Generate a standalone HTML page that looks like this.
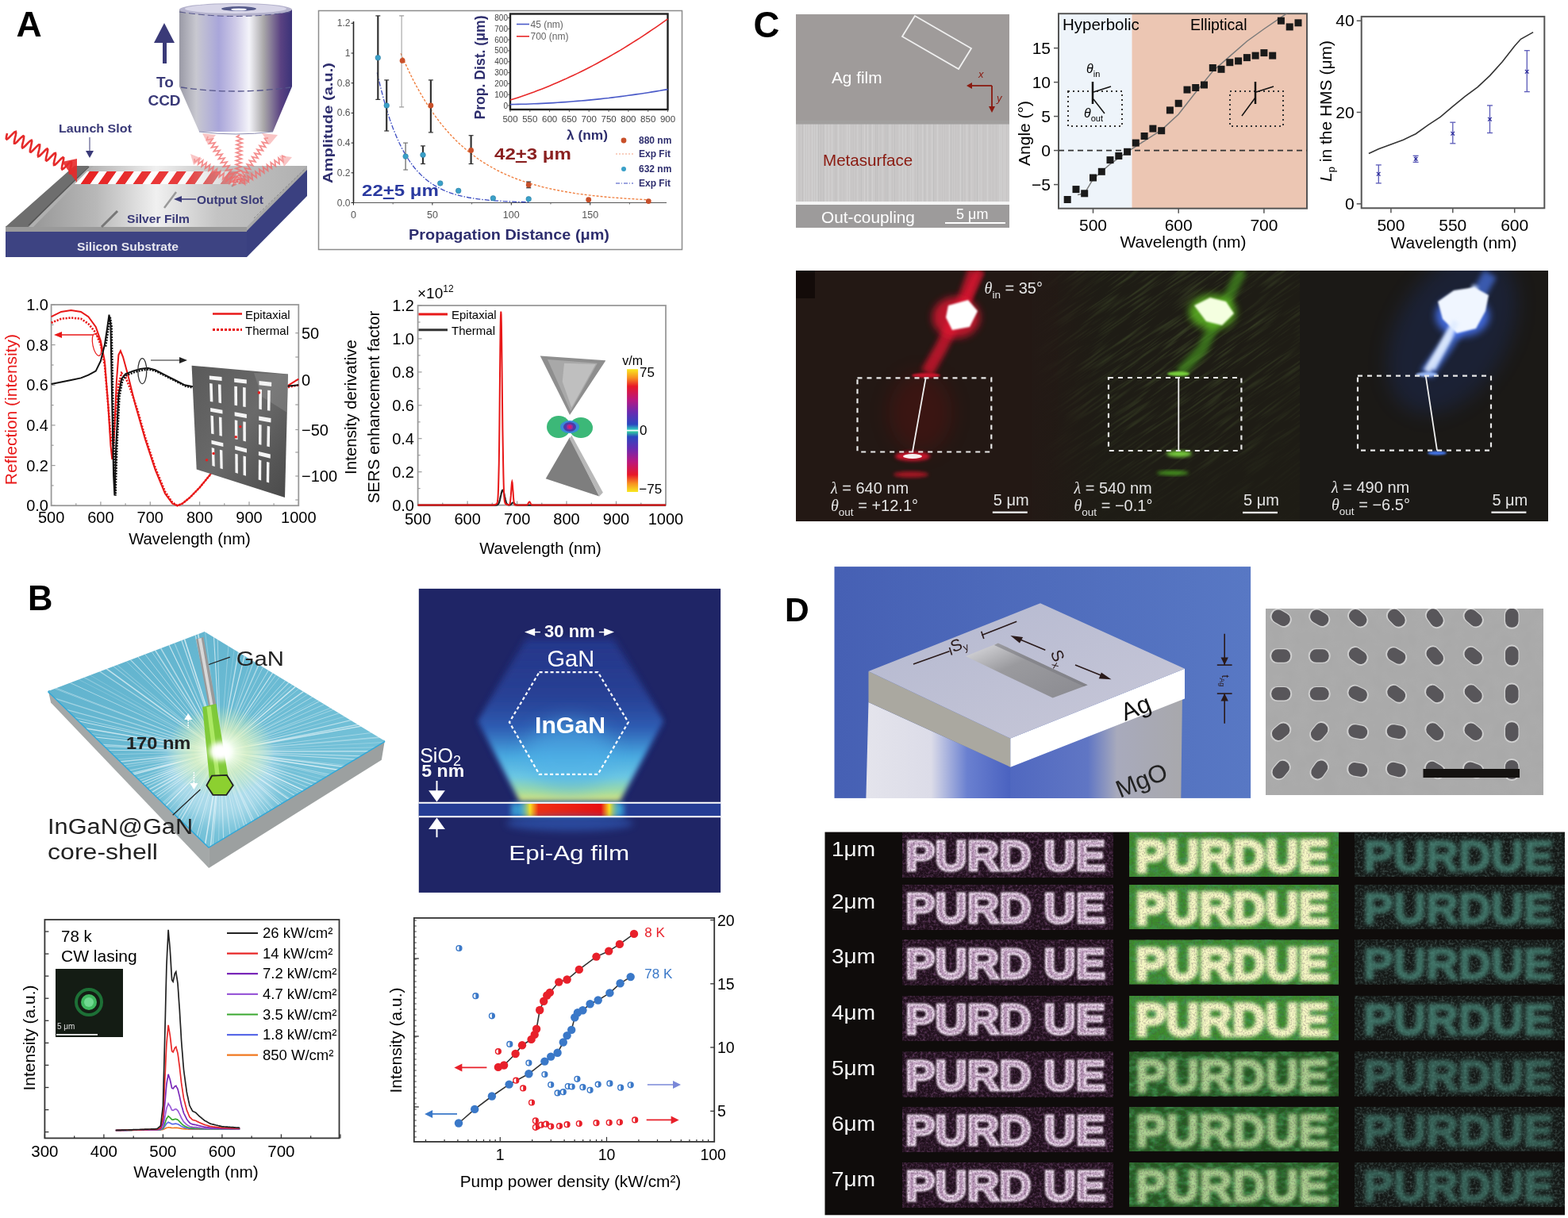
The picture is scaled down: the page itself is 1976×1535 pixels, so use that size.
<!DOCTYPE html>
<html><head><meta charset="utf-8"><title>Figure</title>
<style>
html,body{margin:0;padding:0;background:#fff;}
body{width:1976px;height:1535px;overflow:hidden;}
svg{display:block;}
text{font-family:"Liberation Sans",Arial,sans-serif;}
.b{font-weight:bold;}
</style></head><body>
<svg width="1976" height="1535" viewBox="0 0 1976 1535">
<defs>
<linearGradient id="gCyl" x1="0" x2="1" y1="0" y2="0">
 <stop offset="0" stop-color="#9a9aa6"/>
 <stop offset="0.15" stop-color="#c8c8d0"/>
 <stop offset="0.35" stop-color="#a9a6da"/>
 <stop offset="0.5" stop-color="#cfcbe8"/>
 <stop offset="0.62" stop-color="#f4f4fa"/>
 <stop offset="0.75" stop-color="#a8a6a8"/>
 <stop offset="0.9" stop-color="#5a4282"/>
 <stop offset="1" stop-color="#3a3278"/>
</linearGradient>
<linearGradient id="gSlabTop" x1="0" x2="1" y1="0" y2="0">
 <stop offset="0" stop-color="#8a8a8a"/>
 <stop offset="0.3" stop-color="#b8b8b8"/>
 <stop offset="0.5" stop-color="#f0f0f0"/>
 <stop offset="0.7" stop-color="#c4c4c4"/>
 <stop offset="1" stop-color="#b0b0b0"/>
</linearGradient>
<linearGradient id="gBeam" x1="0" x2="1" y1="0" y2="0">
 <stop offset="0" stop-color="#e82020" stop-opacity="1"/>
 <stop offset="0.7" stop-color="#e82020" stop-opacity="0.8"/>
 <stop offset="1" stop-color="#e82020" stop-opacity="0.1"/>
</linearGradient>
<pattern id="pStripe" width="22" height="20" patternUnits="userSpaceOnUse" patternTransform="skewX(-35)">
 <rect width="22" height="20" fill="#fff" fill-opacity="0"/>
 <rect x="0" width="13" height="20" fill="#ffffff"/>
</pattern>
<filter id="blur1" x="-20%" y="-20%" width="140%" height="140%"><feGaussianBlur stdDeviation="1"/></filter>
<filter id="blur2" x="-30%" y="-30%" width="160%" height="160%"><feGaussianBlur stdDeviation="2"/></filter>
<filter id="blur3" x="-30%" y="-30%" width="160%" height="160%"><feGaussianBlur stdDeviation="3"/></filter>
<filter id="blur5" x="-50%" y="-50%" width="200%" height="200%"><feGaussianBlur stdDeviation="5"/></filter>
<filter id="blur8" x="-50%" y="-50%" width="200%" height="200%"><feGaussianBlur stdDeviation="8"/></filter>
<filter id="blur12" x="-80%" y="-80%" width="260%" height="260%"><feGaussianBlur stdDeviation="12"/></filter>
</defs><text x="20.5" y="46" font-size="44.5" class="b" fill="#000">A</text><polygon points="7,291 311,291 311,324 7,324" fill="#3d4382"/><polygon points="311,286 387,209 387,247 311,324" fill="#3a4080"/><polygon points="7,285 311,285 311,292 7,292" fill="#9a9a9a"/><polygon points="311,285 387,209 387,214 311,291" fill="#a8a8a8"/><polygon points="94,209 387,209 311,286 7,286" fill="url(#gSlabTop)"/><polygon points="7,286 36,286 112,209 94,209" fill="#6e6e6e"/><polygon points="36,286 42,286 118,209 112,209" fill="#b0b0b0"/><line x1="36" y1="284" x2="112" y2="210" stroke="#555" stroke-width="1.5"/><line x1="128" y1="286" x2="148" y2="266" stroke="#777" stroke-width="3"/><line x1="207" y1="262" x2="222" y2="242" stroke="#999" stroke-width="2.5"/><line x1="292" y1="235" x2="300" y2="227" stroke="#999" stroke-width="2"/><line x1="320" y1="275" x2="384" y2="213" stroke="#888" stroke-width="1" stroke-dasharray="3,2"/><defs><linearGradient id="gFadeM" x1="0" x2="1"><stop offset="0" stop-color="#fff"/><stop offset="0.6" stop-color="#fff" stop-opacity="0.85"/><stop offset="1" stop-color="#fff" stop-opacity="0"/></linearGradient><mask id="mBeam" maskUnits="userSpaceOnUse" x="90" y="210" width="240" height="30"><rect x="90" y="210" width="240" height="30" fill="url(#gFadeM)"/></mask><pattern id="pStripeR" width="22" height="20" patternUnits="userSpaceOnUse" patternTransform="skewX(-35)"><rect x="0" width="12" height="20" fill="#e82020"/><rect x="12" width="10" height="20" fill="#fff"/></pattern></defs><polygon points="110,216 320,216 314,232 94,232" fill="url(#pStripeR)" mask="url(#mBeam)"/><polyline points="9.0,168.0 8.1,172.0 7.8,174.7 8.6,175.6 10.5,174.3 13.1,171.6 16.0,168.6 18.4,166.4 19.9,165.9 20.2,167.6 19.6,171.0 18.6,175.1 17.9,178.7 18.0,180.7 19.2,180.7 21.5,178.7 24.3,175.7 27.1,172.9 29.2,171.3 30.1,171.8 30.0,174.3 29.2,178.1 28.2,182.1 27.8,185.2 28.4,186.4 30.1,185.5 32.6,183.0 35.5,179.9 38.1,177.5 39.7,176.7 40.2,178.0 39.7,181.1 38.8,185.2 37.9,189.0 37.9,191.4 38.9,191.7 41.0,190.0 43.8,187.1 46.7,184.2 48.9,182.3 50.1,182.4 50.1,184.5 49.4,188.2 48.4,192.3 47.8,195.6 48.2,197.2 49.7,196.6 52.1,194.3 55.0,191.3 57.7,188.6 59.5,187.5 60.2,188.4 59.9,191.3 58.9,195.3 58.0,199.2 57.8,201.9 58.7,202.6 60.6,201.3 63.3,198.5 66.2,195.5 68.6,193.3 69.9,193.0 70.2,194.8 69.5,198.3 68.5,202.4 67.8,205.9 68.0,207.9 69.3,207.7 71.7,205.6 74.5,202.6 77.3,199.8 79.3,198.4 80.2,198.9 80.0,201.5 79.1,205.4 78.2,209.4 77.8,212.4 78.4,213.5 80.2,212.4 82.8,209.9 85.7,206.8 88.2,204.4 89.8,203.8 90.2,205.2 89.7,208.4 88.7,212.5 87.9,216.2 87.9,218.5 89.0,218.7 91.2,216.9 94.0,214.0" fill="none" stroke="#e52a2a" stroke-width="2.6"/><polygon points="78,204 97,200 97,230" fill="#e52a2a" opacity="0.9"/><polyline points="262.0,172.0 260.5,176.3 268.0,175.0 263.5,181.1 271.0,179.8 266.5,185.9 274.0,184.7 269.5,190.8 277.0,189.5 272.5,195.6 280.0,194.3 275.5,200.4 283.0,199.2 278.5,205.3 286.0,204.0 281.5,210.1 289.0,208.8 284.5,214.9 292.0,213.7 287.5,219.8 295.0,218.5 290.5,224.6 298.0,223.3 293.5,229.4 298.0,230.0" fill="none" stroke="#f06a6a" stroke-width="1.8" opacity="0.75"/><polyline points="302.0,170.0 298.4,172.4 305.3,175.1 298.3,177.4 305.2,180.1 298.1,182.4 305.0,185.1 297.9,187.4 304.8,190.1 297.8,192.4 304.7,195.1 297.6,197.4 304.5,200.1 297.4,202.4 304.3,205.1 297.3,207.4 304.2,210.1 297.1,212.4 304.0,215.1 296.9,217.4 303.8,220.1 296.8,222.4 303.7,225.1 296.6,227.4 300.0,230.0" fill="none" stroke="#f06a6a" stroke-width="1.8" opacity="0.75"/><polyline points="338.0,174.0 333.5,174.4 337.7,180.6 330.4,179.0 334.6,185.3 327.2,183.7 331.4,190.0 324.0,188.4 328.2,194.6 320.9,193.0 325.1,199.3 317.7,197.7 321.9,204.0 314.5,202.4 318.7,208.6 311.4,207.0 315.6,213.3 308.2,211.7 312.4,218.0 305.0,216.4 309.2,222.6 301.9,221.0 306.1,227.3 298.7,225.7 300.0,230.0" fill="none" stroke="#f06a6a" stroke-width="1.8" opacity="0.75"/><polyline points="245.0,200.0 245.4,204.3 251.2,199.7 249.8,207.0 255.6,202.3 254.2,209.7 260.1,205.0 258.6,212.3 264.5,207.7 263.1,215.0 268.9,210.3 267.5,217.7 273.3,213.0 271.9,220.3 277.7,215.7 276.3,223.0 282.1,218.3 280.7,225.7 286.6,221.0 285.1,228.3 291.0,223.7 289.6,231.0 295.4,226.3 294.0,233.7 298.0,232.0" fill="none" stroke="#f06a6a" stroke-width="1.8" opacity="0.75"/><polyline points="360.0,198.0 355.8,196.4 356.9,203.9 351.0,199.2 352.1,206.7 346.1,202.1 347.3,209.5 341.3,204.9 342.4,212.4 336.5,207.7 337.6,215.2 331.6,210.6 332.8,218.0 326.8,213.4 327.9,220.9 322.0,216.2 323.1,223.7 317.1,219.1 318.3,226.5 312.3,221.9 313.4,229.4 307.5,224.7 308.6,232.2 302.6,227.6 302.0,232.0" fill="none" stroke="#f06a6a" stroke-width="1.8" opacity="0.75"/><g fill="#f6a0a0" opacity="0.6"><polygon points="255,168 272,170 262,182"/><polygon points="330,168 350,170 340,182"/><polygon points="240,194 255,200 244,208"/><polygon points="352,196 368,198 358,210"/></g><rect x="226" y="12" width="142" height="97" fill="url(#gCyl)"/><polygon points="226,109 368,109 344,166 251,166" fill="url(#gCyl)"/><ellipse cx="297" cy="12" rx="71" ry="8" fill="#b4b2cc"/><ellipse cx="297" cy="11" rx="64" ry="6" fill="#d8d6e8"/><ellipse cx="301" cy="11" rx="22" ry="3" fill="#555a8a"/><ellipse cx="301" cy="12" rx="10" ry="1.6" fill="#f0f0ff"/><path d="M228,110 Q297,120 366,110" fill="none" stroke="#55558a" stroke-width="1.3" stroke-dasharray="8,4"/><path d="M226,15 Q297,26 368,15" fill="none" stroke="#55558a" stroke-width="1" stroke-dasharray="8,4"/><path d="M251,166 Q297,172 344,166" fill="none" stroke="#8a8ab0" stroke-width="1"/><polygon points="207,29 194,54 220,54" fill="#3a3a78"/><rect x="205" y="53" width="5" height="27" fill="#3a3a78"/><text x="208" y="110" font-size="19" class="b" fill="#3a3a78" text-anchor="middle">To</text><text x="207" y="133" font-size="19" class="b" fill="#3a3a78" text-anchor="middle">CCD</text><text x="74" y="167" font-size="14.5" class="b" fill="#3a3a78" textLength="92" lengthAdjust="spacingAndGlyphs">Launch Slot</text><line x1="113" y1="173" x2="113" y2="192" stroke="#3a3a78" stroke-width="1"/><polygon points="108,190 118,190 113,199" fill="#3a3a78"/><text x="248" y="257" font-size="14.5" class="b" fill="#3a3a78" textLength="84" lengthAdjust="spacingAndGlyphs">Output Slot</text><line x1="228" y1="251" x2="247" y2="251" stroke="#3a3a78" stroke-width="1.5"/><polygon points="219,251 229,247 229,255" fill="#3a3a78"/><text x="160" y="281" font-size="14.5" class="b" fill="#3a3a78" textLength="79" lengthAdjust="spacingAndGlyphs">Silver Film</text><text x="97" y="316" font-size="14.5" class="b" fill="#e8e8f0" textLength="128" lengthAdjust="spacingAndGlyphs">Silicon Substrate</text><rect x="401.5" y="13.5" width="458" height="301" fill="#fff" stroke="#8c8c8c" stroke-width="1.5"/><line x1="445.5" y1="27" x2="445.5" y2="255.5" stroke="#222" stroke-width="1.6"/><line x1="445.5" y1="255.5" x2="840" y2="255.5" stroke="#555" stroke-width="1.2"/><line x1="442.5" y1="29.3" x2="445.5" y2="29.3" stroke="#222" stroke-width="1"/><text x="441.5" y="33.3" font-size="12" fill="#555" text-anchor="end">1.2</text><line x1="442.5" y1="67.0" x2="445.5" y2="67.0" stroke="#222" stroke-width="1"/><text x="441.5" y="71.0" font-size="12" fill="#555" text-anchor="end">1</text><line x1="442.5" y1="104.7" x2="445.5" y2="104.7" stroke="#222" stroke-width="1"/><text x="441.5" y="108.7" font-size="12" fill="#555" text-anchor="end">0.8</text><line x1="442.5" y1="142.4" x2="445.5" y2="142.4" stroke="#222" stroke-width="1"/><text x="441.5" y="146.4" font-size="12" fill="#555" text-anchor="end">0.6</text><line x1="442.5" y1="180.1" x2="445.5" y2="180.1" stroke="#222" stroke-width="1"/><text x="441.5" y="184.1" font-size="12" fill="#555" text-anchor="end">0.4</text><line x1="442.5" y1="217.8" x2="445.5" y2="217.8" stroke="#222" stroke-width="1"/><text x="441.5" y="221.8" font-size="12" fill="#555" text-anchor="end">0.2</text><line x1="442.5" y1="255.5" x2="445.5" y2="255.5" stroke="#222" stroke-width="1"/><text x="441.5" y="259.5" font-size="12" fill="#555" text-anchor="end">0.0</text><line x1="445.5" y1="255.5" x2="445.5" y2="258.5" stroke="#222" stroke-width="1"/><text x="445.5" y="274.5" font-size="12.5" fill="#555" text-anchor="middle">0</text><line x1="544.9" y1="255.5" x2="544.9" y2="258.5" stroke="#222" stroke-width="1"/><text x="544.9" y="274.5" font-size="12.5" fill="#555" text-anchor="middle">50</text><line x1="644.3" y1="255.5" x2="644.3" y2="258.5" stroke="#222" stroke-width="1"/><text x="644.3" y="274.5" font-size="12.5" fill="#555" text-anchor="middle">100</text><line x1="743.7" y1="255.5" x2="743.7" y2="258.5" stroke="#222" stroke-width="1"/><text x="743.7" y="274.5" font-size="12.5" fill="#555" text-anchor="middle">150</text><line x1="495.2" y1="255.5" x2="495.2" y2="257.5" stroke="#444" stroke-width="0.8"/><line x1="594.6" y1="255.5" x2="594.6" y2="257.5" stroke="#444" stroke-width="0.8"/><line x1="694.0" y1="255.5" x2="694.0" y2="257.5" stroke="#444" stroke-width="0.8"/><line x1="793.4" y1="255.5" x2="793.4" y2="257.5" stroke="#444" stroke-width="0.8"/><text transform="translate(419,155) rotate(-90)" font-size="16.5" class="b" fill="#2e2e6e" text-anchor="middle" textLength="152" lengthAdjust="spacingAndGlyphs">Amplitude (a.u.)</text><text x="515" y="302" font-size="17.5" class="b" fill="#2e2e6e" textLength="253" lengthAdjust="spacingAndGlyphs">Propagation Distance (μm)</text><polyline points="505.1,67.2 509.1,76.4 513.1,85.1 517.1,93.5 521.0,101.4 525.0,108.9 529.0,116.0 533.0,122.8 536.9,129.3 540.9,135.5 544.9,141.3 548.9,146.9 552.9,152.2 556.8,157.2 560.8,162.0 564.8,166.6 568.8,170.9 572.7,175.0 576.7,179.0 580.7,182.7 584.7,186.2 588.6,189.6 592.6,192.8 596.6,195.9 600.6,198.8 604.5,201.6 608.5,204.2 612.5,206.7 616.5,209.1 620.4,211.3 624.4,213.5 628.4,215.5 632.4,217.5 636.3,219.3 640.3,221.1 644.3,222.8 648.3,224.4 652.3,225.9 656.2,227.3 660.2,228.7 664.2,230.0 668.2,231.3 672.1,232.4 676.1,233.6 680.1,234.6 684.1,235.7 688.0,236.6 692.0,237.5 696.0,238.4 700.0,239.3 703.9,240.0 707.9,240.8 711.9,241.5 715.9,242.2 719.8,242.8 723.8,243.5 727.8,244.1 731.8,244.6 735.7,245.1 739.7,245.6 743.7,246.1 747.7,246.6 751.7,247.0 755.6,247.4 759.6,247.8 763.6,248.2 767.6,248.6 771.5,248.9 775.5,249.2 779.5,249.5 783.5,249.8 787.4,250.1 791.4,250.4 795.4,250.6 799.4,250.8 803.3,251.1 807.3,251.3 811.3,251.5 815.3,251.7 819.2,251.9" fill="none" stroke="#f08040" stroke-width="1.4" stroke-dasharray="3,2"/><polyline points="475.3,91.5 479.3,108.8 483.3,124.2 487.2,138.0 491.2,150.3 495.2,161.4 499.2,171.3 503.2,180.2 507.1,188.1 511.1,195.2 515.1,201.5 519.1,207.2 523.0,212.3 527.0,216.8 531.0,220.9 535.0,224.5 538.9,227.8 542.9,230.7 546.9,233.3 550.9,235.6 554.8,237.7 558.8,239.6 562.8,241.3 566.8,242.8 570.7,244.1 574.7,245.3 578.7,246.4 582.7,247.3 586.6,248.2 590.6,249.0 594.6,249.6 598.6,250.3 602.6,250.8 606.5,251.3 610.5,251.7 614.5,252.1 618.5,252.5 622.4,252.8 626.4,253.1 630.4,253.3 634.4,253.6 638.3,253.8 642.3,254.0 646.3,254.1 650.3,254.3 654.2,254.4 658.2,254.5 662.2,254.6 666.2,254.7" fill="none" stroke="#3a4ac0" stroke-width="1.3" stroke-dasharray="6,2,1.5,2"/><line x1="476.3" y1="125.4" x2="476.3" y2="19.9" stroke="#333" stroke-width="2.2"/><line x1="473.3" y1="125.4" x2="479.3" y2="125.4" stroke="#333" stroke-width="1.2"/><line x1="473.3" y1="19.9" x2="479.3" y2="19.9" stroke="#333" stroke-width="1.2"/><line x1="506.1" y1="134.9" x2="506.1" y2="19.9" stroke="#999" stroke-width="1"/><line x1="503.1" y1="134.9" x2="509.1" y2="134.9" stroke="#999" stroke-width="1.2"/><line x1="503.1" y1="19.9" x2="509.1" y2="19.9" stroke="#999" stroke-width="1.2"/><line x1="487.2" y1="165.0" x2="487.2" y2="100.9" stroke="#333" stroke-width="2.2"/><line x1="484.2" y1="165.0" x2="490.2" y2="165.0" stroke="#333" stroke-width="1.2"/><line x1="484.2" y1="100.9" x2="490.2" y2="100.9" stroke="#333" stroke-width="1.2"/><line x1="542.9" y1="166.9" x2="542.9" y2="100.9" stroke="#333" stroke-width="2.2"/><line x1="539.9" y1="166.9" x2="545.9" y2="166.9" stroke="#333" stroke-width="1.2"/><line x1="539.9" y1="100.9" x2="545.9" y2="100.9" stroke="#333" stroke-width="1.2"/><line x1="511.1" y1="214.0" x2="511.1" y2="180.1" stroke="#777" stroke-width="1.4"/><line x1="508.1" y1="214.0" x2="514.1" y2="214.0" stroke="#777" stroke-width="1.2"/><line x1="508.1" y1="180.1" x2="514.1" y2="180.1" stroke="#777" stroke-width="1.2"/><line x1="533.0" y1="206.5" x2="533.0" y2="183.9" stroke="#333" stroke-width="2.2"/><line x1="530.0" y1="206.5" x2="536.0" y2="206.5" stroke="#333" stroke-width="1.2"/><line x1="530.0" y1="183.9" x2="536.0" y2="183.9" stroke="#333" stroke-width="1.2"/><line x1="593.6" y1="206.5" x2="593.6" y2="170.7" stroke="#333" stroke-width="2.2"/><line x1="590.6" y1="206.5" x2="596.6" y2="206.5" stroke="#333" stroke-width="1.2"/><line x1="590.6" y1="170.7" x2="596.6" y2="170.7" stroke="#333" stroke-width="1.2"/><line x1="666.2" y1="236.7" x2="666.2" y2="229.1" stroke="#333" stroke-width="2.2"/><line x1="663.2" y1="236.7" x2="669.2" y2="236.7" stroke="#333" stroke-width="1.2"/><line x1="663.2" y1="229.1" x2="669.2" y2="229.1" stroke="#333" stroke-width="1.2"/><circle cx="507.1" cy="76.4" r="3.4" fill="#c8502a"/><circle cx="542.9" cy="133.0" r="3.4" fill="#c8502a"/><circle cx="593.6" cy="189.5" r="3.4" fill="#c8502a"/><circle cx="666.2" cy="232.9" r="3.4" fill="#c8502a"/><circle cx="741.7" cy="251.7" r="3.4" fill="#c8502a"/><circle cx="817.3" cy="253.6" r="3.4" fill="#c8502a"/><circle cx="476.3" cy="72.7" r="3.3" fill="#3aa0c8" stroke="#2a7aa0" stroke-width="0.6"/><circle cx="487.2" cy="133.0" r="3.3" fill="#3aa0c8" stroke="#2a7aa0" stroke-width="0.6"/><circle cx="511.1" cy="197.1" r="3.3" fill="#3aa0c8" stroke="#2a7aa0" stroke-width="0.6"/><circle cx="533.0" cy="195.2" r="3.3" fill="#3aa0c8" stroke="#2a7aa0" stroke-width="0.6"/><circle cx="554.8" cy="231.0" r="3.3" fill="#3aa0c8" stroke="#2a7aa0" stroke-width="0.6"/><circle cx="577.7" cy="240.4" r="3.3" fill="#3aa0c8" stroke="#2a7aa0" stroke-width="0.6"/><circle cx="621.4" cy="249.8" r="3.3" fill="#3aa0c8" stroke="#2a7aa0" stroke-width="0.6"/><circle cx="666.2" cy="250.8" r="3.3" fill="#3aa0c8" stroke="#2a7aa0" stroke-width="0.6"/><text x="623" y="201" font-size="21" class="b" fill="#8a2020" textLength="97" lengthAdjust="spacingAndGlyphs">42<tspan text-decoration="underline">+</tspan>3 μm</text><text x="456" y="247" font-size="21" class="b" fill="#2a3aa0" textLength="97" lengthAdjust="spacingAndGlyphs">22<tspan text-decoration="underline">+</tspan>5 μm</text><circle cx="786" cy="177" r="3.4" fill="#c8502a"/><line x1="776" y1="194" x2="798" y2="194" stroke="#f4a080" stroke-width="1.2" stroke-dasharray="2,2"/><circle cx="786" cy="213" r="3" fill="#3aa0c8"/><line x1="776" y1="231" x2="798" y2="231" stroke="#3a4ac0" stroke-width="1.2" stroke-dasharray="5,2,1,2"/><text x="805" y="181" font-size="12" class="b" fill="#2e2e6e">880 nm</text><text x="805" y="198" font-size="12" class="b" fill="#2e2e6e">Exp Fit</text><text x="805" y="217" font-size="12" class="b" fill="#2e2e6e">632 nm</text><text x="805" y="235" font-size="12" class="b" fill="#2e2e6e">Exp Fit</text><rect x="643" y="17.5" width="198.5" height="120.5" fill="#fff" stroke="#222" stroke-width="2.4"/><line x1="640" y1="133.0" x2="643" y2="133.0" stroke="#333" stroke-width="0.8"/><text x="640" y="136.5" font-size="10" fill="#444" text-anchor="end">0</text><line x1="640" y1="119.2" x2="643" y2="119.2" stroke="#333" stroke-width="0.8"/><text x="640" y="122.7" font-size="10" fill="#444" text-anchor="end">100</text><line x1="640" y1="105.4" x2="643" y2="105.4" stroke="#333" stroke-width="0.8"/><text x="640" y="108.9" font-size="10" fill="#444" text-anchor="end">200</text><line x1="640" y1="91.6" x2="643" y2="91.6" stroke="#333" stroke-width="0.8"/><text x="640" y="95.1" font-size="10" fill="#444" text-anchor="end">300</text><line x1="640" y1="77.8" x2="643" y2="77.8" stroke="#333" stroke-width="0.8"/><text x="640" y="81.2" font-size="10" fill="#444" text-anchor="end">400</text><line x1="640" y1="63.9" x2="643" y2="63.9" stroke="#333" stroke-width="0.8"/><text x="640" y="67.4" font-size="10" fill="#444" text-anchor="end">500</text><line x1="640" y1="50.1" x2="643" y2="50.1" stroke="#333" stroke-width="0.8"/><text x="640" y="53.6" font-size="10" fill="#444" text-anchor="end">600</text><line x1="640" y1="36.3" x2="643" y2="36.3" stroke="#333" stroke-width="0.8"/><text x="640" y="39.8" font-size="10" fill="#444" text-anchor="end">700</text><line x1="640" y1="22.5" x2="643" y2="22.5" stroke="#333" stroke-width="0.8"/><text x="640" y="26.0" font-size="10" fill="#444" text-anchor="end">800</text><line x1="643.0" y1="138" x2="643.0" y2="141" stroke="#333" stroke-width="0.8"/><text x="643.0" y="154" font-size="11.5" fill="#444" text-anchor="middle">500</text><line x1="667.8" y1="138" x2="667.8" y2="141" stroke="#333" stroke-width="0.8"/><text x="667.8" y="154" font-size="11.5" fill="#444" text-anchor="middle">550</text><line x1="692.6" y1="138" x2="692.6" y2="141" stroke="#333" stroke-width="0.8"/><text x="692.6" y="154" font-size="11.5" fill="#444" text-anchor="middle">600</text><line x1="717.4" y1="138" x2="717.4" y2="141" stroke="#333" stroke-width="0.8"/><text x="717.4" y="154" font-size="11.5" fill="#444" text-anchor="middle">650</text><line x1="742.2" y1="138" x2="742.2" y2="141" stroke="#333" stroke-width="0.8"/><text x="742.2" y="154" font-size="11.5" fill="#444" text-anchor="middle">700</text><line x1="767.1" y1="138" x2="767.1" y2="141" stroke="#333" stroke-width="0.8"/><text x="767.1" y="154" font-size="11.5" fill="#444" text-anchor="middle">750</text><line x1="791.9" y1="138" x2="791.9" y2="141" stroke="#333" stroke-width="0.8"/><text x="791.9" y="154" font-size="11.5" fill="#444" text-anchor="middle">800</text><line x1="816.7" y1="138" x2="816.7" y2="141" stroke="#333" stroke-width="0.8"/><text x="816.7" y="154" font-size="11.5" fill="#444" text-anchor="middle">850</text><line x1="841.5" y1="138" x2="841.5" y2="141" stroke="#333" stroke-width="0.8"/><text x="841.5" y="154" font-size="11.5" fill="#444" text-anchor="middle">900</text><polyline points="643.0,126.1 648.0,124.5 652.9,122.9 657.9,121.3 662.9,119.6 667.8,117.8 672.8,116.0 677.7,114.1 682.7,112.2 687.7,110.2 692.6,108.2 697.6,106.1 702.5,104.0 707.5,101.8 712.5,99.6 717.4,97.3 722.4,95.0 727.4,92.6 732.3,90.2 737.3,87.7 742.2,85.2 747.2,82.6 752.2,80.0 757.1,77.3 762.1,74.5 767.1,71.8 772.0,68.9 777.0,66.0 782.0,63.1 786.9,60.1 791.9,57.0 796.8,53.9 801.8,50.8 806.8,47.6 811.7,44.3 816.7,41.0 821.6,37.7 826.6,34.3 831.6,30.8 836.5,27.3 841.5,23.8" fill="none" stroke="#e82828" stroke-width="1.6"/><polyline points="643.0,131.6 648.0,131.5 652.9,131.4 657.9,131.3 662.9,131.2 667.8,131.0 672.8,130.8 677.7,130.6 682.7,130.4 687.7,130.1 692.6,129.9 697.6,129.6 702.5,129.3 707.5,128.9 712.5,128.6 717.4,128.2 722.4,127.8 727.4,127.4 732.3,127.0 737.3,126.6 742.2,126.1 747.2,125.6 752.2,125.1 757.1,124.6 762.1,124.0 767.1,123.5 772.0,122.9 777.0,122.3 782.0,121.6 786.9,121.0 791.9,120.3 796.8,119.6 801.8,118.9 806.8,118.2 811.7,117.5 816.7,116.7 821.6,115.9 826.6,115.1 831.6,114.3 836.5,113.4 841.5,112.6" fill="none" stroke="#4a5ac8" stroke-width="1.6"/><line x1="651" y1="30.5" x2="667" y2="30.5" stroke="#4a5ac8" stroke-width="1.6"/><text x="668.5" y="34.5" font-size="12" fill="#666">45 (nm)</text><line x1="651" y1="45.8" x2="667" y2="45.8" stroke="#e82828" stroke-width="1.6"/><text x="668.5" y="49.8" font-size="12" fill="#666">700 (nm)</text><text transform="translate(611,85) rotate(-90)" font-size="17.5" class="b" fill="#2e2e6e" text-anchor="middle" textLength="131" lengthAdjust="spacingAndGlyphs">Prop. Dist. (μm)</text><text x="714" y="176" font-size="17" class="b" fill="#2e2e6e" textLength="52" lengthAdjust="spacingAndGlyphs">λ (nm)</text><rect x="64.6" y="384" width="311.7" height="253.2" fill="#fff" stroke="#9a9a9a" stroke-width="1.8"/><line x1="64.6" y1="637.2" x2="69.6" y2="637.2" stroke="#9a9a9a" stroke-width="1.2"/><line x1="64.6" y1="611.9" x2="67.6" y2="611.9" stroke="#9a9a9a" stroke-width="1.2"/><line x1="64.6" y1="586.6" x2="69.6" y2="586.6" stroke="#9a9a9a" stroke-width="1.2"/><line x1="64.6" y1="561.2" x2="67.6" y2="561.2" stroke="#9a9a9a" stroke-width="1.2"/><line x1="64.6" y1="535.9" x2="69.6" y2="535.9" stroke="#9a9a9a" stroke-width="1.2"/><line x1="64.6" y1="510.6" x2="67.6" y2="510.6" stroke="#9a9a9a" stroke-width="1.2"/><line x1="64.6" y1="485.3" x2="69.6" y2="485.3" stroke="#9a9a9a" stroke-width="1.2"/><line x1="64.6" y1="460.0" x2="67.6" y2="460.0" stroke="#9a9a9a" stroke-width="1.2"/><line x1="64.6" y1="434.6" x2="69.6" y2="434.6" stroke="#9a9a9a" stroke-width="1.2"/><line x1="64.6" y1="409.3" x2="67.6" y2="409.3" stroke="#9a9a9a" stroke-width="1.2"/><line x1="64.6" y1="384.0" x2="69.6" y2="384.0" stroke="#9a9a9a" stroke-width="1.2"/><line x1="64.6" y1="637.2" x2="64.6" y2="632.2" stroke="#9a9a9a" stroke-width="1.2"/><line x1="95.8" y1="637.2" x2="95.8" y2="634.2" stroke="#9a9a9a" stroke-width="1.2"/><line x1="126.9" y1="637.2" x2="126.9" y2="632.2" stroke="#9a9a9a" stroke-width="1.2"/><line x1="158.1" y1="637.2" x2="158.1" y2="634.2" stroke="#9a9a9a" stroke-width="1.2"/><line x1="189.3" y1="637.2" x2="189.3" y2="632.2" stroke="#9a9a9a" stroke-width="1.2"/><line x1="220.5" y1="637.2" x2="220.5" y2="634.2" stroke="#9a9a9a" stroke-width="1.2"/><line x1="251.6" y1="637.2" x2="251.6" y2="632.2" stroke="#9a9a9a" stroke-width="1.2"/><line x1="282.8" y1="637.2" x2="282.8" y2="634.2" stroke="#9a9a9a" stroke-width="1.2"/><line x1="314.0" y1="637.2" x2="314.0" y2="632.2" stroke="#9a9a9a" stroke-width="1.2"/><line x1="345.1" y1="637.2" x2="345.1" y2="634.2" stroke="#9a9a9a" stroke-width="1.2"/><line x1="376.3" y1="637.2" x2="376.3" y2="632.2" stroke="#9a9a9a" stroke-width="1.2"/><line x1="372.3" y1="419.7" x2="376.3" y2="419.7" stroke="#9a9a9a" stroke-width="1.2"/><line x1="372.3" y1="479" x2="376.3" y2="479" stroke="#9a9a9a" stroke-width="1.2"/><line x1="372.3" y1="541.5" x2="376.3" y2="541.5" stroke="#9a9a9a" stroke-width="1.2"/><line x1="372.3" y1="600" x2="376.3" y2="600" stroke="#9a9a9a" stroke-width="1.2"/><line x1="372.3" y1="450" x2="376.3" y2="450" stroke="#9a9a9a" stroke-width="1.2"/><line x1="372.3" y1="510" x2="376.3" y2="510" stroke="#9a9a9a" stroke-width="1.2"/><line x1="372.3" y1="570" x2="376.3" y2="570" stroke="#9a9a9a" stroke-width="1.2"/><line x1="372.3" y1="630" x2="376.3" y2="630" stroke="#9a9a9a" stroke-width="1.2"/><text x="61" y="391.0" font-size="20" fill="#000" text-anchor="end">1.0</text><text x="61" y="441.6" font-size="20" fill="#000" text-anchor="end">0.8</text><text x="61" y="492.3" font-size="20" fill="#000" text-anchor="end">0.6</text><text x="61" y="542.9" font-size="20" fill="#000" text-anchor="end">0.4</text><text x="61" y="593.6" font-size="20" fill="#000" text-anchor="end">0.2</text><text x="61" y="644.2" font-size="20" fill="#000" text-anchor="end">0.0</text><text x="64.6" y="659" font-size="20" fill="#000" text-anchor="middle">500</text><text x="126.9" y="659" font-size="20" fill="#000" text-anchor="middle">600</text><text x="189.3" y="659" font-size="20" fill="#000" text-anchor="middle">700</text><text x="251.6" y="659" font-size="20" fill="#000" text-anchor="middle">800</text><text x="314.0" y="659" font-size="20" fill="#000" text-anchor="middle">900</text><text x="376.3" y="659" font-size="20" fill="#000" text-anchor="middle">1000</text><text x="380" y="426.7" font-size="20" fill="#000">50</text><text x="380" y="486" font-size="20" fill="#000">0</text><text x="380" y="548.5" font-size="20" fill="#000">−50</text><text x="380" y="607" font-size="20" fill="#000">−100</text><text x="239" y="686" font-size="20.3" fill="#000" text-anchor="middle">Wavelength (nm)</text><text transform="translate(21,516) rotate(-90)" font-size="21" fill="#e81818" text-anchor="middle">Reflection (intensity)</text><path d="M64.6,399.2 L77.1,392.9 L89.5,391.1 L102.0,392.9 L111.4,399.2 L120.7,411.9 L126.9,429.6 L131.9,454.9 L136.3,510.6 L139.4,561.2 L141.3,579.0 L143.8,548.6 L146.9,480.2 L149.4,447.3 L151.9,442.2 L155.0,449.8 L161.2,472.6 L170.6,510.6 L183.0,553.6 L195.5,591.6 L208.0,622.0 L217.3,634.7 L223.6,637.2 L229.8,634.7 L239.2,627.1 L251.6,614.4 L264.1,599.2 L276.6,581.5 L289.0,561.2 L301.5,543.5 L314.0,528.3 L326.4,513.1 L338.9,503.0 L351.4,495.4 L363.8,485.3 L376.3,477.7" fill="none" stroke="#e81818" stroke-width="2"/><path d="M64.6,406.8 L77.1,401.7 L89.5,400.5 L102.0,401.7 L111.4,408.1 L120.7,419.4 L126.9,434.6 L131.9,460.0 L136.3,510.6 L139.4,548.6 L142.5,561.2 L145.6,523.3 L149.4,485.3 L153.1,470.1 L158.1,475.2 L164.3,490.3 L173.7,518.2 L183.0,551.1 L195.5,589.1 L208.0,619.5 L217.3,633.4 L223.6,637.2 L229.8,634.7 L239.2,627.1 L251.6,614.4 L264.1,599.2 L276.6,581.5 L289.0,561.2 L301.5,543.5 L314.0,528.3 L326.4,513.1 L338.9,503.0 L351.4,495.4 L363.8,487.8 L376.3,485.3" fill="none" stroke="#e81818" stroke-width="2.6" stroke-dasharray="2.2,1.6"/><path d="M64.6,484.0 L77.1,481.5 L89.5,479.0 L102.0,476.4 L111.4,472.6 L120.7,467.6 L126.9,454.9 L131.9,434.6 L135.0,414.4 L137.5,396.7 L139.4,409.3 L141.3,510.6 L143.1,599.2 L144.4,624.5 L146.3,561.2 L149.4,497.9 L153.1,477.7 L158.1,471.4 L167.5,467.6 L176.8,465.0 L186.2,463.8 L195.5,466.3 L208.0,472.6 L220.5,479.0 L232.9,485.3 L245.4,487.8 L264.1,485.3 L351.4,487.8 L376.3,485.3" fill="none" stroke="#111" stroke-width="2"/><path d="M133.2,436.7 L136.3,416.6 L138.8,399.1 L140.7,411.6 L142.5,511.9 L144.4,599.6 L145.6,624.7 L147.5,562.0 L150.6,499.3 L154.4,479.3 L159.4,473.0 L168.7,469.3 L178.1,466.7 L187.4,465.5 L196.8,468.0 L209.2,474.3 L221.7,480.5 L234.2,486.8 L246.6,489.3" fill="none" stroke="#111" stroke-width="2.4" stroke-dasharray="2,1.5"/><ellipse cx="179.30560000000003" cy="467.55600000000004" rx="5.5" ry="16" fill="none" stroke="#333" stroke-width="1.3"/><line x1="190" y1="454" x2="228" y2="454" stroke="#222" stroke-width="1.2"/><polygon points="236,454 226,450 226,458" fill="#222"/><ellipse cx="121.9528" cy="434.64" rx="5" ry="14" fill="none" stroke="#e81818" stroke-width="1.2" transform="rotate(-12 121.9528 434.64)"/><line x1="76" y1="422" x2="117" y2="422" stroke="#e81818" stroke-width="1.4"/><polygon points="68,422 78,418 78,426" fill="#e81818"/><line x1="268" y1="395.5" x2="305" y2="395.5" stroke="#e81818" stroke-width="2.5"/><line x1="268" y1="415.5" x2="305" y2="415.5" stroke="#e81818" stroke-width="3" stroke-dasharray="3,2"/><text x="309" y="402" font-size="15" fill="#000">Epitaxial</text><text x="309" y="422" font-size="15" fill="#000">Thermal</text><defs><linearGradient id="gMeta" x1="0" x2="1" y1="0" y2="1"><stop offset="0" stop-color="#5a5a5a"/><stop offset="0.5" stop-color="#6a6a6a"/><stop offset="0.8" stop-color="#555"/><stop offset="1" stop-color="#4a4a4a"/></linearGradient></defs><polygon points="241.6,460.7 363,471.4 359,627 247.7,591.6" fill="url(#gMeta)"/><polygon points="320,470 363,471.4 362,520 330,500" fill="#8a8a8a" opacity="0.5"/><polygon points="263.8,473.5 279.5,475.1 279.6,480.0 263.9,478.2" fill="#f4f4f4"/><polygon points="264.1,482.9 267.7,483.4 268.4,506.5 264.8,505.9" fill="#f4f4f4"/><polygon points="274.9,484.2 278.5,484.7 279.0,508.2 275.5,507.6" fill="#f4f4f4"/><polygon points="265.1,514.1 280.4,516.7 280.5,521.5 265.2,518.8" fill="#f4f4f4"/><polygon points="265.4,523.5 268.9,524.2 269.6,547.3 266.1,546.5" fill="#f4f4f4"/><polygon points="275.9,525.5 279.4,526.1 279.9,549.7 276.5,548.9" fill="#f4f4f4"/><polygon points="266.4,554.7 281.3,558.2 281.4,563.1 266.5,559.4" fill="#f4f4f4"/><polygon points="266.7,564.1 270.1,565.0 270.8,588.1 267.4,587.1" fill="#f4f4f4"/><polygon points="276.9,566.8 280.3,567.6 280.8,591.2 277.5,590.2" fill="#f4f4f4"/><polygon points="295.1,476.7 310.8,478.4 310.8,483.5 295.2,481.7" fill="#f4f4f4"/><polygon points="295.3,486.7 298.9,487.1 299.1,511.3 295.5,510.8" fill="#f4f4f4"/><polygon points="306.1,488.0 309.7,488.4 309.7,513.0 306.2,512.4" fill="#f4f4f4"/><polygon points="295.6,519.3 310.9,521.9 310.9,527.0 295.7,524.2" fill="#f4f4f4"/><polygon points="295.8,529.2 299.3,529.9 299.5,554.1 296.0,553.3" fill="#f4f4f4"/><polygon points="306.3,531.2 309.8,531.8 309.9,556.4 306.4,555.6" fill="#f4f4f4"/><polygon points="296.1,561.8 311.0,565.4 311.0,570.5 296.2,566.8" fill="#f4f4f4"/><polygon points="296.3,571.7 299.7,572.6 299.9,596.8 296.5,595.8" fill="#f4f4f4"/><polygon points="306.5,574.4 309.9,575.2 310.0,599.8 306.6,598.8" fill="#f4f4f4"/><polygon points="326.5,480.0 342.2,481.7 342.1,487.0 326.5,485.2" fill="#f4f4f4"/><polygon points="326.4,490.4 330.0,490.9 329.8,516.2 326.3,515.6" fill="#f4f4f4"/><polygon points="337.2,491.7 340.8,492.1 340.4,517.8 336.9,517.3" fill="#f4f4f4"/><polygon points="326.2,524.5 341.5,527.1 341.4,532.4 326.2,529.7" fill="#f4f4f4"/><polygon points="326.1,534.9 329.6,535.5 329.4,560.8 326.0,560.1" fill="#f4f4f4"/><polygon points="336.7,536.8 340.2,537.5 339.8,563.2 336.3,562.4" fill="#f4f4f4"/><polygon points="325.9,569.0 340.8,572.5 340.7,577.8 325.9,574.1" fill="#f4f4f4"/><polygon points="325.9,579.3 329.3,580.2 329.1,605.5 325.7,604.5" fill="#f4f4f4"/><polygon points="336.1,582.0 339.5,582.8 339.1,608.5 335.8,607.5" fill="#f4f4f4"/><circle cx="326.4" cy="494.9" r="1.8" fill="#e82020"/><circle cx="302.8" cy="537.7" r="1.8" fill="#e82020"/><circle cx="297.2" cy="550.7" r="1.8" fill="#e82020"/><circle cx="269.1" cy="571.5" r="1.8" fill="#e82020"/><circle cx="260.5" cy="579.8" r="1.8" fill="#e82020"/><rect x="526.6" y="385" width="312.4" height="251.6" fill="#fff" stroke="#9a9a9a" stroke-width="1.8"/><line x1="526.6" y1="636.6" x2="531.6" y2="636.6" stroke="#9a9a9a" stroke-width="1.2"/><line x1="526.6" y1="615.6" x2="529.6" y2="615.6" stroke="#9a9a9a" stroke-width="1.2"/><line x1="526.6" y1="594.7" x2="531.6" y2="594.7" stroke="#9a9a9a" stroke-width="1.2"/><line x1="526.6" y1="573.7" x2="529.6" y2="573.7" stroke="#9a9a9a" stroke-width="1.2"/><line x1="526.6" y1="552.7" x2="531.6" y2="552.7" stroke="#9a9a9a" stroke-width="1.2"/><line x1="526.6" y1="531.8" x2="529.6" y2="531.8" stroke="#9a9a9a" stroke-width="1.2"/><line x1="526.6" y1="510.8" x2="531.6" y2="510.8" stroke="#9a9a9a" stroke-width="1.2"/><line x1="526.6" y1="489.8" x2="529.6" y2="489.8" stroke="#9a9a9a" stroke-width="1.2"/><line x1="526.6" y1="468.9" x2="531.6" y2="468.9" stroke="#9a9a9a" stroke-width="1.2"/><line x1="526.6" y1="447.9" x2="529.6" y2="447.9" stroke="#9a9a9a" stroke-width="1.2"/><line x1="526.6" y1="426.9" x2="531.6" y2="426.9" stroke="#9a9a9a" stroke-width="1.2"/><line x1="526.6" y1="406.0" x2="529.6" y2="406.0" stroke="#9a9a9a" stroke-width="1.2"/><line x1="526.6" y1="385.0" x2="531.6" y2="385.0" stroke="#9a9a9a" stroke-width="1.2"/><line x1="526.6" y1="636.6" x2="526.6" y2="631.6" stroke="#9a9a9a" stroke-width="1.2"/><line x1="557.8" y1="636.6" x2="557.8" y2="633.6" stroke="#9a9a9a" stroke-width="1.2"/><line x1="589.1" y1="636.6" x2="589.1" y2="631.6" stroke="#9a9a9a" stroke-width="1.2"/><line x1="620.3" y1="636.6" x2="620.3" y2="633.6" stroke="#9a9a9a" stroke-width="1.2"/><line x1="651.6" y1="636.6" x2="651.6" y2="631.6" stroke="#9a9a9a" stroke-width="1.2"/><line x1="682.8" y1="636.6" x2="682.8" y2="633.6" stroke="#9a9a9a" stroke-width="1.2"/><line x1="714.0" y1="636.6" x2="714.0" y2="631.6" stroke="#9a9a9a" stroke-width="1.2"/><line x1="745.3" y1="636.6" x2="745.3" y2="633.6" stroke="#9a9a9a" stroke-width="1.2"/><line x1="776.5" y1="636.6" x2="776.5" y2="631.6" stroke="#9a9a9a" stroke-width="1.2"/><line x1="807.8" y1="636.6" x2="807.8" y2="633.6" stroke="#9a9a9a" stroke-width="1.2"/><line x1="839.0" y1="636.6" x2="839.0" y2="631.6" stroke="#9a9a9a" stroke-width="1.2"/><text x="522" y="392.0" font-size="20" fill="#000" text-anchor="end">1.2</text><text x="522" y="433.9" font-size="20" fill="#000" text-anchor="end">1.0</text><text x="522" y="475.9" font-size="20" fill="#000" text-anchor="end">0.8</text><text x="522" y="517.8" font-size="20" fill="#000" text-anchor="end">0.6</text><text x="522" y="559.7" font-size="20" fill="#000" text-anchor="end">0.4</text><text x="522" y="601.7" font-size="20" fill="#000" text-anchor="end">0.2</text><text x="522" y="643.6" font-size="20" fill="#000" text-anchor="end">0.0</text><text x="526.6" y="661" font-size="20" fill="#000" text-anchor="middle">500</text><text x="589.1" y="661" font-size="20" fill="#000" text-anchor="middle">600</text><text x="651.6" y="661" font-size="20" fill="#000" text-anchor="middle">700</text><text x="714.0" y="661" font-size="20" fill="#000" text-anchor="middle">800</text><text x="776.5" y="661" font-size="20" fill="#000" text-anchor="middle">900</text><text x="839.0" y="661" font-size="20" fill="#000" text-anchor="middle">1000</text><text x="526" y="376" font-size="19" fill="#000">×10<tspan font-size="12" dy="-8">12</tspan></text><text x="681" y="698" font-size="20.3" fill="#000" text-anchor="middle">Wavelength (nm)</text><text transform="translate(449,513) rotate(-90)" font-size="20.5" fill="#000" text-anchor="middle">Intensity derivative</text><text transform="translate(478,513) rotate(-90)" font-size="20.5" fill="#000" text-anchor="middle">SERS enhancement factor</text><polyline points="526.6,636.6 526.9,636.6 527.2,636.6 527.5,636.6 527.8,636.6 528.2,636.6 528.5,636.6 528.8,636.6 529.1,636.6 529.4,636.6 529.7,636.6 530.0,636.6 530.3,636.6 530.7,636.6 531.0,636.6 531.3,636.6 531.6,636.6 531.9,636.6 532.2,636.6 532.5,636.6 532.8,636.6 533.2,636.6 533.5,636.6 533.8,636.6 534.1,636.6 534.4,636.6 534.7,636.6 535.0,636.6 535.3,636.6 535.7,636.6 536.0,636.6 536.3,636.6 536.6,636.6 536.9,636.6 537.2,636.6 537.5,636.6 537.8,636.6 538.2,636.6 538.5,636.6 538.8,636.6 539.1,636.6 539.4,636.6 539.7,636.6 540.0,636.6 540.3,636.6 540.7,636.6 541.0,636.6 541.3,636.6 541.6,636.6 541.9,636.6 542.2,636.6 542.5,636.6 542.8,636.6 543.2,636.6 543.5,636.6 543.8,636.6 544.1,636.6 544.4,636.6 544.7,636.6 545.0,636.6 545.3,636.6 545.7,636.6 546.0,636.6 546.3,636.6 546.6,636.6 546.9,636.6 547.2,636.6 547.5,636.6 547.8,636.6 548.2,636.6 548.5,636.6 548.8,636.6 549.1,636.6 549.4,636.6 549.7,636.6 550.0,636.6 550.3,636.6 550.7,636.6 551.0,636.6 551.3,636.6 551.6,636.6 551.9,636.6 552.2,636.6 552.5,636.6 552.8,636.6 553.2,636.6 553.5,636.6 553.8,636.6 554.1,636.6 554.4,636.6 554.7,636.6 555.0,636.6 555.3,636.6 555.7,636.6 556.0,636.6 556.3,636.6 556.6,636.6 556.9,636.6 557.2,636.6 557.5,636.6 557.8,636.6 558.2,636.6 558.5,636.6 558.8,636.6 559.1,636.6 559.4,636.6 559.7,636.6 560.0,636.6 560.3,636.6 560.7,636.6 561.0,636.6 561.3,636.6 561.6,636.6 561.9,636.6 562.2,636.6 562.5,636.6 562.8,636.6 563.2,636.6 563.5,636.6 563.8,636.6 564.1,636.6 564.4,636.6 564.7,636.6 565.0,636.6 565.3,636.6 565.6,636.6 566.0,636.6 566.3,636.6 566.6,636.6 566.9,636.6 567.2,636.6 567.5,636.6 567.8,636.6 568.1,636.6 568.5,636.6 568.8,636.6 569.1,636.6 569.4,636.6 569.7,636.6 570.0,636.6 570.3,636.6 570.6,636.6 571.0,636.6 571.3,636.6 571.6,636.6 571.9,636.6 572.2,636.6 572.5,636.6 572.8,636.6 573.1,636.6 573.5,636.6 573.8,636.6 574.1,636.6 574.4,636.6 574.7,636.6 575.0,636.6 575.3,636.6 575.6,636.6 576.0,636.6 576.3,636.6 576.6,636.6 576.9,636.6 577.2,636.6 577.5,636.6 577.8,636.6 578.1,636.6 578.5,636.6 578.8,636.6 579.1,636.6 579.4,636.6 579.7,636.6 580.0,636.6 580.3,636.6 580.6,636.6 581.0,636.6 581.3,636.6 581.6,636.6 581.9,636.6 582.2,636.6 582.5,636.6 582.8,636.6 583.1,636.6 583.5,636.6 583.8,636.6 584.1,636.6 584.4,636.6 584.7,636.6 585.0,636.6 585.3,636.6 585.6,636.6 586.0,636.6 586.3,636.6 586.6,636.6 586.9,636.6 587.2,636.6 587.5,636.6 587.8,636.6 588.1,636.6 588.5,636.6 588.8,636.6 589.1,636.6 589.4,636.6 589.7,636.6 590.0,636.6 590.3,636.6 590.6,636.6 591.0,636.6 591.3,636.6 591.6,636.6 591.9,636.6 592.2,636.6 592.5,636.6 592.8,636.6 593.1,636.6 593.5,636.6 593.8,636.6 594.1,636.6 594.4,636.6 594.7,636.6 595.0,636.6 595.3,636.6 595.6,636.6 596.0,636.6 596.3,636.6 596.6,636.6 596.9,636.6 597.2,636.6 597.5,636.6 597.8,636.6 598.1,636.6 598.5,636.6 598.8,636.6 599.1,636.6 599.4,636.6 599.7,636.6 600.0,636.6 600.3,636.6 600.6,636.6 601.0,636.6 601.3,636.6 601.6,636.6 601.9,636.6 602.2,636.6 602.5,636.6 602.8,636.6 603.1,636.6 603.5,636.6 603.8,636.6 604.1,636.6 604.4,636.6 604.7,636.6 605.0,636.6 605.3,636.6 605.6,636.6 605.9,636.6 606.3,636.6 606.6,636.6 606.9,636.6 607.2,636.6 607.5,636.6 607.8,636.6 608.1,636.6 608.4,636.6 608.8,636.6 609.1,636.6 609.4,636.6 609.7,636.6 610.0,636.6 610.3,636.6 610.6,636.6 610.9,636.6 611.3,636.6 611.6,636.6 611.9,636.6 612.2,636.6 612.5,636.6 612.8,636.6 613.1,636.6 613.4,636.6 613.8,636.6 614.1,636.6 614.4,636.6 614.7,636.6 615.0,636.6 615.3,636.6 615.6,636.6 615.9,636.6 616.3,636.6 616.6,636.6 616.9,636.6 617.2,636.6 617.5,636.6 617.8,636.6 618.1,636.6 618.4,636.6 618.8,636.6 619.1,636.6 619.4,636.6 619.7,636.6 620.0,636.6 620.3,636.6 620.6,636.6 620.9,636.6 621.3,636.6 621.6,636.6 621.9,636.6 622.2,636.6 622.5,636.6 622.8,636.6 623.1,636.6 623.4,636.6 623.8,636.6 624.1,636.6 624.4,636.6 624.7,636.6 625.0,636.6 625.3,636.5 625.6,636.5 625.9,636.4 626.3,636.4 626.6,636.3 626.9,636.1 627.2,635.9 627.5,635.6 627.8,635.3 628.1,634.9 628.4,634.3 628.8,633.7 629.1,632.9 629.4,631.9 629.7,630.9 630.0,629.7 630.3,628.3 630.6,626.9 630.9,625.5 631.3,624.0 631.6,622.6 631.9,621.3 632.2,620.1 632.5,619.1 632.8,618.3 633.1,617.9 633.4,617.7 633.8,617.9 634.1,618.3 634.4,619.1 634.7,620.1 635.0,621.3 635.3,622.6 635.6,624.0 635.9,625.5 636.3,626.9 636.6,628.3 636.9,629.7 637.2,630.9 637.5,631.9 637.8,632.9 638.1,633.7 638.4,634.3 638.8,634.9 639.1,635.3 639.4,635.6 639.7,635.9 640.0,636.1 640.3,636.2 640.6,636.4 640.9,636.4 641.3,636.5 641.6,636.5 641.9,636.5 642.2,636.4 642.5,636.4 642.8,636.3 643.1,636.1 643.4,635.9 643.8,635.7 644.1,635.4 644.4,635.1 644.7,634.8 645.0,634.5 645.3,634.2 645.6,633.9 645.9,633.6 646.2,633.5 646.6,633.5 646.9,633.5 647.2,633.6 647.5,633.9 647.8,634.2 648.1,634.5 648.4,634.8 648.7,635.1 649.1,635.4 649.4,635.7 649.7,635.9 650.0,636.1 650.3,636.3 650.6,636.4 650.9,636.5 651.2,636.5 651.6,636.5 651.9,636.6 652.2,636.6 652.5,636.6 652.8,636.6 653.1,636.6 653.4,636.6 653.7,636.6 654.1,636.6 654.4,636.6 654.7,636.6 655.0,636.6 655.3,636.6 655.6,636.6 655.9,636.6 656.2,636.6 656.6,636.6 656.9,636.6 657.2,636.6 657.5,636.6 657.8,636.6 658.1,636.6 658.4,636.6 658.7,636.6 659.1,636.6 659.4,636.6 659.7,636.6 660.0,636.6 660.3,636.6 660.6,636.6 660.9,636.6 661.2,636.6 661.6,636.6 661.9,636.6 662.2,636.6 662.5,636.6 662.8,636.6 663.1,636.6 663.4,636.6 663.7,636.6 664.1,636.6 664.4,636.6 664.7,636.6 665.0,636.6 665.3,636.6 665.6,636.6 665.9,636.6 666.2,636.6 666.6,636.6 666.9,636.6 667.2,636.6 667.5,636.6 667.8,636.6 668.1,636.6 668.4,636.6 668.7,636.6 669.1,636.6 669.4,636.6 669.7,636.6 670.0,636.6 670.3,636.6 670.6,636.6 670.9,636.6 671.2,636.6 671.6,636.6 671.9,636.6 672.2,636.6 672.5,636.6 672.8,636.6 673.1,636.6 673.4,636.6 673.7,636.6 674.1,636.6 674.4,636.6 674.7,636.6 675.0,636.6 675.3,636.6 675.6,636.6 675.9,636.6 676.2,636.6 676.6,636.6 676.9,636.6 677.2,636.6 677.5,636.6 677.8,636.6 678.1,636.6 678.4,636.6 678.7,636.6 679.1,636.6 679.4,636.6 679.7,636.6 680.0,636.6 680.3,636.6 680.6,636.6 680.9,636.6 681.2,636.6 681.6,636.6 681.9,636.6 682.2,636.6 682.5,636.6 682.8,636.6 683.1,636.6 683.4,636.6 683.7,636.6 684.0,636.6 684.4,636.6 684.7,636.6 685.0,636.6 685.3,636.6 685.6,636.6 685.9,636.6 686.2,636.6 686.5,636.6 686.9,636.6 687.2,636.6 687.5,636.6 687.8,636.6 688.1,636.6 688.4,636.6 688.7,636.6 689.0,636.6 689.4,636.6 689.7,636.6 690.0,636.6 690.3,636.6 690.6,636.6 690.9,636.6 691.2,636.6 691.5,636.6 691.9,636.6 692.2,636.6 692.5,636.6 692.8,636.6 693.1,636.6 693.4,636.6 693.7,636.6 694.0,636.6 694.4,636.6 694.7,636.6 695.0,636.6 695.3,636.6 695.6,636.6 695.9,636.6 696.2,636.6 696.5,636.6 696.9,636.6 697.2,636.6 697.5,636.6 697.8,636.6 698.1,636.6 698.4,636.6 698.7,636.6 699.0,636.6 699.4,636.6 699.7,636.6 700.0,636.6 700.3,636.6 700.6,636.6 700.9,636.6 701.2,636.6 701.5,636.6 701.9,636.6 702.2,636.6 702.5,636.6 702.8,636.6 703.1,636.6 703.4,636.6 703.7,636.6 704.0,636.6 704.4,636.6 704.7,636.6 705.0,636.6 705.3,636.6 705.6,636.6 705.9,636.6 706.2,636.6 706.5,636.6 706.9,636.6 707.2,636.6 707.5,636.6 707.8,636.6 708.1,636.6 708.4,636.6 708.7,636.6 709.0,636.6 709.4,636.6 709.7,636.6 710.0,636.6 710.3,636.6 710.6,636.6 710.9,636.6 711.2,636.6 711.5,636.6 711.9,636.6 712.2,636.6 712.5,636.6 712.8,636.6 713.1,636.6 713.4,636.6 713.7,636.6 714.0,636.6 714.4,636.6 714.7,636.6 715.0,636.6 715.3,636.6 715.6,636.6 715.9,636.6 716.2,636.6 716.5,636.6 716.9,636.6 717.2,636.6 717.5,636.6 717.8,636.6 718.1,636.6 718.4,636.6 718.7,636.6 719.0,636.6 719.4,636.6 719.7,636.6 720.0,636.6 720.3,636.6 720.6,636.6 720.9,636.6 721.2,636.6 721.5,636.6 721.9,636.6 722.2,636.6 722.5,636.6 722.8,636.6 723.1,636.6 723.4,636.6 723.7,636.6 724.0,636.6 724.3,636.6 724.7,636.6 725.0,636.6 725.3,636.6 725.6,636.6 725.9,636.6 726.2,636.6 726.5,636.6 726.8,636.6 727.2,636.6 727.5,636.6 727.8,636.6 728.1,636.6 728.4,636.6 728.7,636.6 729.0,636.6 729.3,636.6 729.7,636.6 730.0,636.6 730.3,636.6 730.6,636.6 730.9,636.6 731.2,636.6 731.5,636.6 731.8,636.6 732.2,636.6 732.5,636.6 732.8,636.6 733.1,636.6 733.4,636.6 733.7,636.6 734.0,636.6 734.3,636.6 734.7,636.6 735.0,636.6 735.3,636.6 735.6,636.6 735.9,636.6 736.2,636.6 736.5,636.6 736.8,636.6 737.2,636.6 737.5,636.6 737.8,636.6 738.1,636.6 738.4,636.6 738.7,636.6 739.0,636.6 739.3,636.6 739.7,636.6 740.0,636.6 740.3,636.6 740.6,636.6 740.9,636.6 741.2,636.6 741.5,636.6 741.8,636.6 742.2,636.6 742.5,636.6 742.8,636.6 743.1,636.6 743.4,636.6 743.7,636.6 744.0,636.6 744.3,636.6 744.7,636.6 745.0,636.6 745.3,636.6 745.6,636.6 745.9,636.6 746.2,636.6 746.5,636.6 746.8,636.6 747.2,636.6 747.5,636.6 747.8,636.6 748.1,636.6 748.4,636.6 748.7,636.6 749.0,636.6 749.3,636.6 749.7,636.6 750.0,636.6 750.3,636.6 750.6,636.6 750.9,636.6 751.2,636.6 751.5,636.6 751.8,636.6 752.2,636.6 752.5,636.6 752.8,636.6 753.1,636.6 753.4,636.6 753.7,636.6 754.0,636.6 754.3,636.6 754.7,636.6 755.0,636.6 755.3,636.6 755.6,636.6 755.9,636.6 756.2,636.6 756.5,636.6 756.8,636.6 757.2,636.6 757.5,636.6 757.8,636.6 758.1,636.6 758.4,636.6 758.7,636.6 759.0,636.6 759.3,636.6 759.7,636.6 760.0,636.6 760.3,636.6 760.6,636.6 760.9,636.6 761.2,636.6 761.5,636.6 761.8,636.6 762.1,636.6 762.5,636.6 762.8,636.6 763.1,636.6 763.4,636.6 763.7,636.6 764.0,636.6 764.3,636.6 764.6,636.6 765.0,636.6 765.3,636.6 765.6,636.6 765.9,636.6 766.2,636.6 766.5,636.6 766.8,636.6 767.1,636.6 767.5,636.6 767.8,636.6 768.1,636.6 768.4,636.6 768.7,636.6 769.0,636.6 769.3,636.6 769.6,636.6 770.0,636.6 770.3,636.6 770.6,636.6 770.9,636.6 771.2,636.6 771.5,636.6 771.8,636.6 772.1,636.6 772.5,636.6 772.8,636.6 773.1,636.6 773.4,636.6 773.7,636.6 774.0,636.6 774.3,636.6 774.6,636.6 775.0,636.6 775.3,636.6 775.6,636.6 775.9,636.6 776.2,636.6 776.5,636.6 776.8,636.6 777.1,636.6 777.5,636.6 777.8,636.6 778.1,636.6 778.4,636.6 778.7,636.6 779.0,636.6 779.3,636.6 779.6,636.6 780.0,636.6 780.3,636.6 780.6,636.6 780.9,636.6 781.2,636.6 781.5,636.6 781.8,636.6 782.1,636.6 782.5,636.6 782.8,636.6 783.1,636.6 783.4,636.6 783.7,636.6 784.0,636.6 784.3,636.6 784.6,636.6 785.0,636.6 785.3,636.6 785.6,636.6 785.9,636.6 786.2,636.6 786.5,636.6 786.8,636.6 787.1,636.6 787.5,636.6 787.8,636.6 788.1,636.6 788.4,636.6 788.7,636.6 789.0,636.6 789.3,636.6 789.6,636.6 790.0,636.6 790.3,636.6 790.6,636.6 790.9,636.6 791.2,636.6 791.5,636.6 791.8,636.6 792.1,636.6 792.5,636.6 792.8,636.6 793.1,636.6 793.4,636.6 793.7,636.6 794.0,636.6 794.3,636.6 794.6,636.6 795.0,636.6 795.3,636.6 795.6,636.6 795.9,636.6 796.2,636.6 796.5,636.6 796.8,636.6 797.1,636.6 797.5,636.6 797.8,636.6 798.1,636.6 798.4,636.6 798.7,636.6 799.0,636.6 799.3,636.6 799.6,636.6 800.0,636.6 800.3,636.6 800.6,636.6 800.9,636.6 801.2,636.6 801.5,636.6 801.8,636.6 802.1,636.6 802.4,636.6 802.8,636.6 803.1,636.6 803.4,636.6 803.7,636.6 804.0,636.6 804.3,636.6 804.6,636.6 804.9,636.6 805.3,636.6 805.6,636.6 805.9,636.6 806.2,636.6 806.5,636.6 806.8,636.6 807.1,636.6 807.4,636.6 807.8,636.6 808.1,636.6 808.4,636.6 808.7,636.6 809.0,636.6 809.3,636.6 809.6,636.6 809.9,636.6 810.3,636.6 810.6,636.6 810.9,636.6 811.2,636.6 811.5,636.6 811.8,636.6 812.1,636.6 812.4,636.6 812.8,636.6 813.1,636.6 813.4,636.6 813.7,636.6 814.0,636.6 814.3,636.6 814.6,636.6 814.9,636.6 815.3,636.6 815.6,636.6 815.9,636.6 816.2,636.6 816.5,636.6 816.8,636.6 817.1,636.6 817.4,636.6 817.8,636.6 818.1,636.6 818.4,636.6 818.7,636.6 819.0,636.6 819.3,636.6 819.6,636.6 819.9,636.6 820.3,636.6 820.6,636.6 820.9,636.6 821.2,636.6 821.5,636.6 821.8,636.6 822.1,636.6 822.4,636.6 822.8,636.6 823.1,636.6 823.4,636.6 823.7,636.6 824.0,636.6 824.3,636.6 824.6,636.6 824.9,636.6 825.3,636.6 825.6,636.6 825.9,636.6 826.2,636.6 826.5,636.6 826.8,636.6 827.1,636.6 827.4,636.6 827.8,636.6 828.1,636.6 828.4,636.6 828.7,636.6 829.0,636.6 829.3,636.6 829.6,636.6 829.9,636.6 830.3,636.6 830.6,636.6 830.9,636.6 831.2,636.6 831.5,636.6 831.8,636.6 832.1,636.6 832.4,636.6 832.8,636.6 833.1,636.6 833.4,636.6 833.7,636.6 834.0,636.6 834.3,636.6 834.6,636.6 834.9,636.6 835.3,636.6 835.6,636.6 835.9,636.6 836.2,636.6 836.5,636.6 836.8,636.6 837.1,636.6 837.4,636.6 837.8,636.6 838.1,636.6 838.4,636.6 838.7,636.6 839.0,636.6" fill="none" stroke="#222" stroke-width="2.2"/><polyline points="526.6,636.6 526.9,636.6 527.2,636.6 527.5,636.6 527.8,636.6 528.2,636.6 528.5,636.6 528.8,636.6 529.1,636.6 529.4,636.6 529.7,636.6 530.0,636.6 530.3,636.6 530.7,636.6 531.0,636.6 531.3,636.6 531.6,636.6 531.9,636.6 532.2,636.6 532.5,636.6 532.8,636.6 533.2,636.6 533.5,636.6 533.8,636.6 534.1,636.6 534.4,636.6 534.7,636.6 535.0,636.6 535.3,636.6 535.7,636.6 536.0,636.6 536.3,636.6 536.6,636.6 536.9,636.6 537.2,636.6 537.5,636.6 537.8,636.6 538.2,636.6 538.5,636.6 538.8,636.6 539.1,636.6 539.4,636.6 539.7,636.6 540.0,636.6 540.3,636.6 540.7,636.6 541.0,636.6 541.3,636.6 541.6,636.6 541.9,636.6 542.2,636.6 542.5,636.6 542.8,636.6 543.2,636.6 543.5,636.6 543.8,636.6 544.1,636.6 544.4,636.6 544.7,636.6 545.0,636.6 545.3,636.6 545.7,636.6 546.0,636.6 546.3,636.6 546.6,636.6 546.9,636.6 547.2,636.6 547.5,636.6 547.8,636.6 548.2,636.6 548.5,636.6 548.8,636.6 549.1,636.6 549.4,636.6 549.7,636.6 550.0,636.6 550.3,636.6 550.7,636.6 551.0,636.6 551.3,636.6 551.6,636.6 551.9,636.6 552.2,636.6 552.5,636.6 552.8,636.6 553.2,636.6 553.5,636.6 553.8,636.6 554.1,636.6 554.4,636.6 554.7,636.6 555.0,636.6 555.3,636.6 555.7,636.6 556.0,636.6 556.3,636.6 556.6,636.6 556.9,636.6 557.2,636.6 557.5,636.6 557.8,636.6 558.2,636.6 558.5,636.6 558.8,636.6 559.1,636.6 559.4,636.6 559.7,636.6 560.0,636.6 560.3,636.6 560.7,636.6 561.0,636.6 561.3,636.6 561.6,636.6 561.9,636.6 562.2,636.6 562.5,636.6 562.8,636.6 563.2,636.6 563.5,636.6 563.8,636.6 564.1,636.6 564.4,636.6 564.7,636.6 565.0,636.6 565.3,636.6 565.6,636.6 566.0,636.6 566.3,636.6 566.6,636.6 566.9,636.6 567.2,636.6 567.5,636.6 567.8,636.6 568.1,636.6 568.5,636.6 568.8,636.6 569.1,636.6 569.4,636.6 569.7,636.6 570.0,636.6 570.3,636.6 570.6,636.6 571.0,636.6 571.3,636.6 571.6,636.6 571.9,636.6 572.2,636.6 572.5,636.6 572.8,636.6 573.1,636.6 573.5,636.6 573.8,636.6 574.1,636.6 574.4,636.6 574.7,636.6 575.0,636.6 575.3,636.6 575.6,636.6 576.0,636.6 576.3,636.6 576.6,636.6 576.9,636.6 577.2,636.6 577.5,636.6 577.8,636.6 578.1,636.6 578.5,636.6 578.8,636.6 579.1,636.6 579.4,636.6 579.7,636.6 580.0,636.6 580.3,636.6 580.6,636.6 581.0,636.6 581.3,636.6 581.6,636.6 581.9,636.6 582.2,636.6 582.5,636.6 582.8,636.6 583.1,636.6 583.5,636.6 583.8,636.6 584.1,636.6 584.4,636.6 584.7,636.6 585.0,636.6 585.3,636.6 585.6,636.6 586.0,636.6 586.3,636.6 586.6,636.6 586.9,636.6 587.2,636.6 587.5,636.6 587.8,636.6 588.1,636.6 588.5,636.6 588.8,636.6 589.1,636.6 589.4,636.6 589.7,636.6 590.0,636.6 590.3,636.6 590.6,636.6 591.0,636.6 591.3,636.6 591.6,636.6 591.9,636.6 592.2,636.6 592.5,636.6 592.8,636.6 593.1,636.6 593.5,636.6 593.8,636.6 594.1,636.6 594.4,636.6 594.7,636.6 595.0,636.6 595.3,636.6 595.6,636.6 596.0,636.6 596.3,636.6 596.6,636.6 596.9,636.6 597.2,636.6 597.5,636.6 597.8,636.6 598.1,636.6 598.5,636.6 598.8,636.6 599.1,636.6 599.4,636.6 599.7,636.6 600.0,636.6 600.3,636.6 600.6,636.6 601.0,636.6 601.3,636.6 601.6,636.6 601.9,636.6 602.2,636.6 602.5,636.6 602.8,636.6 603.1,636.6 603.5,636.6 603.8,636.6 604.1,636.6 604.4,636.6 604.7,636.6 605.0,636.6 605.3,636.6 605.6,636.6 605.9,636.6 606.3,636.6 606.6,636.6 606.9,636.6 607.2,636.6 607.5,636.6 607.8,636.6 608.1,636.6 608.4,636.6 608.8,636.6 609.1,636.6 609.4,636.6 609.7,636.6 610.0,636.6 610.3,636.6 610.6,636.6 610.9,636.6 611.3,636.6 611.6,636.6 611.9,636.6 612.2,636.6 612.5,636.6 612.8,636.6 613.1,636.6 613.4,636.6 613.8,636.6 614.1,636.6 614.4,636.6 614.7,636.6 615.0,636.6 615.3,636.6 615.6,636.6 615.9,636.6 616.3,636.6 616.6,636.6 616.9,636.6 617.2,636.6 617.5,636.6 617.8,636.6 618.1,636.6 618.4,636.6 618.8,636.6 619.1,636.6 619.4,636.6 619.7,636.6 620.0,636.5 620.3,636.5 620.6,636.5 620.9,636.5 621.3,636.5 621.6,636.4 621.9,636.4 622.2,636.3 622.5,636.3 622.8,636.2 623.1,636.2 623.4,636.1 623.8,636.0 624.1,635.9 624.4,635.8 624.7,635.7 625.0,635.5 625.3,635.3 625.6,635.1 625.9,634.9 626.3,634.4 626.6,633.7 626.9,632.5 627.2,630.5 627.5,627.1 627.8,621.6 628.1,613.1 628.4,600.7 628.8,583.7 629.1,561.5 629.4,534.6 629.7,504.1 630.0,472.2 630.3,442.0 630.6,416.8 630.9,399.6 631.3,392.5 631.6,396.2 631.9,409.8 632.2,431.2 632.5,457.6 632.8,486.1 633.1,514.2 633.4,540.3 633.8,563.2 634.1,582.5 634.4,598.1 634.7,610.1 635.0,619.0 635.3,625.1 635.6,629.2 635.9,631.7 636.3,633.2 636.6,634.1 636.9,634.6 637.2,635.0 637.5,635.2 637.8,635.4 638.1,635.5 638.4,635.7 638.8,635.8 639.1,635.9 639.4,636.0 639.7,636.1 640.0,636.2 640.3,636.2 640.6,636.3 640.9,636.3 641.3,636.3 641.6,636.3 641.9,636.1 642.2,635.8 642.5,635.0 642.8,633.8 643.1,631.7 643.4,628.8 643.8,624.9 644.1,620.3 644.4,615.5 644.7,611.3 645.0,608.3 645.3,607.2 645.6,608.3 645.9,611.3 646.2,615.6 646.6,620.4 646.9,625.0 647.2,628.8 647.5,631.8 647.8,633.8 648.1,635.1 648.4,635.9 648.7,636.3 649.1,636.5 649.4,636.5 649.7,636.6 650.0,636.6 650.3,636.6 650.6,636.6 650.9,636.6 651.2,636.6 651.6,636.6 651.9,636.6 652.2,636.6 652.5,636.6 652.8,636.6 653.1,636.6 653.4,636.6 653.7,636.6 654.1,636.6 654.4,636.6 654.7,636.6 655.0,636.6 655.3,636.6 655.6,636.6 655.9,636.6 656.2,636.6 656.6,636.6 656.9,636.6 657.2,636.6 657.5,636.6 657.8,636.6 658.1,636.6 658.4,636.6 658.7,636.6 659.1,636.6 659.4,636.6 659.7,636.6 660.0,636.6 660.3,636.6 660.6,636.6 660.9,636.6 661.2,636.6 661.6,636.6 661.9,636.6 662.2,636.6 662.5,636.6 662.8,636.6 663.1,636.6 663.4,636.5 663.7,636.5 664.1,636.3 664.4,636.2 664.7,635.9 665.0,635.5 665.3,635.1 665.6,634.5 665.9,633.9 666.2,633.3 666.6,632.8 666.9,632.5 667.2,632.4 667.5,632.5 667.8,632.8 668.1,633.3 668.4,633.9 668.7,634.5 669.1,635.1 669.4,635.5 669.7,635.9 670.0,636.2 670.3,636.3 670.6,636.5 670.9,636.5 671.2,636.6 671.6,636.6 671.9,636.6 672.2,636.6 672.5,636.6 672.8,636.6 673.1,636.6 673.4,636.6 673.7,636.6 674.1,636.6 674.4,636.6 674.7,636.6 675.0,636.6 675.3,636.6 675.6,636.6 675.9,636.6 676.2,636.6 676.6,636.6 676.9,636.6 677.2,636.6 677.5,636.6 677.8,636.6 678.1,636.6 678.4,636.6 678.7,636.6 679.1,636.6 679.4,636.6 679.7,636.6 680.0,636.6 680.3,636.6 680.6,636.6 680.9,636.6 681.2,636.6 681.6,636.6 681.9,636.6 682.2,636.6 682.5,636.6 682.8,636.6 683.1,636.6 683.4,636.6 683.7,636.6 684.0,636.6 684.4,636.6 684.7,636.6 685.0,636.6 685.3,636.6 685.6,636.6 685.9,636.6 686.2,636.6 686.5,636.6 686.9,636.6 687.2,636.6 687.5,636.6 687.8,636.6 688.1,636.6 688.4,636.6 688.7,636.6 689.0,636.6 689.4,636.6 689.7,636.6 690.0,636.6 690.3,636.6 690.6,636.6 690.9,636.6 691.2,636.6 691.5,636.6 691.9,636.6 692.2,636.6 692.5,636.6 692.8,636.6 693.1,636.6 693.4,636.6 693.7,636.6 694.0,636.6 694.4,636.6 694.7,636.6 695.0,636.6 695.3,636.6 695.6,636.6 695.9,636.6 696.2,636.6 696.5,636.6 696.9,636.6 697.2,636.6 697.5,636.6 697.8,636.6 698.1,636.6 698.4,636.6 698.7,636.6 699.0,636.6 699.4,636.6 699.7,636.6 700.0,636.6 700.3,636.6 700.6,636.6 700.9,636.6 701.2,636.6 701.5,636.6 701.9,636.6 702.2,636.6 702.5,636.6 702.8,636.6 703.1,636.6 703.4,636.6 703.7,636.6 704.0,636.6 704.4,636.6 704.7,636.6 705.0,636.6 705.3,636.6 705.6,636.6 705.9,636.6 706.2,636.6 706.5,636.6 706.9,636.6 707.2,636.6 707.5,636.6 707.8,636.6 708.1,636.6 708.4,636.6 708.7,636.6 709.0,636.6 709.4,636.6 709.7,636.6 710.0,636.6 710.3,636.6 710.6,636.6 710.9,636.6 711.2,636.6 711.5,636.6 711.9,636.6 712.2,636.6 712.5,636.6 712.8,636.6 713.1,636.6 713.4,636.6 713.7,636.6 714.0,636.6 714.4,636.6 714.7,636.6 715.0,636.6 715.3,636.6 715.6,636.6 715.9,636.6 716.2,636.6 716.5,636.6 716.9,636.6 717.2,636.6 717.5,636.6 717.8,636.6 718.1,636.6 718.4,636.6 718.7,636.6 719.0,636.6 719.4,636.6 719.7,636.6 720.0,636.6 720.3,636.6 720.6,636.6 720.9,636.6 721.2,636.6 721.5,636.6 721.9,636.6 722.2,636.6 722.5,636.6 722.8,636.6 723.1,636.6 723.4,636.6 723.7,636.6 724.0,636.6 724.3,636.6 724.7,636.6 725.0,636.6 725.3,636.6 725.6,636.6 725.9,636.6 726.2,636.6 726.5,636.6 726.8,636.6 727.2,636.6 727.5,636.6 727.8,636.6 728.1,636.6 728.4,636.6 728.7,636.6 729.0,636.6 729.3,636.6 729.7,636.6 730.0,636.6 730.3,636.6 730.6,636.6 730.9,636.6 731.2,636.6 731.5,636.6 731.8,636.6 732.2,636.6 732.5,636.6 732.8,636.6 733.1,636.6 733.4,636.6 733.7,636.6 734.0,636.6 734.3,636.6 734.7,636.6 735.0,636.6 735.3,636.6 735.6,636.6 735.9,636.6 736.2,636.6 736.5,636.6 736.8,636.6 737.2,636.6 737.5,636.6 737.8,636.6 738.1,636.6 738.4,636.6 738.7,636.6 739.0,636.6 739.3,636.6 739.7,636.6 740.0,636.6 740.3,636.6 740.6,636.6 740.9,636.6 741.2,636.6 741.5,636.6 741.8,636.6 742.2,636.6 742.5,636.6 742.8,636.6 743.1,636.6 743.4,636.6 743.7,636.6 744.0,636.6 744.3,636.6 744.7,636.6 745.0,636.6 745.3,636.6 745.6,636.6 745.9,636.6 746.2,636.6 746.5,636.6 746.8,636.6 747.2,636.6 747.5,636.6 747.8,636.6 748.1,636.6 748.4,636.6 748.7,636.6 749.0,636.6 749.3,636.6 749.7,636.6 750.0,636.6 750.3,636.6 750.6,636.6 750.9,636.6 751.2,636.6 751.5,636.6 751.8,636.6 752.2,636.6 752.5,636.6 752.8,636.6 753.1,636.6 753.4,636.6 753.7,636.6 754.0,636.6 754.3,636.6 754.7,636.6 755.0,636.6 755.3,636.6 755.6,636.6 755.9,636.6 756.2,636.6 756.5,636.6 756.8,636.6 757.2,636.6 757.5,636.6 757.8,636.6 758.1,636.6 758.4,636.6 758.7,636.6 759.0,636.6 759.3,636.6 759.7,636.6 760.0,636.6 760.3,636.6 760.6,636.6 760.9,636.6 761.2,636.6 761.5,636.6 761.8,636.6 762.1,636.6 762.5,636.6 762.8,636.6 763.1,636.6 763.4,636.6 763.7,636.6 764.0,636.6 764.3,636.6 764.6,636.6 765.0,636.6 765.3,636.6 765.6,636.6 765.9,636.6 766.2,636.6 766.5,636.6 766.8,636.6 767.1,636.6 767.5,636.6 767.8,636.6 768.1,636.6 768.4,636.6 768.7,636.6 769.0,636.6 769.3,636.6 769.6,636.6 770.0,636.6 770.3,636.6 770.6,636.6 770.9,636.6 771.2,636.6 771.5,636.6 771.8,636.6 772.1,636.6 772.5,636.6 772.8,636.6 773.1,636.6 773.4,636.6 773.7,636.6 774.0,636.6 774.3,636.6 774.6,636.6 775.0,636.6 775.3,636.6 775.6,636.6 775.9,636.6 776.2,636.6 776.5,636.6 776.8,636.6 777.1,636.6 777.5,636.6 777.8,636.6 778.1,636.6 778.4,636.6 778.7,636.6 779.0,636.6 779.3,636.6 779.6,636.6 780.0,636.6 780.3,636.6 780.6,636.6 780.9,636.6 781.2,636.6 781.5,636.6 781.8,636.6 782.1,636.6 782.5,636.6 782.8,636.6 783.1,636.6 783.4,636.6 783.7,636.6 784.0,636.6 784.3,636.6 784.6,636.6 785.0,636.6 785.3,636.6 785.6,636.6 785.9,636.6 786.2,636.6 786.5,636.6 786.8,636.6 787.1,636.6 787.5,636.6 787.8,636.6 788.1,636.6 788.4,636.6 788.7,636.6 789.0,636.6 789.3,636.6 789.6,636.6 790.0,636.6 790.3,636.6 790.6,636.6 790.9,636.6 791.2,636.6 791.5,636.6 791.8,636.6 792.1,636.6 792.5,636.6 792.8,636.6 793.1,636.6 793.4,636.6 793.7,636.6 794.0,636.6 794.3,636.6 794.6,636.6 795.0,636.6 795.3,636.6 795.6,636.6 795.9,636.6 796.2,636.6 796.5,636.6 796.8,636.6 797.1,636.6 797.5,636.6 797.8,636.6 798.1,636.6 798.4,636.6 798.7,636.6 799.0,636.6 799.3,636.6 799.6,636.6 800.0,636.6 800.3,636.6 800.6,636.6 800.9,636.6 801.2,636.6 801.5,636.6 801.8,636.6 802.1,636.6 802.4,636.6 802.8,636.6 803.1,636.6 803.4,636.6 803.7,636.6 804.0,636.6 804.3,636.6 804.6,636.6 804.9,636.6 805.3,636.6 805.6,636.6 805.9,636.6 806.2,636.6 806.5,636.6 806.8,636.6 807.1,636.6 807.4,636.6 807.8,636.6 808.1,636.6 808.4,636.6 808.7,636.6 809.0,636.6 809.3,636.6 809.6,636.6 809.9,636.6 810.3,636.6 810.6,636.6 810.9,636.6 811.2,636.6 811.5,636.6 811.8,636.6 812.1,636.6 812.4,636.6 812.8,636.6 813.1,636.6 813.4,636.6 813.7,636.6 814.0,636.6 814.3,636.6 814.6,636.6 814.9,636.6 815.3,636.6 815.6,636.6 815.9,636.6 816.2,636.6 816.5,636.6 816.8,636.6 817.1,636.6 817.4,636.6 817.8,636.6 818.1,636.6 818.4,636.6 818.7,636.6 819.0,636.6 819.3,636.6 819.6,636.6 819.9,636.6 820.3,636.6 820.6,636.6 820.9,636.6 821.2,636.6 821.5,636.6 821.8,636.6 822.1,636.6 822.4,636.6 822.8,636.6 823.1,636.6 823.4,636.6 823.7,636.6 824.0,636.6 824.3,636.6 824.6,636.6 824.9,636.6 825.3,636.6 825.6,636.6 825.9,636.6 826.2,636.6 826.5,636.6 826.8,636.6 827.1,636.6 827.4,636.6 827.8,636.6 828.1,636.6 828.4,636.6 828.7,636.6 829.0,636.6 829.3,636.6 829.6,636.6 829.9,636.6 830.3,636.6 830.6,636.6 830.9,636.6 831.2,636.6 831.5,636.6 831.8,636.6 832.1,636.6 832.4,636.6 832.8,636.6 833.1,636.6 833.4,636.6 833.7,636.6 834.0,636.6 834.3,636.6 834.6,636.6 834.9,636.6 835.3,636.6 835.6,636.6 835.9,636.6 836.2,636.6 836.5,636.6 836.8,636.6 837.1,636.6 837.4,636.6 837.8,636.6 838.1,636.6 838.4,636.6 838.7,636.6 839.0,636.6" fill="none" stroke="#e81818" stroke-width="2"/><line x1="527.5" y1="396" x2="564" y2="396" stroke="#e81818" stroke-width="3"/><line x1="527.5" y1="415.8" x2="564" y2="415.8" stroke="#333" stroke-width="3"/><text x="569" y="402" font-size="15" fill="#000">Epitaxial</text><text x="569" y="422" font-size="15" fill="#000">Thermal</text><polygon points="680.7,448.5 763.4,454.3 718.0,523.0" fill="#8e8e8e"/><polygon points="690.0,453.1 752.9,457.8 719.1,518.3" fill="#a8a8a8"/><polygon points="711.0,457.8 750.6,458.9 720.3,513.6 708.7,481.1" fill="#c4c4c4" opacity="0.8"/><polygon points="718.0,550.9 687.7,603.3 755.2,625.4" fill="#7e7e7e"/><polygon points="720.3,548.6 759.9,620.7 755.2,625.4 718.0,553.2" fill="#b8b8b8"/><ellipse cx="704.0" cy="538.1" rx="15" ry="14" fill="#3cb878"/><ellipse cx="732.0" cy="539.1" rx="15" ry="13" fill="#3cb878"/><ellipse cx="718.0" cy="538.1" rx="12" ry="8" fill="#3a8ad8"/><ellipse cx="718.0" cy="538.1" rx="8" ry="6" fill="#4a3aa8"/><ellipse cx="718.0" cy="538.1" rx="4" ry="3.5" fill="#a02a9a"/><circle cx="718.0" cy="538.1" r="1.8" fill="#e81860"/><defs><linearGradient id="gCbar" x1="0" x2="0" y1="0" y2="1"><stop offset="0" stop-color="#f8e820"/><stop offset="0.07" stop-color="#f89020"/><stop offset="0.14" stop-color="#e81828"/><stop offset="0.25" stop-color="#b81880"/><stop offset="0.35" stop-color="#6a2ab0"/><stop offset="0.45" stop-color="#2a48c0"/><stop offset="0.49" stop-color="#30c8c0"/><stop offset="0.5" stop-color="#ffffff"/><stop offset="0.51" stop-color="#30c8a0"/><stop offset="0.55" stop-color="#2a48c0"/><stop offset="0.65" stop-color="#6a2ab0"/><stop offset="0.75" stop-color="#b81880"/><stop offset="0.86" stop-color="#e81828"/><stop offset="0.93" stop-color="#f89020"/><stop offset="1" stop-color="#f8e820"/></linearGradient></defs><rect x="790.1" y="465.2" width="14.0" height="154.8" fill="url(#gCbar)"/><text x="784.3" y="459.6" font-size="16" fill="#000">v/m</text><text x="806.0" y="474.5" font-size="17" fill="#000">75</text><text x="806.0" y="548.1" font-size="17" fill="#000">0</text><text x="805.3" y="621.9" font-size="17" fill="#000">−75</text><text x="949.5" y="46.5" font-size="45.5" class="b" fill="#000">C</text><rect x="1003" y="18" width="269" height="138" fill="#9f9b9a"/><rect x="1003" y="156" width="269" height="99" fill="#cac8c8"/><rect x="1004" y="156" width="1" height="99" fill="#d2d0d0" opacity="0.7"/><rect x="1007" y="156" width="1" height="99" fill="#c4c2c2" opacity="0.7"/><rect x="1011" y="156" width="1" height="99" fill="#bebcbc" opacity="0.7"/><rect x="1013" y="156" width="1" height="99" fill="#d6d4d4" opacity="0.7"/><rect x="1016" y="156" width="1" height="99" fill="#d2d0d0" opacity="0.7"/><rect x="1019" y="156" width="1" height="99" fill="#d6d4d4" opacity="0.7"/><rect x="1023" y="156" width="1" height="99" fill="#d6d4d4" opacity="0.7"/><rect x="1026" y="156" width="1" height="99" fill="#d2d0d0" opacity="0.7"/><rect x="1029" y="156" width="1" height="99" fill="#d6d4d4" opacity="0.7"/><rect x="1031" y="156" width="1" height="99" fill="#bebcbc" opacity="0.7"/><rect x="1034" y="156" width="1" height="99" fill="#bebcbc" opacity="0.7"/><rect x="1037" y="156" width="1" height="99" fill="#bebcbc" opacity="0.7"/><rect x="1040" y="156" width="1" height="99" fill="#d6d4d4" opacity="0.7"/><rect x="1044" y="156" width="1" height="99" fill="#d6d4d4" opacity="0.7"/><rect x="1048" y="156" width="1" height="99" fill="#d6d4d4" opacity="0.7"/><rect x="1051" y="156" width="1" height="99" fill="#c4c2c2" opacity="0.7"/><rect x="1053" y="156" width="1" height="99" fill="#bebcbc" opacity="0.7"/><rect x="1056" y="156" width="1" height="99" fill="#d6d4d4" opacity="0.7"/><rect x="1059" y="156" width="1" height="99" fill="#c4c2c2" opacity="0.7"/><rect x="1063" y="156" width="1" height="99" fill="#c4c2c2" opacity="0.7"/><rect x="1067" y="156" width="1" height="99" fill="#d6d4d4" opacity="0.7"/><rect x="1070" y="156" width="1" height="99" fill="#d6d4d4" opacity="0.7"/><rect x="1073" y="156" width="1" height="99" fill="#c4c2c2" opacity="0.7"/><rect x="1075" y="156" width="1" height="99" fill="#c4c2c2" opacity="0.7"/><rect x="1078" y="156" width="1" height="99" fill="#c4c2c2" opacity="0.7"/><rect x="1080" y="156" width="1" height="99" fill="#d2d0d0" opacity="0.7"/><rect x="1083" y="156" width="1" height="99" fill="#c4c2c2" opacity="0.7"/><rect x="1085" y="156" width="1" height="99" fill="#bebcbc" opacity="0.7"/><rect x="1089" y="156" width="1" height="99" fill="#d6d4d4" opacity="0.7"/><rect x="1091" y="156" width="1" height="99" fill="#c4c2c2" opacity="0.7"/><rect x="1093" y="156" width="1" height="99" fill="#d6d4d4" opacity="0.7"/><rect x="1096" y="156" width="1" height="99" fill="#bebcbc" opacity="0.7"/><rect x="1099" y="156" width="1" height="99" fill="#d6d4d4" opacity="0.7"/><rect x="1103" y="156" width="1" height="99" fill="#bebcbc" opacity="0.7"/><rect x="1105" y="156" width="1" height="99" fill="#bebcbc" opacity="0.7"/><rect x="1109" y="156" width="1" height="99" fill="#c4c2c2" opacity="0.7"/><rect x="1112" y="156" width="1" height="99" fill="#d2d0d0" opacity="0.7"/><rect x="1114" y="156" width="1" height="99" fill="#c4c2c2" opacity="0.7"/><rect x="1116" y="156" width="1" height="99" fill="#bebcbc" opacity="0.7"/><rect x="1118" y="156" width="1" height="99" fill="#bebcbc" opacity="0.7"/><rect x="1121" y="156" width="1" height="99" fill="#d6d4d4" opacity="0.7"/><rect x="1124" y="156" width="1" height="99" fill="#c4c2c2" opacity="0.7"/><rect x="1127" y="156" width="1" height="99" fill="#bebcbc" opacity="0.7"/><rect x="1130" y="156" width="1" height="99" fill="#c4c2c2" opacity="0.7"/><rect x="1133" y="156" width="1" height="99" fill="#d2d0d0" opacity="0.7"/><rect x="1137" y="156" width="1" height="99" fill="#d6d4d4" opacity="0.7"/><rect x="1141" y="156" width="1" height="99" fill="#d6d4d4" opacity="0.7"/><rect x="1143" y="156" width="1" height="99" fill="#c4c2c2" opacity="0.7"/><rect x="1147" y="156" width="1" height="99" fill="#d2d0d0" opacity="0.7"/><rect x="1150" y="156" width="1" height="99" fill="#d6d4d4" opacity="0.7"/><rect x="1153" y="156" width="1" height="99" fill="#c4c2c2" opacity="0.7"/><rect x="1156" y="156" width="1" height="99" fill="#bebcbc" opacity="0.7"/><rect x="1160" y="156" width="1" height="99" fill="#c4c2c2" opacity="0.7"/><rect x="1162" y="156" width="1" height="99" fill="#d6d4d4" opacity="0.7"/><rect x="1165" y="156" width="1" height="99" fill="#bebcbc" opacity="0.7"/><rect x="1168" y="156" width="1" height="99" fill="#d6d4d4" opacity="0.7"/><rect x="1171" y="156" width="1" height="99" fill="#c4c2c2" opacity="0.7"/><rect x="1174" y="156" width="1" height="99" fill="#d6d4d4" opacity="0.7"/><rect x="1176" y="156" width="1" height="99" fill="#bebcbc" opacity="0.7"/><rect x="1178" y="156" width="1" height="99" fill="#c4c2c2" opacity="0.7"/><rect x="1181" y="156" width="1" height="99" fill="#d6d4d4" opacity="0.7"/><rect x="1184" y="156" width="1" height="99" fill="#c4c2c2" opacity="0.7"/><rect x="1187" y="156" width="1" height="99" fill="#c4c2c2" opacity="0.7"/><rect x="1190" y="156" width="1" height="99" fill="#c4c2c2" opacity="0.7"/><rect x="1193" y="156" width="1" height="99" fill="#c4c2c2" opacity="0.7"/><rect x="1196" y="156" width="1" height="99" fill="#d6d4d4" opacity="0.7"/><rect x="1198" y="156" width="1" height="99" fill="#bebcbc" opacity="0.7"/><rect x="1201" y="156" width="1" height="99" fill="#c4c2c2" opacity="0.7"/><rect x="1204" y="156" width="1" height="99" fill="#c4c2c2" opacity="0.7"/><rect x="1207" y="156" width="1" height="99" fill="#c4c2c2" opacity="0.7"/><rect x="1210" y="156" width="1" height="99" fill="#d6d4d4" opacity="0.7"/><rect x="1212" y="156" width="1" height="99" fill="#bebcbc" opacity="0.7"/><rect x="1215" y="156" width="1" height="99" fill="#c4c2c2" opacity="0.7"/><rect x="1218" y="156" width="1" height="99" fill="#d6d4d4" opacity="0.7"/><rect x="1221" y="156" width="1" height="99" fill="#bebcbc" opacity="0.7"/><rect x="1224" y="156" width="1" height="99" fill="#d2d0d0" opacity="0.7"/><rect x="1228" y="156" width="1" height="99" fill="#c4c2c2" opacity="0.7"/><rect x="1231" y="156" width="1" height="99" fill="#bebcbc" opacity="0.7"/><rect x="1233" y="156" width="1" height="99" fill="#d2d0d0" opacity="0.7"/><rect x="1236" y="156" width="1" height="99" fill="#d2d0d0" opacity="0.7"/><rect x="1239" y="156" width="1" height="99" fill="#c4c2c2" opacity="0.7"/><rect x="1241" y="156" width="1" height="99" fill="#c4c2c2" opacity="0.7"/><rect x="1244" y="156" width="1" height="99" fill="#d6d4d4" opacity="0.7"/><rect x="1247" y="156" width="1" height="99" fill="#c4c2c2" opacity="0.7"/><rect x="1251" y="156" width="1" height="99" fill="#c4c2c2" opacity="0.7"/><rect x="1255" y="156" width="1" height="99" fill="#c4c2c2" opacity="0.7"/><rect x="1259" y="156" width="1" height="99" fill="#d6d4d4" opacity="0.7"/><rect x="1261" y="156" width="1" height="99" fill="#d6d4d4" opacity="0.7"/><rect x="1264" y="156" width="1" height="99" fill="#d2d0d0" opacity="0.7"/><rect x="1266" y="156" width="1" height="99" fill="#d6d4d4" opacity="0.7"/><rect x="1270" y="156" width="1" height="99" fill="#d2d0d0" opacity="0.7"/><rect x="1003" y="254" width="269" height="4" fill="#f4f4f4"/><rect x="1003" y="258" width="269" height="29" fill="#9d9b9b"/><rect x="1003" y="152" width="269" height="5" fill="#a4a2a2" opacity="0.6"/><polygon points="1153,20 1224,61 1208,87 1137,46" fill="none" stroke="#f0f0f0" stroke-width="1.8"/><text x="1048" y="105" font-size="20.8" fill="#fff">Ag film</text><text x="1037" y="209" font-size="20.6" fill="#8a1a10">Metasurface</text><text x="1035" y="281" font-size="20.8" fill="#fff">Out-coupling</text><text x="1205" y="276" font-size="18" fill="#fff">5 μm</text><rect x="1191" y="280" width="76" height="2" fill="#fff"/><polyline points="1250,108 1250,137" fill="none" stroke="#8a1a10" stroke-width="1.8"/><polyline points="1250,108 1222,108" fill="none" stroke="#8a1a10" stroke-width="1.8"/><polygon points="1218,108 1225,104 1225,112" fill="#8a1a10"/><polygon points="1250,142 1246,134 1254,134" fill="#8a1a10"/><text x="1233" y="98" font-size="13" font-style="italic" fill="#8a1a10">x</text><text x="1256" y="128" font-size="13" font-style="italic" fill="#8a1a10">y</text><rect x="1334" y="17.2" width="92.5" height="245.5" fill="#eef4fa"/><rect x="1426.5" y="17.2" width="220.5" height="245.5" fill="#ecc6b3"/><rect x="1334" y="17.2" width="313" height="245.5" fill="none" stroke="#555" stroke-width="2"/><line x1="1328" y1="60.6" x2="1334" y2="60.6" stroke="#555" stroke-width="1.5"/><text x="1324" y="67.6" font-size="21" fill="#000" text-anchor="end">15</text><line x1="1328" y1="103.6" x2="1334" y2="103.6" stroke="#555" stroke-width="1.5"/><text x="1324" y="110.6" font-size="21" fill="#000" text-anchor="end">10</text><line x1="1328" y1="146.6" x2="1334" y2="146.6" stroke="#555" stroke-width="1.5"/><text x="1324" y="153.6" font-size="21" fill="#000" text-anchor="end">5</text><line x1="1328" y1="189.6" x2="1334" y2="189.6" stroke="#555" stroke-width="1.5"/><text x="1324" y="196.6" font-size="21" fill="#000" text-anchor="end">0</text><line x1="1328" y1="232.6" x2="1334" y2="232.6" stroke="#555" stroke-width="1.5"/><text x="1324" y="239.6" font-size="21" fill="#000" text-anchor="end">−5</text><line x1="1377.5" y1="262.7" x2="1377.5" y2="268.7" stroke="#555" stroke-width="1.5"/><text x="1377.5" y="291" font-size="21" fill="#000" text-anchor="middle">500</text><line x1="1485.2" y1="262.7" x2="1485.2" y2="268.7" stroke="#555" stroke-width="1.5"/><text x="1485.2" y="291" font-size="21" fill="#000" text-anchor="middle">600</text><line x1="1592.9" y1="262.7" x2="1592.9" y2="268.7" stroke="#555" stroke-width="1.5"/><text x="1592.9" y="291" font-size="21" fill="#000" text-anchor="middle">700</text><text x="1491" y="312" font-size="21" fill="#000" text-anchor="middle">Wavelength (nm)</text><text transform="translate(1298,168) rotate(-90)" font-size="21" fill="#000" text-anchor="middle">Angle (°)</text><text x="1339" y="38" font-size="20.5" fill="#000">Hyperbolic</text><text x="1500" y="38" font-size="19.5" fill="#000">Elliptical</text><line x1="1334" y1="189.6" x2="1647" y2="189.6" stroke="#333" stroke-width="1.6" stroke-dasharray="7,5"/><clipPath id="clipM"><rect x="1334" y="17.2" width="313" height="245.5"/></clipPath><polyline points="1358.1,245.5 1366.7,243.8 1377.5,225.7 1399.0,206.8 1420.6,191.3 1442.1,177.6 1463.7,163.8 1485.2,144.0 1506.7,116.5 1528.3,89.8 1549.8,70.9 1571.4,52.0 1592.9,36.5 1614.4,21.9 1630.6,10.7" fill="none" stroke="#7a7a7a" stroke-width="1.5" clip-path="url(#clipM)"/><rect x="1340.7" y="247.0" width="9" height="9" fill="#1a1a1a"/><rect x="1351.5" y="234.1" width="9" height="9" fill="#1a1a1a"/><rect x="1362.2" y="239.3" width="9" height="9" fill="#1a1a1a"/><rect x="1373.0" y="219.5" width="9" height="9" fill="#1a1a1a"/><rect x="1383.8" y="211.8" width="9" height="9" fill="#1a1a1a"/><rect x="1394.5" y="197.1" width="9" height="9" fill="#1a1a1a"/><rect x="1405.3" y="192.0" width="9" height="9" fill="#1a1a1a"/><rect x="1416.1" y="186.8" width="9" height="9" fill="#1a1a1a"/><rect x="1426.8" y="175.6" width="9" height="9" fill="#1a1a1a"/><rect x="1437.6" y="167.0" width="9" height="9" fill="#1a1a1a"/><rect x="1448.4" y="157.6" width="9" height="9" fill="#1a1a1a"/><rect x="1459.2" y="160.2" width="9" height="9" fill="#1a1a1a"/><rect x="1469.9" y="134.4" width="9" height="9" fill="#1a1a1a"/><rect x="1480.7" y="125.8" width="9" height="9" fill="#1a1a1a"/><rect x="1491.5" y="108.6" width="9" height="9" fill="#1a1a1a"/><rect x="1502.2" y="106.0" width="9" height="9" fill="#1a1a1a"/><rect x="1513.0" y="102.5" width="9" height="9" fill="#1a1a1a"/><rect x="1523.8" y="81.0" width="9" height="9" fill="#1a1a1a"/><rect x="1534.5" y="82.8" width="9" height="9" fill="#1a1a1a"/><rect x="1545.3" y="74.2" width="9" height="9" fill="#1a1a1a"/><rect x="1556.1" y="72.4" width="9" height="9" fill="#1a1a1a"/><rect x="1566.9" y="68.1" width="9" height="9" fill="#1a1a1a"/><rect x="1577.6" y="65.6" width="9" height="9" fill="#1a1a1a"/><rect x="1588.4" y="62.1" width="9" height="9" fill="#1a1a1a"/><rect x="1599.2" y="65.6" width="9" height="9" fill="#1a1a1a"/><rect x="1609.9" y="21.7" width="9" height="9" fill="#1a1a1a"/><rect x="1620.7" y="29.4" width="9" height="9" fill="#1a1a1a"/><rect x="1631.5" y="24.3" width="9" height="9" fill="#1a1a1a"/><rect x="1346" y="115" width="68" height="44" fill="none" stroke="#333" stroke-width="2" stroke-dasharray="2,4"/><rect x="1550" y="115" width="67" height="44" fill="none" stroke="#333" stroke-width="2" stroke-dasharray="2,4"/><line x1="1377" y1="103" x2="1377" y2="131" stroke="#111" stroke-width="2.5"/><line x1="1378" y1="116" x2="1400" y2="109" stroke="#111" stroke-width="1.5"/><line x1="1378" y1="125" x2="1392" y2="143" stroke="#111" stroke-width="1.5"/><line x1="1582" y1="103" x2="1582" y2="131" stroke="#111" stroke-width="2.5"/><line x1="1583" y1="116" x2="1605" y2="109" stroke="#111" stroke-width="1.5"/><line x1="1582" y1="123" x2="1565" y2="146" stroke="#111" stroke-width="1.5"/><text x="1369" y="92" font-size="16" font-style="italic" font-family="Liberation Serif" fill="#000">θ<tspan font-size="11" dy="5" font-family="Liberation Sans" font-style="normal">in</tspan></text><text x="1366" y="148" font-size="16" font-style="italic" font-family="Liberation Serif" fill="#000">θ<tspan font-size="11" dy="5" font-family="Liberation Sans" font-style="normal">out</tspan></text><rect x="1715.7" y="20.9" width="230.6" height="241.4" fill="#fff" stroke="#555" stroke-width="2"/><line x1="1709.7" y1="256.9" x2="1715.7" y2="256.9" stroke="#555" stroke-width="1.5"/><text x="1706.7" y="263.9" font-size="21" fill="#000" text-anchor="end">0</text><line x1="1709.7" y1="141.5" x2="1715.7" y2="141.5" stroke="#555" stroke-width="1.5"/><text x="1706.7" y="148.5" font-size="21" fill="#000" text-anchor="end">20</text><line x1="1709.7" y1="26.2" x2="1715.7" y2="26.2" stroke="#555" stroke-width="1.5"/><text x="1706.7" y="33.2" font-size="21" fill="#000" text-anchor="end">40</text><line x1="1752.9" y1="262.3" x2="1752.9" y2="268.3" stroke="#555" stroke-width="1.5"/><text x="1752.9" y="291" font-size="21" fill="#000" text-anchor="middle">500</text><line x1="1830.8" y1="262.3" x2="1830.8" y2="268.3" stroke="#555" stroke-width="1.5"/><text x="1830.8" y="291" font-size="21" fill="#000" text-anchor="middle">550</text><line x1="1908.7" y1="262.3" x2="1908.7" y2="268.3" stroke="#555" stroke-width="1.5"/><text x="1908.7" y="291" font-size="21" fill="#000" text-anchor="middle">600</text><text x="1832" y="313" font-size="21" fill="#000" text-anchor="middle">Wavelength (nm)</text><text transform="translate(1678,140) rotate(-90)" font-size="21" fill="#000" text-anchor="middle"><tspan font-style="italic">L</tspan><tspan font-size="13" dy="4">p</tspan><tspan dy="-4"> in the HMS (μm)</tspan></text><polyline points="1724.9,193.5 1737.3,187.7 1752.9,181.9 1768.5,176.2 1784.1,168.7 1799.6,157.7 1815.2,147.3 1830.8,134.1 1846.4,121.4 1862.0,109.8 1877.5,95.4 1893.1,78.1 1908.7,57.9 1916.5,49.3 1932.1,40.6" fill="none" stroke="#333" stroke-width="1.6"/><line x1="1737.3" y1="230.9" x2="1737.3" y2="207.9" stroke="#5a5ab8" stroke-width="1.3"/><line x1="1733.8" y1="230.9" x2="1740.8" y2="230.9" stroke="#5a5ab8" stroke-width="1.3"/><line x1="1733.8" y1="207.9" x2="1740.8" y2="207.9" stroke="#5a5ab8" stroke-width="1.3"/><text x="1737.3" y="223.4" font-size="11" fill="#2a2a9a" text-anchor="middle" class="b">×</text><line x1="1784.1" y1="204.4" x2="1784.1" y2="196.3" stroke="#5a5ab8" stroke-width="1.3"/><line x1="1780.6" y1="204.4" x2="1787.6" y2="204.4" stroke="#5a5ab8" stroke-width="1.3"/><line x1="1780.6" y1="196.3" x2="1787.6" y2="196.3" stroke="#5a5ab8" stroke-width="1.3"/><text x="1784.1" y="204.4" font-size="11" fill="#2a2a9a" text-anchor="middle" class="b">×</text><line x1="1830.8" y1="180.8" x2="1830.8" y2="154.2" stroke="#5a5ab8" stroke-width="1.3"/><line x1="1827.3" y1="180.8" x2="1834.3" y2="180.8" stroke="#5a5ab8" stroke-width="1.3"/><line x1="1827.3" y1="154.2" x2="1834.3" y2="154.2" stroke="#5a5ab8" stroke-width="1.3"/><text x="1830.8" y="171.5" font-size="11" fill="#2a2a9a" text-anchor="middle" class="b">×</text><line x1="1877.5" y1="167.5" x2="1877.5" y2="132.9" stroke="#5a5ab8" stroke-width="1.3"/><line x1="1874.0" y1="167.5" x2="1881.0" y2="167.5" stroke="#5a5ab8" stroke-width="1.3"/><line x1="1874.0" y1="132.9" x2="1881.0" y2="132.9" stroke="#5a5ab8" stroke-width="1.3"/><text x="1877.5" y="154.2" font-size="11" fill="#2a2a9a" text-anchor="middle" class="b">×</text><line x1="1924.3" y1="115.6" x2="1924.3" y2="63.7" stroke="#5a5ab8" stroke-width="1.3"/><line x1="1920.8" y1="115.6" x2="1927.8" y2="115.6" stroke="#5a5ab8" stroke-width="1.3"/><line x1="1920.8" y1="63.7" x2="1927.8" y2="63.7" stroke="#5a5ab8" stroke-width="1.3"/><text x="1924.3" y="93.6" font-size="11" fill="#2a2a9a" text-anchor="middle" class="b">×</text><rect x="1003" y="341" width="948" height="316" fill="#201a16"/><defs><radialGradient id="rgRed" cx="0.5" cy="0.5" r="0.5"><stop offset="0" stop-color="#ff2040" stop-opacity="0.9"/><stop offset="1" stop-color="#ff2040" stop-opacity="0"/></radialGradient><radialGradient id="rgGrn" cx="0.5" cy="0.5" r="0.5"><stop offset="0" stop-color="#60c020" stop-opacity="0.9"/><stop offset="1" stop-color="#60c020" stop-opacity="0"/></radialGradient><radialGradient id="rgBlu" cx="0.5" cy="0.5" r="0.5"><stop offset="0" stop-color="#3070ff" stop-opacity="0.9"/><stop offset="1" stop-color="#3070ff" stop-opacity="0"/></radialGradient><radialGradient id="rgW" cx="0.5" cy="0.5" r="0.5"><stop offset="0" stop-color="#ffffff" stop-opacity="1"/><stop offset="0.6" stop-color="#ffffff" stop-opacity="0.9"/><stop offset="1" stop-color="#ffffff" stop-opacity="0"/></radialGradient><filter id="noiseG" x="0" y="0" width="100%" height="100%"><feTurbulence type="fractalNoise" baseFrequency="0.02 0.35" numOctaves="2" seed="4" result="n"/><feColorMatrix type="matrix" values="0 0 0 0 0.25  0 0 0 0 0.45  0 0 0 0 0.1  0 0 0 1.6 -0.75"/></filter><linearGradient id="lgGl" x1="0" x2="1"><stop offset="0" stop-color="#231915" stop-opacity="1"/><stop offset="1" stop-color="#231915" stop-opacity="0"/></linearGradient><radialGradient id="lgGfade" cx="0.55" cy="0.25" r="0.75"><stop offset="0" stop-color="#1e1c15" stop-opacity="0"/><stop offset="0.5" stop-color="#1e1c15" stop-opacity="0.35"/><stop offset="1" stop-color="#1e1c15" stop-opacity="0.95"/></radialGradient></defs><rect x="1028" y="341" width="0" height="0"/><rect x="1003" y="341" width="24" height="35" fill="#0a0806"/><rect x="1003" y="341" width="330" height="316" fill="#2a1512" opacity="0.3"/><rect x="1333" y="341" width="305" height="316" fill="#1e1c15"/><clipPath id="clipG"><rect x="1300" y="341" width="338" height="316"/></clipPath><g clip-path="url(#clipG)"><g transform="rotate(-35 1480 500)"><rect x="1250" y="250" width="460" height="460" filter="url(#noiseG)" opacity="0.45"/></g><rect x="1300" y="341" width="338" height="316" fill="url(#lgGfade)"/><rect x="1300" y="341" width="90" height="316" fill="url(#lgGl)"/></g><rect x="1638" y="341" width="313" height="316" fill="#1b1916"/><clipPath id="clipD"><rect x="1003" y="341" width="948" height="316"/></clipPath><g clip-path="url(#clipD)"><ellipse cx="1830" cy="420" rx="70" ry="110" fill="#1a3a90" opacity="0.25" filter="url(#blur12)" transform="rotate(30 1830 420)"/><path d="M1228,341 L1210,390 L1185,440 L1168,470" stroke="#e01830" stroke-width="16" fill="none" opacity="0.75" filter="url(#blur3)"/><path d="M1236,341 L1214,388" stroke="#e01830" stroke-width="12" fill="none" opacity="0.6" filter="url(#blur2)"/><ellipse cx="1205" cy="400" rx="30" ry="26" fill="#e01830" opacity="0.8" filter="url(#blur5)"/><polygon points="1195,385 1220,378 1232,392 1222,412 1200,416 1192,400" fill="#fff" filter="url(#blur1)"/><ellipse cx="1167" cy="473" rx="18" ry="3" fill="#e01830" opacity="0.9" filter="url(#blur1)"/><ellipse cx="1150" cy="575" rx="22" ry="6" fill="#e01830" opacity="0.9" filter="url(#blur2)"/><ellipse cx="1150" cy="575" rx="12" ry="3" fill="#fff"/><ellipse cx="1148" cy="598" rx="22" ry="4" fill="#c01828" opacity="0.8" filter="url(#blur2)"/><ellipse cx="1160" cy="520" rx="40" ry="50" fill="#801010" opacity="0.25" filter="url(#blur12)"/><path d="M1565,341 L1545,380 L1515,440 L1487,470" stroke="#50b020" stroke-width="14" fill="none" opacity="0.55" filter="url(#blur3)"/><ellipse cx="1528" cy="393" rx="30" ry="22" fill="#60c020" opacity="0.8" filter="url(#blur5)"/><polygon points="1505,385 1525,375 1545,380 1555,395 1540,410 1520,405" fill="#f4ffe0" filter="url(#blur1)"/><ellipse cx="1485" cy="471" rx="14" ry="3" fill="#80e040" opacity="0.9" filter="url(#blur1)"/><ellipse cx="1486" cy="572" rx="16" ry="4" fill="#80e040" opacity="0.9" filter="url(#blur2)"/><ellipse cx="1478" cy="596" rx="20" ry="3" fill="#50b020" opacity="0.8" filter="url(#blur2)"/><path d="M1878,345 L1850,395 L1820,440 L1797,472" stroke="#5080ff" stroke-width="18" fill="none" opacity="0.6" filter="url(#blur3)"/><path d="M1860,360 L1835,410 L1805,465" stroke="#c8dcff" stroke-width="8" fill="none" opacity="0.9" filter="url(#blur2)"/><ellipse cx="1843" cy="398" rx="34" ry="26" fill="#4a78ff" opacity="0.8" filter="url(#blur5)"/><polygon points="1812,380 1832,366 1858,362 1876,372 1872,392 1860,414 1836,420 1818,402" fill="#f0f6ff" filter="url(#blur1)"/><path d="M1835,405 L1815,440 L1798,468" stroke="#e0ecff" stroke-width="9" fill="none" opacity="0.9" filter="url(#blur2)"/><ellipse cx="1798" cy="472" rx="14" ry="3" fill="#a0c0ff" opacity="0.9" filter="url(#blur1)"/><ellipse cx="1811" cy="571" rx="12" ry="2.5" fill="#4a80ff" opacity="0.9" filter="url(#blur1)"/></g><rect x="1080.5" y="476.4" width="168.8" height="93.1" fill="none" stroke="#e8e8e8" stroke-width="2.2" stroke-dasharray="6,6"/><rect x="1397" y="476" width="167.4" height="92.0" fill="none" stroke="#e8e8e8" stroke-width="2.2" stroke-dasharray="6,6"/><rect x="1711" y="473.6" width="168.0" height="94.0" fill="none" stroke="#e8e8e8" stroke-width="2.2" stroke-dasharray="6,6"/><line x1="1166.7" y1="476" x2="1150" y2="569.5" stroke="#f0f0f0" stroke-width="1.8"/><line x1="1485.3" y1="476" x2="1485.3" y2="568" stroke="#f0f0f0" stroke-width="1.8"/><line x1="1796.8" y1="474" x2="1811" y2="567.6" stroke="#f0f0f0" stroke-width="1.8"/><text x="1047" y="621.6" fill="#e4e4e4" font-size="20"><tspan font-style="italic" font-family="Liberation Serif">λ</tspan> = 640 nm</text><text x="1047" y="644" fill="#e4e4e4" font-size="20"><tspan font-style="italic" font-family="Liberation Serif">θ</tspan><tspan font-size="13.5" dy="6">out</tspan><tspan dy="-6"> = +12.1°</tspan></text><text x="1353.5" y="621.6" fill="#e4e4e4" font-size="20"><tspan font-style="italic" font-family="Liberation Serif">λ</tspan> = 540 nm</text><text x="1353.5" y="644" fill="#e4e4e4" font-size="20"><tspan font-style="italic" font-family="Liberation Serif">θ</tspan><tspan font-size="13.5" dy="6">out</tspan><tspan dy="-6"> = −0.1°</tspan></text><text x="1678" y="621" fill="#e4e4e4" font-size="20"><tspan font-style="italic" font-family="Liberation Serif">λ</tspan> = 490 nm</text><text x="1678" y="643.3" fill="#e4e4e4" font-size="20"><tspan font-style="italic" font-family="Liberation Serif">θ</tspan><tspan font-size="13.5" dy="6">out</tspan><tspan dy="-6"> = −6.5°</tspan></text><text x="1240.6" y="369.7" fill="#e4e4e4" font-size="20"><tspan font-style="italic" font-family="Liberation Serif">θ</tspan><tspan font-size="13.5" dy="6">in</tspan><tspan dy="-6"> = 35°</tspan></text><text x="1251.8" y="636.5" fill="#e4e4e4" font-size="20">5 μm</text><rect x="1250.8" y="644.5" width="44" height="2.4" fill="#e8e8e8"/><text x="1567" y="636.8" fill="#e4e4e4" font-size="20">5 μm</text><rect x="1566" y="644.8" width="44" height="2.4" fill="#e8e8e8"/><text x="1880.4" y="636.5" fill="#e4e4e4" font-size="20">5 μm</text><rect x="1879.4" y="644.5" width="44" height="2.4" fill="#e8e8e8"/><text x="35" y="769" font-size="43.5" class="b" fill="#000">B</text><defs><linearGradient id="gBslab" x1="0" x2="1" y1="0" y2="1"><stop offset="0" stop-color="#5eb0cc"/><stop offset="0.5" stop-color="#6cbcd4"/><stop offset="1" stop-color="#7cc6dc"/></linearGradient><radialGradient id="gBglow" cx="0.5" cy="0.5" r="0.5"><stop offset="0" stop-color="#ffffff" stop-opacity="1"/><stop offset="0.2" stop-color="#f4fff0" stop-opacity="0.95"/><stop offset="0.5" stop-color="#d8f0b0" stop-opacity="0.6"/><stop offset="1" stop-color="#c8f0a0" stop-opacity="0"/></radialGradient><linearGradient id="gBside" x1="0" x2="0" y1="0" y2="1"><stop offset="0" stop-color="#b0b4b4"/><stop offset="1" stop-color="#8a9090"/></linearGradient></defs><polygon points="60.9,870.9 263.1,1067.2 263.1,1093.9 64.1,885.6" fill="#a4a8a8"/><polygon points="263.1,1067.2 484.8,933.7 480.8,957.7 263.1,1093.9" fill="#9ca0a0"/><polyline points="60.9,870.9 263.1,1067.2 484.8,933.7" fill="none" stroke="#30a8d8" stroke-width="3"/><polygon points="257.7,796.1 484.8,933.7 263.1,1067.2 60.9,870.9" fill="url(#gBslab)"/><clipPath id="clipBslab"><polygon points="257.7,796.1 484.8,933.7 263.1,1067.2 60.9,870.9"/></clipPath><g clip-path="url(#clipBslab)"><line x1="277.8" y1="947.0" x2="577.8" y2="946.6" stroke="#fff" stroke-width="1.5" opacity="0.50"/><line x1="277.8" y1="947.0" x2="577.5" y2="956.8" stroke="#fff" stroke-width="1.2" opacity="0.48"/><line x1="277.8" y1="947.0" x2="576.9" y2="964.4" stroke="#fff" stroke-width="1.2" opacity="0.48"/><line x1="277.8" y1="947.0" x2="574.6" y2="979.8" stroke="#fff" stroke-width="0.9" opacity="0.29"/><line x1="277.8" y1="947.0" x2="573.8" y2="983.6" stroke="#fff" stroke-width="1.3" opacity="0.61"/><line x1="277.8" y1="947.0" x2="571.4" y2="993.1" stroke="#fff" stroke-width="1.6" opacity="0.69"/><line x1="277.8" y1="947.0" x2="566.5" y2="1008.2" stroke="#fff" stroke-width="0.8" opacity="0.53"/><line x1="277.8" y1="947.0" x2="564.8" y2="1012.4" stroke="#fff" stroke-width="0.7" opacity="0.49"/><line x1="277.8" y1="947.0" x2="559.9" y2="1023.5" stroke="#fff" stroke-width="0.6" opacity="0.36"/><line x1="277.8" y1="947.0" x2="553.8" y2="1035.2" stroke="#fff" stroke-width="1.4" opacity="0.45"/><line x1="277.8" y1="947.0" x2="548.0" y2="1044.8" stroke="#fff" stroke-width="1.1" opacity="0.54"/><line x1="277.8" y1="947.0" x2="541.0" y2="1054.9" stroke="#fff" stroke-width="0.9" opacity="0.46"/><line x1="277.8" y1="947.0" x2="532.2" y2="1066.3" stroke="#fff" stroke-width="1.4" opacity="0.70"/><line x1="277.8" y1="947.0" x2="526.8" y2="1072.5" stroke="#fff" stroke-width="0.8" opacity="0.39"/><line x1="277.8" y1="947.0" x2="522.0" y2="1077.7" stroke="#fff" stroke-width="1.4" opacity="0.28"/><line x1="277.8" y1="947.0" x2="513.1" y2="1086.6" stroke="#fff" stroke-width="1.0" opacity="0.63"/><line x1="277.8" y1="947.0" x2="500.0" y2="1098.1" stroke="#fff" stroke-width="0.6" opacity="0.63"/><line x1="277.8" y1="947.0" x2="497.0" y2="1100.6" stroke="#fff" stroke-width="1.1" opacity="0.66"/><line x1="277.8" y1="947.0" x2="480.9" y2="1112.6" stroke="#fff" stroke-width="0.7" opacity="0.43"/><line x1="277.8" y1="947.0" x2="474.0" y2="1117.2" stroke="#fff" stroke-width="0.9" opacity="0.60"/><line x1="277.8" y1="947.0" x2="468.7" y2="1120.6" stroke="#fff" stroke-width="1.6" opacity="0.40"/><line x1="277.8" y1="947.0" x2="451.6" y2="1130.4" stroke="#fff" stroke-width="0.8" opacity="0.30"/><line x1="277.8" y1="947.0" x2="447.0" y2="1132.8" stroke="#fff" stroke-width="1.4" opacity="0.28"/><line x1="277.8" y1="947.0" x2="435.0" y2="1138.7" stroke="#fff" stroke-width="1.0" opacity="0.50"/><line x1="277.8" y1="947.0" x2="423.2" y2="1143.8" stroke="#fff" stroke-width="0.7" opacity="0.58"/><line x1="277.8" y1="947.0" x2="406.4" y2="1150.3" stroke="#fff" stroke-width="1.0" opacity="0.30"/><line x1="277.8" y1="947.0" x2="398.8" y2="1152.9" stroke="#fff" stroke-width="1.6" opacity="0.37"/><line x1="277.8" y1="947.0" x2="379.8" y2="1158.6" stroke="#fff" stroke-width="1.5" opacity="0.39"/><line x1="277.8" y1="947.0" x2="373.8" y2="1160.2" stroke="#fff" stroke-width="1.5" opacity="0.43"/><line x1="277.8" y1="947.0" x2="355.9" y2="1164.3" stroke="#fff" stroke-width="1.6" opacity="0.30"/><line x1="277.8" y1="947.0" x2="347.9" y2="1165.8" stroke="#fff" stroke-width="1.4" opacity="0.37"/><line x1="277.8" y1="947.0" x2="333.4" y2="1168.1" stroke="#fff" stroke-width="0.7" opacity="0.38"/><line x1="277.8" y1="947.0" x2="322.9" y2="1169.5" stroke="#fff" stroke-width="0.8" opacity="0.51"/><line x1="277.8" y1="947.0" x2="303.5" y2="1171.2" stroke="#fff" stroke-width="1.1" opacity="0.42"/><line x1="277.8" y1="947.0" x2="285.7" y2="1172.0" stroke="#fff" stroke-width="1.2" opacity="0.47"/><line x1="277.8" y1="947.0" x2="273.4" y2="1172.0" stroke="#fff" stroke-width="0.8" opacity="0.33"/><line x1="277.8" y1="947.0" x2="259.4" y2="1171.6" stroke="#fff" stroke-width="0.8" opacity="0.62"/><line x1="277.8" y1="947.0" x2="254.6" y2="1171.4" stroke="#fff" stroke-width="1.5" opacity="0.58"/><line x1="277.8" y1="947.0" x2="241.1" y2="1170.3" stroke="#fff" stroke-width="1.5" opacity="0.68"/><line x1="277.8" y1="947.0" x2="223.0" y2="1168.2" stroke="#fff" stroke-width="0.7" opacity="0.44"/><line x1="277.8" y1="947.0" x2="216.4" y2="1167.3" stroke="#fff" stroke-width="0.8" opacity="0.68"/><line x1="277.8" y1="947.0" x2="195.6" y2="1163.4" stroke="#fff" stroke-width="1.4" opacity="0.37"/><line x1="277.8" y1="947.0" x2="184.0" y2="1160.7" stroke="#fff" stroke-width="0.8" opacity="0.38"/><line x1="277.8" y1="947.0" x2="169.9" y2="1157.0" stroke="#fff" stroke-width="0.8" opacity="0.28"/><line x1="277.8" y1="947.0" x2="159.2" y2="1153.7" stroke="#fff" stroke-width="1.2" opacity="0.63"/><line x1="277.8" y1="947.0" x2="150.0" y2="1150.6" stroke="#fff" stroke-width="0.8" opacity="0.66"/><line x1="277.8" y1="947.0" x2="140.8" y2="1147.2" stroke="#fff" stroke-width="1.0" opacity="0.37"/><line x1="277.8" y1="947.0" x2="128.5" y2="1142.2" stroke="#fff" stroke-width="1.0" opacity="0.33"/><line x1="277.8" y1="947.0" x2="111.8" y2="1134.5" stroke="#fff" stroke-width="1.0" opacity="0.31"/><line x1="277.8" y1="947.0" x2="97.7" y2="1127.0" stroke="#fff" stroke-width="1.3" opacity="0.69"/><line x1="277.8" y1="947.0" x2="88.9" y2="1121.9" stroke="#fff" stroke-width="0.7" opacity="0.51"/><line x1="277.8" y1="947.0" x2="84.6" y2="1119.2" stroke="#fff" stroke-width="1.5" opacity="0.26"/><line x1="277.8" y1="947.0" x2="68.7" y2="1108.4" stroke="#fff" stroke-width="0.6" opacity="0.68"/><line x1="277.8" y1="947.0" x2="59.8" y2="1101.6" stroke="#fff" stroke-width="1.3" opacity="0.47"/><line x1="277.8" y1="947.0" x2="53.3" y2="1096.3" stroke="#fff" stroke-width="0.7" opacity="0.70"/><line x1="277.8" y1="947.0" x2="42.9" y2="1087.0" stroke="#fff" stroke-width="1.5" opacity="0.58"/><line x1="277.8" y1="947.0" x2="33.4" y2="1077.5" stroke="#fff" stroke-width="1.4" opacity="0.57"/><line x1="277.8" y1="947.0" x2="24.7" y2="1067.8" stroke="#fff" stroke-width="1.3" opacity="0.41"/><line x1="277.8" y1="947.0" x2="17.8" y2="1059.3" stroke="#fff" stroke-width="1.0" opacity="0.64"/><line x1="277.8" y1="947.0" x2="12.0" y2="1051.3" stroke="#fff" stroke-width="1.2" opacity="0.64"/><line x1="277.8" y1="947.0" x2="6.8" y2="1043.6" stroke="#fff" stroke-width="1.2" opacity="0.42"/><line x1="277.8" y1="947.0" x2="1.4" y2="1034.6" stroke="#fff" stroke-width="1.2" opacity="0.29"/><line x1="277.8" y1="947.0" x2="-5.1" y2="1021.9" stroke="#fff" stroke-width="1.3" opacity="0.65"/><line x1="277.8" y1="947.0" x2="-7.1" y2="1017.5" stroke="#fff" stroke-width="1.2" opacity="0.58"/><line x1="277.8" y1="947.0" x2="-11.2" y2="1007.4" stroke="#fff" stroke-width="0.7" opacity="0.63"/><line x1="277.8" y1="947.0" x2="-15.4" y2="994.9" stroke="#fff" stroke-width="1.2" opacity="0.26"/><line x1="277.8" y1="947.0" x2="-17.4" y2="987.4" stroke="#fff" stroke-width="1.3" opacity="0.35"/><line x1="277.8" y1="947.0" x2="-19.5" y2="977.3" stroke="#fff" stroke-width="1.5" opacity="0.53"/><line x1="277.8" y1="947.0" x2="-20.7" y2="969.4" stroke="#fff" stroke-width="0.9" opacity="0.26"/><line x1="277.8" y1="947.0" x2="-22.0" y2="955.5" stroke="#fff" stroke-width="0.8" opacity="0.34"/><line x1="277.8" y1="947.0" x2="-22.2" y2="943.4" stroke="#fff" stroke-width="1.0" opacity="0.55"/><line x1="277.8" y1="947.0" x2="-21.7" y2="933.4" stroke="#fff" stroke-width="1.3" opacity="0.40"/><line x1="277.8" y1="947.0" x2="-21.3" y2="929.6" stroke="#fff" stroke-width="1.4" opacity="0.44"/><line x1="277.8" y1="947.0" x2="-18.8" y2="913.1" stroke="#fff" stroke-width="1.0" opacity="0.65"/><line x1="277.8" y1="947.0" x2="-17.2" y2="906.1" stroke="#fff" stroke-width="0.7" opacity="0.39"/><line x1="277.8" y1="947.0" x2="-14.7" y2="897.0" stroke="#fff" stroke-width="1.4" opacity="0.63"/><line x1="277.8" y1="947.0" x2="-10.7" y2="885.3" stroke="#fff" stroke-width="0.9" opacity="0.68"/><line x1="277.8" y1="947.0" x2="-8.7" y2="880.3" stroke="#fff" stroke-width="0.9" opacity="0.45"/><line x1="277.8" y1="947.0" x2="-4.3" y2="870.4" stroke="#fff" stroke-width="1.2" opacity="0.44"/><line x1="277.8" y1="947.0" x2="1.9" y2="858.6" stroke="#fff" stroke-width="1.4" opacity="0.39"/><line x1="277.8" y1="947.0" x2="10.0" y2="845.5" stroke="#fff" stroke-width="0.7" opacity="0.45"/><line x1="277.8" y1="947.0" x2="11.0" y2="844.1" stroke="#fff" stroke-width="0.6" opacity="0.64"/><line x1="277.8" y1="947.0" x2="21.5" y2="830.0" stroke="#fff" stroke-width="0.9" opacity="0.51"/><line x1="277.8" y1="947.0" x2="29.3" y2="820.9" stroke="#fff" stroke-width="0.7" opacity="0.26"/><line x1="277.8" y1="947.0" x2="34.8" y2="815.1" stroke="#fff" stroke-width="1.4" opacity="0.26"/><line x1="277.8" y1="947.0" x2="41.3" y2="808.6" stroke="#fff" stroke-width="0.6" opacity="0.31"/><line x1="277.8" y1="947.0" x2="52.9" y2="798.1" stroke="#fff" stroke-width="1.2" opacity="0.45"/><line x1="277.8" y1="947.0" x2="62.2" y2="790.5" stroke="#fff" stroke-width="1.6" opacity="0.61"/><line x1="277.8" y1="947.0" x2="72.1" y2="783.3" stroke="#fff" stroke-width="1.1" opacity="0.34"/><line x1="277.8" y1="947.0" x2="77.5" y2="779.5" stroke="#fff" stroke-width="1.1" opacity="0.25"/><line x1="277.8" y1="947.0" x2="92.7" y2="769.9" stroke="#fff" stroke-width="0.9" opacity="0.33"/><line x1="277.8" y1="947.0" x2="99.9" y2="765.8" stroke="#fff" stroke-width="1.1" opacity="0.56"/><line x1="277.8" y1="947.0" x2="113.7" y2="758.7" stroke="#fff" stroke-width="1.0" opacity="0.59"/><line x1="277.8" y1="947.0" x2="126.9" y2="752.5" stroke="#fff" stroke-width="0.7" opacity="0.66"/><line x1="277.8" y1="947.0" x2="140.2" y2="747.1" stroke="#fff" stroke-width="0.7" opacity="0.58"/><line x1="277.8" y1="947.0" x2="147.1" y2="744.5" stroke="#fff" stroke-width="1.5" opacity="0.53"/><line x1="277.8" y1="947.0" x2="158.5" y2="740.6" stroke="#fff" stroke-width="1.5" opacity="0.51"/><line x1="277.8" y1="947.0" x2="175.7" y2="735.5" stroke="#fff" stroke-width="1.1" opacity="0.67"/><line x1="277.8" y1="947.0" x2="186.8" y2="732.6" stroke="#fff" stroke-width="1.3" opacity="0.34"/><line x1="277.8" y1="947.0" x2="201.7" y2="729.4" stroke="#fff" stroke-width="1.3" opacity="0.54"/><line x1="277.8" y1="947.0" x2="207.7" y2="728.3" stroke="#fff" stroke-width="1.6" opacity="0.65"/><line x1="277.8" y1="947.0" x2="229.9" y2="724.9" stroke="#fff" stroke-width="1.4" opacity="0.49"/><line x1="277.8" y1="947.0" x2="235.4" y2="724.3" stroke="#fff" stroke-width="1.5" opacity="0.66"/><line x1="277.8" y1="947.0" x2="249.1" y2="723.1" stroke="#fff" stroke-width="1.0" opacity="0.29"/><line x1="277.8" y1="947.0" x2="264.9" y2="722.2" stroke="#fff" stroke-width="1.1" opacity="0.60"/><line x1="277.8" y1="947.0" x2="272.1" y2="722.1" stroke="#fff" stroke-width="0.7" opacity="0.61"/><line x1="277.8" y1="947.0" x2="294.8" y2="722.4" stroke="#fff" stroke-width="0.9" opacity="0.33"/><line x1="277.8" y1="947.0" x2="308.1" y2="723.2" stroke="#fff" stroke-width="0.7" opacity="0.31"/><line x1="277.8" y1="947.0" x2="318.2" y2="724.1" stroke="#fff" stroke-width="1.4" opacity="0.58"/><line x1="277.8" y1="947.0" x2="333.6" y2="726.0" stroke="#fff" stroke-width="1.1" opacity="0.68"/><line x1="277.8" y1="947.0" x2="349.8" y2="728.6" stroke="#fff" stroke-width="0.8" opacity="0.29"/><line x1="277.8" y1="947.0" x2="357.9" y2="730.2" stroke="#fff" stroke-width="1.3" opacity="0.38"/><line x1="277.8" y1="947.0" x2="372.1" y2="733.4" stroke="#fff" stroke-width="1.4" opacity="0.49"/><line x1="277.8" y1="947.0" x2="383.9" y2="736.6" stroke="#fff" stroke-width="1.0" opacity="0.39"/><line x1="277.8" y1="947.0" x2="399.5" y2="741.4" stroke="#fff" stroke-width="0.8" opacity="0.66"/><line x1="277.8" y1="947.0" x2="411.7" y2="745.7" stroke="#fff" stroke-width="1.1" opacity="0.69"/><line x1="277.8" y1="947.0" x2="420.7" y2="749.2" stroke="#fff" stroke-width="1.1" opacity="0.34"/><line x1="277.8" y1="947.0" x2="431.7" y2="753.9" stroke="#fff" stroke-width="0.6" opacity="0.52"/><line x1="277.8" y1="947.0" x2="447.7" y2="761.6" stroke="#fff" stroke-width="1.0" opacity="0.48"/><line x1="277.8" y1="947.0" x2="457.0" y2="766.6" stroke="#fff" stroke-width="1.1" opacity="0.50"/><line x1="277.8" y1="947.0" x2="466.6" y2="772.2" stroke="#fff" stroke-width="1.1" opacity="0.28"/><line x1="277.8" y1="947.0" x2="474.4" y2="777.1" stroke="#fff" stroke-width="1.5" opacity="0.68"/><line x1="277.8" y1="947.0" x2="483.1" y2="783.0" stroke="#fff" stroke-width="0.7" opacity="0.46"/><line x1="277.8" y1="947.0" x2="494.1" y2="791.1" stroke="#fff" stroke-width="1.5" opacity="0.62"/><line x1="277.8" y1="947.0" x2="503.5" y2="798.8" stroke="#fff" stroke-width="0.8" opacity="0.39"/><line x1="277.8" y1="947.0" x2="513.2" y2="807.6" stroke="#fff" stroke-width="0.7" opacity="0.67"/><line x1="277.8" y1="947.0" x2="522.4" y2="816.8" stroke="#fff" stroke-width="0.8" opacity="0.26"/><line x1="277.8" y1="947.0" x2="526.3" y2="821.0" stroke="#fff" stroke-width="0.9" opacity="0.56"/><line x1="277.8" y1="947.0" x2="534.4" y2="830.5" stroke="#fff" stroke-width="0.7" opacity="0.53"/><line x1="277.8" y1="947.0" x2="543.3" y2="842.2" stroke="#fff" stroke-width="1.1" opacity="0.31"/><line x1="277.8" y1="947.0" x2="546.8" y2="847.4" stroke="#fff" stroke-width="1.1" opacity="0.34"/><line x1="277.8" y1="947.0" x2="553.3" y2="858.1" stroke="#fff" stroke-width="1.0" opacity="0.42"/><line x1="277.8" y1="947.0" x2="558.8" y2="868.2" stroke="#fff" stroke-width="0.8" opacity="0.32"/><line x1="277.8" y1="947.0" x2="563.6" y2="878.6" stroke="#fff" stroke-width="1.1" opacity="0.54"/><line x1="277.8" y1="947.0" x2="568.1" y2="890.2" stroke="#fff" stroke-width="1.5" opacity="0.53"/><line x1="277.8" y1="947.0" x2="569.5" y2="894.6" stroke="#fff" stroke-width="1.4" opacity="0.58"/><line x1="277.8" y1="947.0" x2="573.8" y2="910.4" stroke="#fff" stroke-width="0.9" opacity="0.39"/><line x1="277.8" y1="947.0" x2="575.7" y2="920.6" stroke="#fff" stroke-width="1.6" opacity="0.35"/><line x1="277.8" y1="947.0" x2="577.0" y2="930.3" stroke="#fff" stroke-width="0.8" opacity="0.31"/><line x1="277.8" y1="947.0" x2="577.6" y2="939.0" stroke="#fff" stroke-width="0.7" opacity="0.37"/><ellipse cx="277.8" cy="977.0" rx="70" ry="60" fill="#e8f8ff" opacity="0.5" filter="url(#blur12)"/></g><ellipse cx="277.8" cy="947.0" rx="68" ry="58" fill="url(#gBglow)"/><polygon points="247.1,805.5 256.4,802.8 272.4,888.3 263.1,890.9" fill="#9a9a9a"/><polygon points="249.7,804.9 253.7,803.9 268.4,888.3 265.0,889.3" fill="#d8d8d8"/><polygon points="255.1,890.9 272.4,886.9 288.5,984.4 264.4,987.1" fill="#7cc830" opacity="0.95"/><polygon points="260.4,890.9 265.8,889.9 277.8,984.4 272.4,985.0" fill="#b8f070" opacity="0.8"/><polygon points="267.1,977.7 285.8,976.9 293.8,989.8 285.3,1001.8 268.4,1001.8 260.4,989.8" fill="#8cd030" stroke="#222" stroke-width="1.8"/><ellipse cx="277.8" cy="947.0" rx="14" ry="12" fill="#fff" filter="url(#blur3)"/><polygon points="237.2,899.0 232.2,907.0 242.2,907.0" fill="#fff"/><line x1="237.2" y1="907.0" x2="237.2" y2="917.0" stroke="#fff" stroke-width="1.5" stroke-dasharray="2,1"/><polygon points="244.4,995.1 239.4,987.1 249.4,987.1" fill="#fff"/><line x1="244.4" y1="987.1" x2="244.4" y2="973.1" stroke="#fff" stroke-width="1.5" stroke-dasharray="2,1"/><line x1="289.8" y1="828.2" x2="263.1" y2="837.5" stroke="#222" stroke-width="1.3"/><line x1="252.4" y1="995.1" x2="217.7" y2="1027.2" stroke="#222" stroke-width="1.3"/><text x="297.8" y="838.9" font-size="25" fill="#222" textLength="60.1" lengthAdjust="spacingAndGlyphs">GaN</text><text x="158.9" y="944.4" font-size="22" class="b" fill="#222" textLength="81.5" lengthAdjust="spacingAndGlyphs">170 nm</text><text x="60.1" y="1051.2" font-size="27" fill="#222" textLength="183.0" lengthAdjust="spacingAndGlyphs">InGaN@GaN</text><text x="60.1" y="1083.2" font-size="27" fill="#222" textLength="138.9" lengthAdjust="spacingAndGlyphs">core-shell</text><defs><linearGradient id="gBhexV" x1="0" x2="0" y1="0" y2="1"><stop offset="0" stop-color="#283c92" stop-opacity="0.0"/><stop offset="0.35" stop-color="#2a4aa0" stop-opacity="0.5"/><stop offset="0.55" stop-color="#2f62b8" stop-opacity="0.9"/><stop offset="0.72" stop-color="#48a8e0"/><stop offset="0.85" stop-color="#6cc8e4"/><stop offset="0.94" stop-color="#a0dca0"/><stop offset="1" stop-color="#e0e478"/></linearGradient><linearGradient id="gBstrip" x1="0" x2="1"><stop offset="0" stop-color="#40c0e8" stop-opacity="0"/><stop offset="0.12" stop-color="#f8e020"/><stop offset="0.2" stop-color="#f03010"/><stop offset="0.8" stop-color="#e81010"/><stop offset="0.88" stop-color="#f8e020"/><stop offset="1" stop-color="#40c0e8" stop-opacity="0"/></linearGradient></defs><rect x="527.8" y="741.9" width="380.3" height="383.0" fill="#1f2566"/><polygon points="663.2,804.8 772.7,804.8 835.6,908.8 780.9,1010.0 655.0,1010.0 603.0,908.8" fill="#263a90" opacity="0.9" filter="url(#blur5)"/><polygon points="663.2,804.8 772.7,804.8 835.6,908.8 780.9,1010.0 655.0,1010.0 603.0,908.8" fill="url(#gBhexV)" filter="url(#blur3)"/><ellipse cx="717.9" cy="952.6" rx="55" ry="45" fill="#50b0e8" opacity="0.55" filter="url(#blur12)"/><rect x="527.8" y="1012.2" width="380.3" height="17.0" fill="#253c94"/><rect x="644.1" y="1012.2" width="142.3" height="17.0" fill="#40c0e8" opacity="0.7" filter="url(#blur3)"/><rect x="652.3" y="1012.7" width="131.3" height="16.4" fill="url(#gBstrip)"/><ellipse cx="717.9" cy="1037.4" rx="80" ry="10" fill="#3060c0" opacity="0.6" filter="url(#blur5)"/><line x1="527.8" y1="1011.7" x2="908.1" y2="1011.7" stroke="#fff" stroke-width="2"/><line x1="527.8" y1="1029.2" x2="908.1" y2="1029.2" stroke="#fff" stroke-width="2"/><polygon points="679.6,847.2 753.5,847.2 791.8,910.2 753.5,975.8 679.6,975.8 641.9,910.2" fill="none" stroke="#fff" stroke-width="2.2" stroke-dasharray="4,3"/><text x="717.9" y="803.4" font-size="22" class="b" fill="#fff" text-anchor="middle">30 nm</text><polygon points="661.0,796.6 674.2,791.7 674.2,801.5" fill="#fff"/><line x1="672.8" y1="796.6" x2="681.0" y2="796.6" stroke="#fff" stroke-width="1.5"/><polygon points="774.0,796.6 761.2,791.7 761.2,801.5" fill="#fff"/><line x1="754.9" y1="796.6" x2="763.1" y2="796.6" stroke="#fff" stroke-width="1.5"/><text x="719.3" y="839.6" font-size="29" fill="#fff" text-anchor="middle">GaN</text><text x="718.5" y="923.8" font-size="30" class="b" fill="#fff" text-anchor="middle" textLength="88.9" lengthAdjust="spacingAndGlyphs">InGaN</text><text x="529.2" y="960.8" font-size="25" fill="#fff">SiO<tspan font-size="18" dy="4">2</tspan></text><text x="531.3" y="978.5" font-size="22" class="b" fill="#fff" textLength="53.9" lengthAdjust="spacingAndGlyphs">5 nm</text><line x1="550.5" y1="984.0" x2="550.5" y2="1001.8" stroke="#fff" stroke-width="2"/><polygon points="540.1,996.3 560.9,996.3 550.5,1010.6" fill="#fff"/><line x1="550.5" y1="1040.1" x2="550.5" y2="1055.2" stroke="#fff" stroke-width="2"/><polygon points="540.1,1045.0 560.9,1045.0 550.5,1030.5" fill="#fff"/><text x="641.3" y="1083.9" font-size="26" fill="#fff" textLength="151.8" lengthAdjust="spacingAndGlyphs">Epi-Ag film</text><rect x="56.4" y="1159" width="371.1" height="275.4" fill="#fff" stroke="#333" stroke-width="1.8"/><line x1="56.4" y1="1434.4" x2="56.4" y2="1429.4" stroke="#333" stroke-width="1.3"/><line x1="93.7" y1="1434.4" x2="93.7" y2="1431.4" stroke="#333" stroke-width="1.3"/><line x1="130.9" y1="1434.4" x2="130.9" y2="1429.4" stroke="#333" stroke-width="1.3"/><line x1="168.2" y1="1434.4" x2="168.2" y2="1431.4" stroke="#333" stroke-width="1.3"/><line x1="205.4" y1="1434.4" x2="205.4" y2="1429.4" stroke="#333" stroke-width="1.3"/><line x1="242.7" y1="1434.4" x2="242.7" y2="1431.4" stroke="#333" stroke-width="1.3"/><line x1="279.9" y1="1434.4" x2="279.9" y2="1429.4" stroke="#333" stroke-width="1.3"/><line x1="317.1" y1="1434.4" x2="317.1" y2="1431.4" stroke="#333" stroke-width="1.3"/><line x1="354.4" y1="1434.4" x2="354.4" y2="1429.4" stroke="#333" stroke-width="1.3"/><line x1="391.6" y1="1434.4" x2="391.6" y2="1431.4" stroke="#333" stroke-width="1.3"/><line x1="428.9" y1="1434.4" x2="428.9" y2="1429.4" stroke="#333" stroke-width="1.3"/><line x1="56.4" y1="1174.0" x2="61.4" y2="1174.0" stroke="#333" stroke-width="1.3"/><line x1="56.4" y1="1202.1" x2="61.4" y2="1202.1" stroke="#333" stroke-width="1.3"/><line x1="56.4" y1="1230.1" x2="61.4" y2="1230.1" stroke="#333" stroke-width="1.3"/><line x1="56.4" y1="1258.2" x2="61.4" y2="1258.2" stroke="#333" stroke-width="1.3"/><line x1="56.4" y1="1286.3" x2="61.4" y2="1286.3" stroke="#333" stroke-width="1.3"/><line x1="56.4" y1="1314.4" x2="61.4" y2="1314.4" stroke="#333" stroke-width="1.3"/><line x1="56.4" y1="1342.4" x2="61.4" y2="1342.4" stroke="#333" stroke-width="1.3"/><line x1="56.4" y1="1370.5" x2="61.4" y2="1370.5" stroke="#333" stroke-width="1.3"/><line x1="56.4" y1="1398.6" x2="61.4" y2="1398.6" stroke="#333" stroke-width="1.3"/><line x1="56.4" y1="1426.6" x2="61.4" y2="1426.6" stroke="#333" stroke-width="1.3"/><text x="56.4" y="1458" font-size="20.5" fill="#000" text-anchor="middle">300</text><text x="130.9" y="1458" font-size="20.5" fill="#000" text-anchor="middle">400</text><text x="205.4" y="1458" font-size="20.5" fill="#000" text-anchor="middle">500</text><text x="279.9" y="1458" font-size="20.5" fill="#000" text-anchor="middle">600</text><text x="354.4" y="1458" font-size="20.5" fill="#000" text-anchor="middle">700</text><text x="247" y="1484" font-size="20.8" fill="#000" text-anchor="middle">Wavelength (nm)</text><text transform="translate(44,1308) rotate(-90)" font-size="21" fill="#000" text-anchor="middle">Intensity (a.u.)</text><text x="77" y="1187" font-size="20.5" fill="#000">78 k</text><text x="77" y="1212" font-size="21" fill="#000">CW lasing</text><rect x="70" y="1221" width="85" height="86" fill="#141c14"/><circle cx="112" cy="1263" r="16" fill="none" stroke="#1e7a3a" stroke-width="4" opacity="0.9"/><circle cx="112" cy="1263" r="10" fill="#40b860"/><circle cx="112" cy="1263" r="6" fill="#70d890"/><text x="72" y="1297" font-size="10" fill="#ddd">5 μm</text><rect x="71" y="1303" width="52" height="1.8" fill="#eee"/><polyline points="145.8,1424.5 146.5,1424.5 147.3,1424.5 148.0,1424.5 148.8,1424.5 149.5,1424.5 150.3,1424.5 151.0,1424.4 151.8,1424.4 152.5,1424.4 153.2,1424.4 154.0,1424.4 154.7,1424.4 155.5,1424.4 156.2,1424.4 157.0,1424.4 157.7,1424.4 158.5,1424.4 159.2,1424.4 160.0,1424.3 160.7,1424.3 161.4,1424.3 162.2,1424.3 162.9,1424.3 163.7,1424.3 164.4,1424.3 165.2,1424.3 165.9,1424.3 166.7,1424.3 167.4,1424.3 168.2,1424.3 168.9,1424.2 169.6,1424.2 170.4,1424.2 171.1,1424.2 171.9,1424.2 172.6,1424.2 173.4,1424.2 174.1,1424.2 174.9,1424.2 175.6,1424.2 176.3,1424.2 177.1,1424.2 177.8,1424.1 178.6,1424.1 179.3,1424.1 180.1,1424.1 180.8,1424.1 181.6,1424.1 182.3,1424.1 183.1,1424.1 183.8,1424.1 184.5,1424.1 185.3,1424.1 186.0,1424.1 186.8,1424.0 187.5,1424.0 188.3,1424.0 189.0,1424.0 189.8,1424.0 190.5,1424.0 191.2,1424.0 192.0,1424.0 192.7,1424.0 193.5,1424.0 194.2,1424.0 195.0,1424.0 195.7,1423.9 196.5,1423.9 197.2,1423.9 198.0,1423.9 198.7,1423.9 199.4,1423.9 200.2,1423.9 200.9,1423.9 201.7,1423.8 202.4,1423.8 203.2,1423.7 203.9,1423.7 204.7,1423.6 205.4,1423.5 206.1,1423.2 206.9,1422.8 207.6,1422.5 208.4,1422.1 209.1,1421.7 209.9,1421.4 210.6,1421.2 211.4,1421.0 212.1,1420.8 212.8,1420.9 213.6,1421.0 214.3,1421.1 215.1,1421.2 215.8,1421.3 216.6,1421.5 217.3,1421.5 218.1,1421.5 218.8,1421.5 219.6,1421.4 220.3,1421.4 221.0,1421.3 221.8,1421.3 222.5,1421.4 223.3,1421.4 224.0,1421.5 224.8,1421.6 225.5,1421.7 226.3,1421.8 227.0,1422.0 227.8,1422.1 228.5,1422.3 229.2,1422.4 230.0,1422.5 230.7,1422.6 231.5,1422.7 232.2,1422.7 233.0,1422.8 233.7,1422.9 234.5,1422.9 235.2,1423.0 235.9,1423.0 236.7,1423.0 237.4,1423.1 238.2,1423.1 238.9,1423.1 239.7,1423.1 240.4,1423.2 241.2,1423.2 241.9,1423.2 242.7,1423.2 243.4,1423.2 244.1,1423.2 244.9,1423.2 245.6,1423.2 246.4,1423.2 247.1,1423.2 247.9,1423.2 248.6,1423.2 249.4,1423.2 250.1,1423.2 250.8,1423.2 251.6,1423.2 252.3,1423.2 253.1,1423.2 253.8,1423.2 254.6,1423.2 255.3,1423.2 256.1,1423.2 256.8,1423.2 257.6,1423.2 258.3,1423.2 259.0,1423.2 259.8,1423.2 260.5,1423.2 261.3,1423.2 262.0,1423.1 262.8,1423.1 263.5,1423.1 264.3,1423.1 265.0,1423.1 265.7,1423.1 266.5,1423.1 267.2,1423.1 268.0,1423.1 268.7,1423.1 269.5,1423.1 270.2,1423.1 271.0,1423.1 271.7,1423.1 272.4,1423.1 273.2,1423.1 273.9,1423.1 274.7,1423.1 275.4,1423.1 276.2,1423.0 276.9,1423.0 277.7,1423.0 278.4,1423.0 279.2,1423.0 279.9,1423.0 280.6,1423.0 281.4,1423.0 282.1,1423.0 282.9,1423.0 283.6,1423.0 284.4,1423.0 285.1,1423.0 285.9,1423.0 286.6,1423.0 287.3,1422.9 288.1,1422.9 288.8,1422.9 289.6,1422.9 290.3,1422.9 291.1,1422.9 291.8,1422.9 292.6,1422.9 293.3,1422.9 294.1,1422.9 294.8,1422.9 295.5,1422.9 296.3,1422.9 297.0,1422.9 297.8,1422.8 298.5,1422.8 299.3,1422.8 300.0,1422.8 300.8,1422.8 301.5,1422.8 302.2,1422.8" fill="none" stroke="#f07820" stroke-width="1.7"/><polyline points="145.8,1424.5 146.5,1424.5 147.3,1424.5 148.0,1424.5 148.8,1424.5 149.5,1424.5 150.3,1424.4 151.0,1424.4 151.8,1424.4 152.5,1424.4 153.2,1424.4 154.0,1424.4 154.7,1424.4 155.5,1424.4 156.2,1424.4 157.0,1424.4 157.7,1424.4 158.5,1424.4 159.2,1424.3 160.0,1424.3 160.7,1424.3 161.4,1424.3 162.2,1424.3 162.9,1424.3 163.7,1424.3 164.4,1424.3 165.2,1424.3 165.9,1424.3 166.7,1424.3 167.4,1424.2 168.2,1424.2 168.9,1424.2 169.6,1424.2 170.4,1424.2 171.1,1424.2 171.9,1424.2 172.6,1424.2 173.4,1424.2 174.1,1424.2 174.9,1424.2 175.6,1424.2 176.3,1424.1 177.1,1424.1 177.8,1424.1 178.6,1424.1 179.3,1424.1 180.1,1424.1 180.8,1424.1 181.6,1424.1 182.3,1424.1 183.1,1424.1 183.8,1424.1 184.5,1424.0 185.3,1424.0 186.0,1424.0 186.8,1424.0 187.5,1424.0 188.3,1424.0 189.0,1424.0 189.8,1424.0 190.5,1424.0 191.2,1424.0 192.0,1424.0 192.7,1424.0 193.5,1423.9 194.2,1423.9 195.0,1423.9 195.7,1423.9 196.5,1423.9 197.2,1423.9 198.0,1423.9 198.7,1423.9 199.4,1423.8 200.2,1423.8 200.9,1423.8 201.7,1423.7 202.4,1423.7 203.2,1423.5 203.9,1423.2 204.7,1423.0 205.4,1422.7 206.1,1421.7 206.9,1420.6 207.6,1419.6 208.4,1418.4 209.1,1417.2 209.9,1416.0 210.6,1415.4 211.4,1414.9 212.1,1414.3 212.8,1414.6 213.6,1414.9 214.3,1415.2 215.1,1415.7 215.8,1416.1 216.6,1416.6 217.3,1416.7 218.1,1416.7 218.8,1416.6 219.6,1416.4 220.3,1416.3 221.0,1416.2 221.8,1416.2 222.5,1416.4 223.3,1416.5 224.0,1416.7 224.8,1417.1 225.5,1417.5 226.3,1417.9 227.0,1418.4 227.8,1418.9 228.5,1419.3 229.2,1419.7 230.0,1420.0 230.7,1420.4 231.5,1420.7 232.2,1420.9 233.0,1421.1 233.7,1421.3 234.5,1421.5 235.2,1421.7 235.9,1421.9 236.7,1422.0 237.4,1422.1 238.2,1422.2 238.9,1422.4 239.7,1422.4 240.4,1422.5 241.2,1422.5 241.9,1422.5 242.7,1422.6 243.4,1422.6 244.1,1422.6 244.9,1422.6 245.6,1422.6 246.4,1422.6 247.1,1422.6 247.9,1422.7 248.6,1422.7 249.4,1422.7 250.1,1422.7 250.8,1422.7 251.6,1422.7 252.3,1422.8 253.1,1422.8 253.8,1422.8 254.6,1422.8 255.3,1422.8 256.1,1422.8 256.8,1422.9 257.6,1422.9 258.3,1422.9 259.0,1422.9 259.8,1422.9 260.5,1422.9 261.3,1422.9 262.0,1422.9 262.8,1422.9 263.5,1422.9 264.3,1422.9 265.0,1423.0 265.7,1423.0 266.5,1423.0 267.2,1423.0 268.0,1423.0 268.7,1422.9 269.5,1422.9 270.2,1422.9 271.0,1422.9 271.7,1422.9 272.4,1422.9 273.2,1422.9 273.9,1422.9 274.7,1422.9 275.4,1422.9 276.2,1422.9 276.9,1422.9 277.7,1422.9 278.4,1422.9 279.2,1422.9 279.9,1422.9 280.6,1422.9 281.4,1422.9 282.1,1422.9 282.9,1422.9 283.6,1422.9 284.4,1422.9 285.1,1422.9 285.9,1422.9 286.6,1422.9 287.3,1422.9 288.1,1422.9 288.8,1422.9 289.6,1422.9 290.3,1422.9 291.1,1422.8 291.8,1422.8 292.6,1422.8 293.3,1422.8 294.1,1422.8 294.8,1422.8 295.5,1422.8 296.3,1422.8 297.0,1422.8 297.8,1422.8 298.5,1422.8 299.3,1422.8 300.0,1422.8 300.8,1422.8 301.5,1422.8 302.2,1422.8" fill="none" stroke="#5a6ae8" stroke-width="1.7"/><polyline points="145.8,1424.5 146.5,1424.5 147.3,1424.5 148.0,1424.5 148.8,1424.5 149.5,1424.5 150.3,1424.4 151.0,1424.4 151.8,1424.4 152.5,1424.4 153.2,1424.4 154.0,1424.4 154.7,1424.4 155.5,1424.4 156.2,1424.4 157.0,1424.4 157.7,1424.4 158.5,1424.3 159.2,1424.3 160.0,1424.3 160.7,1424.3 161.4,1424.3 162.2,1424.3 162.9,1424.3 163.7,1424.3 164.4,1424.3 165.2,1424.3 165.9,1424.3 166.7,1424.2 167.4,1424.2 168.2,1424.2 168.9,1424.2 169.6,1424.2 170.4,1424.2 171.1,1424.2 171.9,1424.2 172.6,1424.2 173.4,1424.2 174.1,1424.1 174.9,1424.1 175.6,1424.1 176.3,1424.1 177.1,1424.1 177.8,1424.1 178.6,1424.1 179.3,1424.1 180.1,1424.1 180.8,1424.1 181.6,1424.1 182.3,1424.0 183.1,1424.0 183.8,1424.0 184.5,1424.0 185.3,1424.0 186.0,1424.0 186.8,1424.0 187.5,1424.0 188.3,1424.0 189.0,1424.0 189.8,1424.0 190.5,1423.9 191.2,1423.9 192.0,1423.9 192.7,1423.9 193.5,1423.9 194.2,1423.9 195.0,1423.9 195.7,1423.9 196.5,1423.9 197.2,1423.9 198.0,1423.9 198.7,1423.8 199.4,1423.8 200.2,1423.7 200.9,1423.7 201.7,1423.6 202.4,1423.6 203.2,1423.1 203.9,1422.7 204.7,1422.3 205.4,1421.8 206.1,1419.9 206.9,1418.1 207.6,1416.2 208.4,1414.1 209.1,1412.0 209.9,1409.9 210.6,1408.8 211.4,1407.8 212.1,1406.8 212.8,1407.3 213.6,1407.9 214.3,1408.5 215.1,1409.3 215.8,1410.1 216.6,1411.0 217.3,1411.1 218.1,1411.1 218.8,1410.9 219.6,1410.7 220.3,1410.4 221.0,1410.3 221.8,1410.3 222.5,1410.6 223.3,1410.9 224.0,1411.2 224.8,1412.0 225.5,1412.7 226.3,1413.4 227.0,1414.3 227.8,1415.1 228.5,1416.0 229.2,1416.6 230.0,1417.2 230.7,1417.9 231.5,1418.5 232.2,1418.8 233.0,1419.2 233.7,1419.6 234.5,1419.9 235.2,1420.3 235.9,1420.5 236.7,1420.8 237.4,1421.0 238.2,1421.2 238.9,1421.5 239.7,1421.5 240.4,1421.6 241.2,1421.7 241.9,1421.8 242.7,1421.9 243.4,1421.9 244.1,1421.9 244.9,1421.9 245.6,1422.0 246.4,1422.0 247.1,1422.0 247.9,1422.1 248.6,1422.1 249.4,1422.1 250.1,1422.2 250.8,1422.2 251.6,1422.3 252.3,1422.3 253.1,1422.3 253.8,1422.4 254.6,1422.4 255.3,1422.4 256.1,1422.5 256.8,1422.5 257.6,1422.5 258.3,1422.6 259.0,1422.6 259.8,1422.6 260.5,1422.6 261.3,1422.6 262.0,1422.7 262.8,1422.7 263.5,1422.7 264.3,1422.7 265.0,1422.7 265.7,1422.7 266.5,1422.8 267.2,1422.8 268.0,1422.8 268.7,1422.8 269.5,1422.8 270.2,1422.8 271.0,1422.8 271.7,1422.8 272.4,1422.8 273.2,1422.8 273.9,1422.8 274.7,1422.8 275.4,1422.8 276.2,1422.8 276.9,1422.8 277.7,1422.8 278.4,1422.8 279.2,1422.8 279.9,1422.8 280.6,1422.8 281.4,1422.8 282.1,1422.8 282.9,1422.8 283.6,1422.8 284.4,1422.8 285.1,1422.8 285.9,1422.8 286.6,1422.8 287.3,1422.8 288.1,1422.8 288.8,1422.8 289.6,1422.8 290.3,1422.8 291.1,1422.8 291.8,1422.8 292.6,1422.8 293.3,1422.8 294.1,1422.8 294.8,1422.8 295.5,1422.8 296.3,1422.8 297.0,1422.7 297.8,1422.7 298.5,1422.7 299.3,1422.7 300.0,1422.7 300.8,1422.7 301.5,1422.7 302.2,1422.7" fill="none" stroke="#3aa830" stroke-width="1.7"/><polyline points="145.8,1424.5 146.5,1424.5 147.3,1424.5 148.0,1424.5 148.8,1424.5 149.5,1424.4 150.3,1424.4 151.0,1424.4 151.8,1424.4 152.5,1424.4 153.2,1424.4 154.0,1424.4 154.7,1424.4 155.5,1424.4 156.2,1424.4 157.0,1424.3 157.7,1424.3 158.5,1424.3 159.2,1424.3 160.0,1424.3 160.7,1424.3 161.4,1424.3 162.2,1424.3 162.9,1424.3 163.7,1424.3 164.4,1424.2 165.2,1424.2 165.9,1424.2 166.7,1424.2 167.4,1424.2 168.2,1424.2 168.9,1424.2 169.6,1424.2 170.4,1424.2 171.1,1424.1 171.9,1424.1 172.6,1424.1 173.4,1424.1 174.1,1424.1 174.9,1424.1 175.6,1424.1 176.3,1424.1 177.1,1424.1 177.8,1424.1 178.6,1424.0 179.3,1424.0 180.1,1424.0 180.8,1424.0 181.6,1424.0 182.3,1424.0 183.1,1424.0 183.8,1424.0 184.5,1424.0 185.3,1424.0 186.0,1423.9 186.8,1423.9 187.5,1423.9 188.3,1423.9 189.0,1423.9 189.8,1423.9 190.5,1423.9 191.2,1423.9 192.0,1423.9 192.7,1423.8 193.5,1423.8 194.2,1423.8 195.0,1423.8 195.7,1423.8 196.5,1423.8 197.2,1423.8 198.0,1423.8 198.7,1423.7 199.4,1423.6 200.2,1423.5 200.9,1423.4 201.7,1423.3 202.4,1423.2 203.2,1422.4 203.9,1421.6 204.7,1420.7 205.4,1419.9 206.1,1416.3 206.9,1412.6 207.6,1409.0 208.4,1404.9 209.1,1400.8 209.9,1396.8 210.6,1394.8 211.4,1392.8 212.1,1390.8 212.8,1391.9 213.6,1393.0 214.3,1394.1 215.1,1395.7 215.8,1397.3 216.6,1399.0 217.3,1399.1 218.1,1399.3 218.8,1398.9 219.6,1398.4 220.3,1398.0 221.0,1397.8 221.8,1397.6 222.5,1398.3 223.3,1398.9 224.0,1399.6 224.8,1401.0 225.5,1402.4 226.3,1403.8 227.0,1405.5 227.8,1407.1 228.5,1408.8 229.2,1410.0 230.0,1411.2 230.7,1412.5 231.5,1413.7 232.2,1414.4 233.0,1415.1 233.7,1415.8 234.5,1416.6 235.2,1417.3 235.9,1417.7 236.7,1418.2 237.4,1418.6 238.2,1419.1 238.9,1419.5 239.7,1419.7 240.4,1419.9 241.2,1420.1 241.9,1420.2 242.7,1420.4 243.4,1420.5 244.1,1420.5 244.9,1420.5 245.6,1420.6 246.4,1420.6 247.1,1420.7 247.9,1420.8 248.6,1420.9 249.4,1421.0 250.1,1421.1 250.8,1421.1 251.6,1421.2 252.3,1421.3 253.1,1421.4 253.8,1421.4 254.6,1421.5 255.3,1421.6 256.1,1421.7 256.8,1421.7 257.6,1421.8 258.3,1421.9 259.0,1421.9 259.8,1422.0 260.5,1422.0 261.3,1422.1 262.0,1422.1 262.8,1422.2 263.5,1422.2 264.3,1422.2 265.0,1422.3 265.7,1422.3 266.5,1422.3 267.2,1422.3 268.0,1422.4 268.7,1422.4 269.5,1422.4 270.2,1422.4 271.0,1422.4 271.7,1422.4 272.4,1422.5 273.2,1422.5 273.9,1422.5 274.7,1422.5 275.4,1422.5 276.2,1422.5 276.9,1422.6 277.7,1422.6 278.4,1422.6 279.2,1422.6 279.9,1422.6 280.6,1422.6 281.4,1422.6 282.1,1422.6 282.9,1422.6 283.6,1422.6 284.4,1422.6 285.1,1422.6 285.9,1422.6 286.6,1422.6 287.3,1422.6 288.1,1422.6 288.8,1422.6 289.6,1422.6 290.3,1422.6 291.1,1422.6 291.8,1422.6 292.6,1422.6 293.3,1422.6 294.1,1422.6 294.8,1422.6 295.5,1422.6 296.3,1422.6 297.0,1422.6 297.8,1422.6 298.5,1422.6 299.3,1422.6 300.0,1422.6 300.8,1422.6 301.5,1422.6 302.2,1422.6" fill="none" stroke="#9a5ad8" stroke-width="1.7"/><polyline points="145.8,1424.5 146.5,1424.5 147.3,1424.5 148.0,1424.5 148.8,1424.4 149.5,1424.4 150.3,1424.4 151.0,1424.4 151.8,1424.4 152.5,1424.4 153.2,1424.4 154.0,1424.4 154.7,1424.3 155.5,1424.3 156.2,1424.3 157.0,1424.3 157.7,1424.3 158.5,1424.3 159.2,1424.3 160.0,1424.3 160.7,1424.2 161.4,1424.2 162.2,1424.2 162.9,1424.2 163.7,1424.2 164.4,1424.2 165.2,1424.2 165.9,1424.1 166.7,1424.1 167.4,1424.1 168.2,1424.1 168.9,1424.1 169.6,1424.1 170.4,1424.1 171.1,1424.1 171.9,1424.0 172.6,1424.0 173.4,1424.0 174.1,1424.0 174.9,1424.0 175.6,1424.0 176.3,1424.0 177.1,1424.0 177.8,1423.9 178.6,1423.9 179.3,1423.9 180.1,1423.9 180.8,1423.9 181.6,1423.9 182.3,1423.9 183.1,1423.8 183.8,1423.8 184.5,1423.8 185.3,1423.8 186.0,1423.8 186.8,1423.8 187.5,1423.8 188.3,1423.8 189.0,1423.7 189.8,1423.7 190.5,1423.7 191.2,1423.7 192.0,1423.7 192.7,1423.7 193.5,1423.7 194.2,1423.7 195.0,1423.6 195.7,1423.6 196.5,1423.6 197.2,1423.6 198.0,1423.6 198.7,1423.4 199.4,1423.2 200.2,1423.0 200.9,1422.9 201.7,1422.7 202.4,1422.5 203.2,1420.7 203.9,1419.0 204.7,1417.2 205.4,1415.5 206.1,1407.8 206.9,1400.0 207.6,1392.3 208.4,1383.7 209.1,1375.1 209.9,1366.4 210.6,1362.2 211.4,1358.0 212.1,1353.8 212.8,1356.1 213.6,1358.4 214.3,1360.8 215.1,1364.3 215.8,1367.7 216.6,1371.2 217.3,1371.6 218.1,1371.9 218.8,1371.0 219.6,1370.0 220.3,1369.1 221.0,1368.7 221.8,1368.4 222.5,1369.8 223.3,1371.2 224.0,1372.6 224.8,1375.6 225.5,1378.6 226.3,1381.6 227.0,1385.1 227.8,1388.6 228.5,1392.1 229.2,1394.7 230.0,1397.3 230.7,1400.0 231.5,1402.6 232.2,1404.1 233.0,1405.6 233.7,1407.2 234.5,1408.7 235.2,1410.2 235.9,1411.2 236.7,1412.2 237.4,1413.2 238.2,1414.1 238.9,1415.1 239.7,1415.5 240.4,1415.9 241.2,1416.3 241.9,1416.6 242.7,1417.0 243.4,1417.1 244.1,1417.2 244.9,1417.3 245.6,1417.4 246.4,1417.5 247.1,1417.7 247.9,1417.9 248.6,1418.1 249.4,1418.3 250.1,1418.5 250.8,1418.6 251.6,1418.8 252.3,1419.0 253.1,1419.1 253.8,1419.3 254.6,1419.5 255.3,1419.6 256.1,1419.8 256.8,1420.0 257.6,1420.2 258.3,1420.3 259.0,1420.4 259.8,1420.5 260.5,1420.6 261.3,1420.7 262.0,1420.8 262.8,1420.9 263.5,1421.0 264.3,1421.1 265.0,1421.3 265.7,1421.3 266.5,1421.3 267.2,1421.4 268.0,1421.4 268.7,1421.5 269.5,1421.5 270.2,1421.6 271.0,1421.6 271.7,1421.7 272.4,1421.7 273.2,1421.7 273.9,1421.8 274.7,1421.8 275.4,1421.9 276.2,1421.9 276.9,1422.0 277.7,1422.0 278.4,1422.1 279.2,1422.1 279.9,1422.2 280.6,1422.2 281.4,1422.2 282.1,1422.2 282.9,1422.2 283.6,1422.2 284.4,1422.2 285.1,1422.2 285.9,1422.2 286.6,1422.2 287.3,1422.2 288.1,1422.2 288.8,1422.2 289.6,1422.3 290.3,1422.3 291.1,1422.3 291.8,1422.3 292.6,1422.3 293.3,1422.3 294.1,1422.3 294.8,1422.3 295.5,1422.3 296.3,1422.3 297.0,1422.3 297.8,1422.3 298.5,1422.4 299.3,1422.4 300.0,1422.4 300.8,1422.4 301.5,1422.4 302.2,1422.4" fill="none" stroke="#7a28b8" stroke-width="1.7"/><polyline points="145.8,1424.5 146.5,1424.5 147.3,1424.5 148.0,1424.4 148.8,1424.4 149.5,1424.4 150.3,1424.4 151.0,1424.4 151.8,1424.4 152.5,1424.3 153.2,1424.3 154.0,1424.3 154.7,1424.3 155.5,1424.3 156.2,1424.3 157.0,1424.2 157.7,1424.2 158.5,1424.2 159.2,1424.2 160.0,1424.2 160.7,1424.2 161.4,1424.1 162.2,1424.1 162.9,1424.1 163.7,1424.1 164.4,1424.1 165.2,1424.0 165.9,1424.0 166.7,1424.0 167.4,1424.0 168.2,1424.0 168.9,1424.0 169.6,1423.9 170.4,1423.9 171.1,1423.9 171.9,1423.9 172.6,1423.9 173.4,1423.9 174.1,1423.8 174.9,1423.8 175.6,1423.8 176.3,1423.8 177.1,1423.8 177.8,1423.8 178.6,1423.7 179.3,1423.7 180.1,1423.7 180.8,1423.7 181.6,1423.7 182.3,1423.6 183.1,1423.6 183.8,1423.6 184.5,1423.6 185.3,1423.6 186.0,1423.6 186.8,1423.5 187.5,1423.5 188.3,1423.5 189.0,1423.5 189.8,1423.5 190.5,1423.5 191.2,1423.4 192.0,1423.4 192.7,1423.4 193.5,1423.4 194.2,1423.4 195.0,1423.3 195.7,1423.3 196.5,1423.3 197.2,1423.3 198.0,1423.3 198.7,1422.9 199.4,1422.6 200.2,1422.3 200.9,1421.9 201.7,1421.6 202.4,1421.3 203.2,1417.9 203.9,1414.6 204.7,1411.3 205.4,1408.0 206.1,1393.5 206.9,1379.0 207.6,1364.4 208.4,1348.1 209.1,1331.9 209.9,1315.6 210.6,1307.6 211.4,1299.7 212.1,1291.8 212.8,1296.2 213.6,1300.6 214.3,1305.0 215.1,1311.6 215.8,1318.1 216.6,1324.7 217.3,1325.4 218.1,1326.0 218.8,1324.3 219.6,1322.5 220.3,1320.7 221.0,1320.1 221.8,1319.4 222.5,1322.0 223.3,1324.7 224.0,1327.3 224.8,1333.0 225.5,1338.7 226.3,1344.4 227.0,1351.0 227.8,1357.6 228.5,1364.2 229.2,1369.2 230.0,1374.1 230.7,1379.0 231.5,1384.0 232.2,1386.9 233.0,1389.8 233.7,1392.7 234.5,1395.6 235.2,1398.5 235.9,1400.3 236.7,1402.1 237.4,1404.0 238.2,1405.8 238.9,1407.7 239.7,1408.4 240.4,1409.1 241.2,1409.9 241.9,1410.6 242.7,1411.3 243.4,1411.5 244.1,1411.7 244.9,1411.8 245.6,1412.0 246.4,1412.2 247.1,1412.6 247.9,1413.0 248.6,1413.4 249.4,1413.8 250.1,1414.1 250.8,1414.5 251.6,1414.8 252.3,1415.1 253.1,1415.4 253.8,1415.8 254.6,1416.1 255.3,1416.4 256.1,1416.7 256.8,1417.0 257.6,1417.4 258.3,1417.6 259.0,1417.8 259.8,1418.0 260.5,1418.2 261.3,1418.4 262.0,1418.7 262.8,1418.9 263.5,1419.1 264.3,1419.3 265.0,1419.5 265.7,1419.6 266.5,1419.7 267.2,1419.8 268.0,1419.9 268.7,1420.0 269.5,1420.1 270.2,1420.2 271.0,1420.3 271.7,1420.3 272.4,1420.4 273.2,1420.5 273.9,1420.6 274.7,1420.7 275.4,1420.8 276.2,1420.9 276.9,1421.0 277.7,1421.1 278.4,1421.2 279.2,1421.3 279.9,1421.3 280.6,1421.4 281.4,1421.4 282.1,1421.4 282.9,1421.4 283.6,1421.5 284.4,1421.5 285.1,1421.5 285.9,1421.5 286.6,1421.5 287.3,1421.6 288.1,1421.6 288.8,1421.6 289.6,1421.6 290.3,1421.7 291.1,1421.7 291.8,1421.7 292.6,1421.7 293.3,1421.8 294.1,1421.8 294.8,1421.8 295.5,1421.8 296.3,1421.8 297.0,1421.9 297.8,1421.9 298.5,1421.9 299.3,1421.9 300.0,1422.0 300.8,1422.0 301.5,1422.0 302.2,1422.0" fill="none" stroke="#e82828" stroke-width="1.7"/><polyline points="145.8,1424.5 146.5,1424.5 147.3,1424.4 148.0,1424.4 148.8,1424.4 149.5,1424.4 150.3,1424.3 151.0,1424.3 151.8,1424.3 152.5,1424.3 153.2,1424.2 154.0,1424.2 154.7,1424.2 155.5,1424.2 156.2,1424.1 157.0,1424.1 157.7,1424.1 158.5,1424.1 159.2,1424.0 160.0,1424.0 160.7,1424.0 161.4,1424.0 162.2,1423.9 162.9,1423.9 163.7,1423.9 164.4,1423.8 165.2,1423.8 165.9,1423.8 166.7,1423.8 167.4,1423.7 168.2,1423.7 168.9,1423.7 169.6,1423.7 170.4,1423.6 171.1,1423.6 171.9,1423.6 172.6,1423.6 173.4,1423.5 174.1,1423.5 174.9,1423.5 175.6,1423.5 176.3,1423.4 177.1,1423.4 177.8,1423.4 178.6,1423.4 179.3,1423.3 180.1,1423.3 180.8,1423.3 181.6,1423.3 182.3,1423.2 183.1,1423.2 183.8,1423.2 184.5,1423.1 185.3,1423.1 186.0,1423.1 186.8,1423.1 187.5,1423.0 188.3,1423.0 189.0,1423.0 189.8,1423.0 190.5,1422.9 191.2,1422.9 192.0,1422.9 192.7,1422.9 193.5,1422.8 194.2,1422.8 195.0,1422.8 195.7,1422.8 196.5,1422.7 197.2,1422.7 198.0,1422.7 198.7,1422.0 199.4,1421.4 200.2,1420.8 200.9,1420.1 201.7,1419.5 202.4,1418.9 203.2,1412.5 203.9,1406.2 204.7,1399.9 205.4,1393.6 206.1,1365.9 206.9,1338.2 207.6,1310.4 208.4,1279.3 209.1,1248.3 209.9,1217.2 210.6,1202.0 211.4,1186.9 212.1,1171.8 212.8,1180.2 213.6,1188.6 214.3,1197.0 215.1,1209.6 215.8,1222.1 216.6,1234.7 217.3,1236.0 218.1,1237.2 218.8,1233.9 219.6,1230.5 220.3,1227.1 221.0,1225.9 221.8,1224.6 222.5,1229.6 223.3,1234.7 224.0,1239.7 224.8,1250.6 225.5,1261.5 226.3,1272.4 227.0,1285.0 227.8,1297.6 228.5,1310.2 229.2,1319.7 230.0,1329.1 230.7,1338.5 231.5,1348.0 232.2,1353.5 233.0,1359.1 233.7,1364.6 234.5,1370.1 235.2,1375.7 235.9,1379.2 236.7,1382.7 237.4,1386.2 238.2,1389.7 238.9,1393.3 239.7,1394.7 240.4,1396.1 241.2,1397.5 241.9,1398.9 242.7,1400.3 243.4,1400.6 244.1,1401.0 244.9,1401.3 245.6,1401.7 246.4,1402.0 247.1,1402.7 247.9,1403.5 248.6,1404.2 249.4,1405.0 250.1,1405.7 250.8,1406.4 251.6,1407.0 252.3,1407.6 253.1,1408.2 253.8,1408.8 254.6,1409.5 255.3,1410.1 256.1,1410.7 256.8,1411.3 257.6,1412.0 258.3,1412.4 259.0,1412.8 259.8,1413.2 260.5,1413.6 261.3,1414.1 262.0,1414.5 262.8,1414.9 263.5,1415.3 264.3,1415.7 265.0,1416.2 265.7,1416.3 266.5,1416.5 267.2,1416.7 268.0,1416.9 268.7,1417.1 269.5,1417.2 270.2,1417.4 271.0,1417.6 271.7,1417.8 272.4,1418.0 273.2,1418.2 273.9,1418.3 274.7,1418.5 275.4,1418.7 276.2,1418.9 276.9,1419.1 277.7,1419.2 278.4,1419.4 279.2,1419.6 279.9,1419.8 280.6,1419.8 281.4,1419.9 282.1,1419.9 282.9,1420.0 283.6,1420.0 284.4,1420.1 285.1,1420.1 285.9,1420.2 286.6,1420.2 287.3,1420.3 288.1,1420.3 288.8,1420.4 289.6,1420.4 290.3,1420.5 291.1,1420.5 291.8,1420.6 292.6,1420.6 293.3,1420.7 294.1,1420.7 294.8,1420.8 295.5,1420.9 296.3,1420.9 297.0,1421.0 297.8,1421.0 298.5,1421.1 299.3,1421.1 300.0,1421.2 300.8,1421.2 301.5,1421.3 302.2,1421.3" fill="none" stroke="#222" stroke-width="1.7"/><line x1="286" y1="1176.0" x2="325" y2="1176.0" stroke="#222" stroke-width="2.2"/><text x="331" y="1182.0" font-size="18.5" fill="#000">26 kW/cm²</text><line x1="286" y1="1201.6" x2="325" y2="1201.6" stroke="#e82828" stroke-width="2.2"/><text x="331" y="1207.6" font-size="18.5" fill="#000">14 kW/cm²</text><line x1="286" y1="1227.2" x2="325" y2="1227.2" stroke="#7a28b8" stroke-width="2.2"/><text x="331" y="1233.2" font-size="18.5" fill="#000">7.2 kW/cm²</text><line x1="286" y1="1252.8" x2="325" y2="1252.8" stroke="#9a5ad8" stroke-width="2.2"/><text x="331" y="1258.8" font-size="18.5" fill="#000">4.7 kW/cm²</text><line x1="286" y1="1278.5" x2="325" y2="1278.5" stroke="#3aa830" stroke-width="2.2"/><text x="331" y="1284.5" font-size="18.5" fill="#000">3.5 kW/cm²</text><line x1="286" y1="1304.1" x2="325" y2="1304.1" stroke="#5a6ae8" stroke-width="2.2"/><text x="331" y="1310.1" font-size="18.5" fill="#000">1.8 kW/cm²</text><line x1="286" y1="1329.7" x2="325" y2="1329.7" stroke="#f07820" stroke-width="2.2"/><text x="331" y="1335.7" font-size="18.5" fill="#000">850 W/cm²</text><rect x="521.8" y="1156.9" width="378.4" height="282.0" fill="#fff" stroke="#333" stroke-width="1.8"/><line x1="536.5" y1="1438.9" x2="536.5" y2="1435.9" stroke="#333" stroke-width="1.2"/><line x1="560.1" y1="1438.9" x2="560.1" y2="1435.9" stroke="#333" stroke-width="1.2"/><line x1="576.9" y1="1438.9" x2="576.9" y2="1435.9" stroke="#333" stroke-width="1.2"/><line x1="589.9" y1="1438.9" x2="589.9" y2="1435.9" stroke="#333" stroke-width="1.2"/><line x1="600.5" y1="1438.9" x2="600.5" y2="1435.9" stroke="#333" stroke-width="1.2"/><line x1="609.5" y1="1438.9" x2="609.5" y2="1435.9" stroke="#333" stroke-width="1.2"/><line x1="617.3" y1="1438.9" x2="617.3" y2="1435.9" stroke="#333" stroke-width="1.2"/><line x1="624.2" y1="1438.9" x2="624.2" y2="1435.9" stroke="#333" stroke-width="1.2"/><line x1="630.3" y1="1438.9" x2="630.3" y2="1432.9" stroke="#333" stroke-width="1.2"/><line x1="670.7" y1="1438.9" x2="670.7" y2="1435.9" stroke="#333" stroke-width="1.2"/><line x1="694.3" y1="1438.9" x2="694.3" y2="1435.9" stroke="#333" stroke-width="1.2"/><line x1="711.1" y1="1438.9" x2="711.1" y2="1435.9" stroke="#333" stroke-width="1.2"/><line x1="724.1" y1="1438.9" x2="724.1" y2="1435.9" stroke="#333" stroke-width="1.2"/><line x1="734.7" y1="1438.9" x2="734.7" y2="1435.9" stroke="#333" stroke-width="1.2"/><line x1="743.7" y1="1438.9" x2="743.7" y2="1435.9" stroke="#333" stroke-width="1.2"/><line x1="751.5" y1="1438.9" x2="751.5" y2="1435.9" stroke="#333" stroke-width="1.2"/><line x1="758.4" y1="1438.9" x2="758.4" y2="1435.9" stroke="#333" stroke-width="1.2"/><line x1="764.5" y1="1438.9" x2="764.5" y2="1432.9" stroke="#333" stroke-width="1.2"/><line x1="804.9" y1="1438.9" x2="804.9" y2="1435.9" stroke="#333" stroke-width="1.2"/><line x1="828.5" y1="1438.9" x2="828.5" y2="1435.9" stroke="#333" stroke-width="1.2"/><line x1="845.3" y1="1438.9" x2="845.3" y2="1435.9" stroke="#333" stroke-width="1.2"/><line x1="858.3" y1="1438.9" x2="858.3" y2="1435.9" stroke="#333" stroke-width="1.2"/><line x1="868.9" y1="1438.9" x2="868.9" y2="1435.9" stroke="#333" stroke-width="1.2"/><line x1="877.9" y1="1438.9" x2="877.9" y2="1435.9" stroke="#333" stroke-width="1.2"/><line x1="885.7" y1="1438.9" x2="885.7" y2="1435.9" stroke="#333" stroke-width="1.2"/><line x1="892.6" y1="1438.9" x2="892.6" y2="1435.9" stroke="#333" stroke-width="1.2"/><text x="630.3" y="1462" font-size="19.5" fill="#000" text-anchor="middle">1</text><text x="764.5" y="1462" font-size="19.5" fill="#000" text-anchor="middle">10</text><text x="898.7" y="1462" font-size="19.5" fill="#000" text-anchor="middle">100</text><line x1="895.2" y1="1400.3" x2="900.2" y2="1400.3" stroke="#333" stroke-width="1.3"/><text x="904" y="1407.3" font-size="19.5" fill="#000">5</text><line x1="895.2" y1="1320.0" x2="900.2" y2="1320.0" stroke="#333" stroke-width="1.3"/><text x="904" y="1327.0" font-size="19.5" fill="#000">10</text><line x1="895.2" y1="1239.8" x2="900.2" y2="1239.8" stroke="#333" stroke-width="1.3"/><text x="904" y="1246.8" font-size="19.5" fill="#000">15</text><line x1="895.2" y1="1159.5" x2="900.2" y2="1159.5" stroke="#333" stroke-width="1.3"/><text x="904" y="1166.5" font-size="19.5" fill="#000">20</text><line x1="521.8" y1="1208" x2="527.8" y2="1208" stroke="#333" stroke-width="1.3"/><line x1="521.8" y1="1306" x2="527.8" y2="1306" stroke="#333" stroke-width="1.3"/><line x1="521.8" y1="1395" x2="527.8" y2="1395" stroke="#333" stroke-width="1.3"/><line x1="521.8" y1="1160" x2="524.8" y2="1160" stroke="#333" stroke-width="0.9"/><line x1="521.8" y1="1167" x2="524.8" y2="1167" stroke="#333" stroke-width="0.9"/><line x1="521.8" y1="1174" x2="524.8" y2="1174" stroke="#333" stroke-width="0.9"/><line x1="521.8" y1="1181" x2="524.8" y2="1181" stroke="#333" stroke-width="0.9"/><line x1="521.8" y1="1188" x2="524.8" y2="1188" stroke="#333" stroke-width="0.9"/><line x1="521.8" y1="1195" x2="524.8" y2="1195" stroke="#333" stroke-width="0.9"/><line x1="521.8" y1="1202" x2="524.8" y2="1202" stroke="#333" stroke-width="0.9"/><line x1="521.8" y1="1209" x2="524.8" y2="1209" stroke="#333" stroke-width="0.9"/><line x1="521.8" y1="1216" x2="524.8" y2="1216" stroke="#333" stroke-width="0.9"/><line x1="521.8" y1="1223" x2="524.8" y2="1223" stroke="#333" stroke-width="0.9"/><line x1="521.8" y1="1230" x2="524.8" y2="1230" stroke="#333" stroke-width="0.9"/><line x1="521.8" y1="1237" x2="524.8" y2="1237" stroke="#333" stroke-width="0.9"/><line x1="521.8" y1="1244" x2="524.8" y2="1244" stroke="#333" stroke-width="0.9"/><line x1="521.8" y1="1251" x2="524.8" y2="1251" stroke="#333" stroke-width="0.9"/><line x1="521.8" y1="1258" x2="524.8" y2="1258" stroke="#333" stroke-width="0.9"/><line x1="521.8" y1="1265" x2="524.8" y2="1265" stroke="#333" stroke-width="0.9"/><line x1="521.8" y1="1272" x2="524.8" y2="1272" stroke="#333" stroke-width="0.9"/><line x1="521.8" y1="1279" x2="524.8" y2="1279" stroke="#333" stroke-width="0.9"/><line x1="521.8" y1="1286" x2="524.8" y2="1286" stroke="#333" stroke-width="0.9"/><line x1="521.8" y1="1293" x2="524.8" y2="1293" stroke="#333" stroke-width="0.9"/><line x1="521.8" y1="1300" x2="524.8" y2="1300" stroke="#333" stroke-width="0.9"/><line x1="521.8" y1="1307" x2="524.8" y2="1307" stroke="#333" stroke-width="0.9"/><line x1="521.8" y1="1314" x2="524.8" y2="1314" stroke="#333" stroke-width="0.9"/><line x1="521.8" y1="1321" x2="524.8" y2="1321" stroke="#333" stroke-width="0.9"/><line x1="521.8" y1="1328" x2="524.8" y2="1328" stroke="#333" stroke-width="0.9"/><line x1="521.8" y1="1335" x2="524.8" y2="1335" stroke="#333" stroke-width="0.9"/><line x1="521.8" y1="1342" x2="524.8" y2="1342" stroke="#333" stroke-width="0.9"/><line x1="521.8" y1="1349" x2="524.8" y2="1349" stroke="#333" stroke-width="0.9"/><line x1="521.8" y1="1356" x2="524.8" y2="1356" stroke="#333" stroke-width="0.9"/><line x1="521.8" y1="1363" x2="524.8" y2="1363" stroke="#333" stroke-width="0.9"/><line x1="521.8" y1="1370" x2="524.8" y2="1370" stroke="#333" stroke-width="0.9"/><line x1="521.8" y1="1377" x2="524.8" y2="1377" stroke="#333" stroke-width="0.9"/><line x1="521.8" y1="1384" x2="524.8" y2="1384" stroke="#333" stroke-width="0.9"/><line x1="521.8" y1="1391" x2="524.8" y2="1391" stroke="#333" stroke-width="0.9"/><line x1="521.8" y1="1398" x2="524.8" y2="1398" stroke="#333" stroke-width="0.9"/><line x1="521.8" y1="1405" x2="524.8" y2="1405" stroke="#333" stroke-width="0.9"/><line x1="521.8" y1="1412" x2="524.8" y2="1412" stroke="#333" stroke-width="0.9"/><line x1="521.8" y1="1419" x2="524.8" y2="1419" stroke="#333" stroke-width="0.9"/><line x1="521.8" y1="1426" x2="524.8" y2="1426" stroke="#333" stroke-width="0.9"/><line x1="521.8" y1="1433" x2="524.8" y2="1433" stroke="#333" stroke-width="0.9"/><text x="719" y="1496" font-size="20.8" fill="#000" text-anchor="middle">Pump power density (kW/cm²)</text><text transform="translate(506,1311) rotate(-90)" font-size="21" fill="#000" text-anchor="middle">Intensity (a.u.)</text><polyline points="627.9,1344.9 635.1,1342.5 649.6,1328.0 658.0,1317.2 669.6,1309.9 673.7,1303.9 676.1,1296.7 680.2,1273.0 685.2,1261.7 689.3,1254.5 692.9,1250.9 704.3,1237.6 714.6,1234.5 729.8,1221.9 751.5,1205.6 767.2,1198.6 780.9,1189.9 799.0,1176.9" fill="none" stroke="#333" stroke-width="1.6"/><polyline points="578.0,1415.5 598.2,1397.9 619.9,1381.5 641.6,1366.6 666.4,1353.3 686.4,1337.6 694.2,1331.6 702.6,1326.8 709.8,1313.5 714.6,1305.1 720.2,1297.9 724.3,1282.2 727.9,1276.2 734.4,1273.3 743.6,1265.3 753.7,1260.5 768.4,1251.4 781.6,1239.3 794.7,1231.1" fill="none" stroke="#333" stroke-width="1.6"/><circle cx="627.9" cy="1344.9" r="5.2" fill="#e8202a"/><circle cx="635.1" cy="1342.5" r="5.2" fill="#e8202a"/><circle cx="649.6" cy="1328.0" r="5.2" fill="#e8202a"/><circle cx="658.0" cy="1317.2" r="5.2" fill="#e8202a"/><circle cx="669.6" cy="1309.9" r="5.2" fill="#e8202a"/><circle cx="673.7" cy="1303.9" r="5.2" fill="#e8202a"/><circle cx="676.1" cy="1296.7" r="5.2" fill="#e8202a"/><circle cx="680.2" cy="1273.0" r="5.2" fill="#e8202a"/><circle cx="685.2" cy="1261.7" r="5.2" fill="#e8202a"/><circle cx="689.3" cy="1254.5" r="5.2" fill="#e8202a"/><circle cx="692.9" cy="1250.9" r="5.2" fill="#e8202a"/><circle cx="704.3" cy="1237.6" r="5.2" fill="#e8202a"/><circle cx="714.6" cy="1234.5" r="5.2" fill="#e8202a"/><circle cx="729.8" cy="1221.9" r="5.2" fill="#e8202a"/><circle cx="751.5" cy="1205.6" r="5.2" fill="#e8202a"/><circle cx="767.2" cy="1198.6" r="5.2" fill="#e8202a"/><circle cx="780.9" cy="1189.9" r="5.2" fill="#e8202a"/><circle cx="799.0" cy="1176.9" r="5.2" fill="#e8202a"/><circle cx="578.0" cy="1415.5" r="5.2" fill="#3a78c8"/><circle cx="598.2" cy="1397.9" r="5.2" fill="#3a78c8"/><circle cx="619.9" cy="1381.5" r="5.2" fill="#3a78c8"/><circle cx="641.6" cy="1366.6" r="5.2" fill="#3a78c8"/><circle cx="666.4" cy="1353.3" r="5.2" fill="#3a78c8"/><circle cx="686.4" cy="1337.6" r="5.2" fill="#3a78c8"/><circle cx="694.2" cy="1331.6" r="5.2" fill="#3a78c8"/><circle cx="702.6" cy="1326.8" r="5.2" fill="#3a78c8"/><circle cx="709.8" cy="1313.5" r="5.2" fill="#3a78c8"/><circle cx="714.6" cy="1305.1" r="5.2" fill="#3a78c8"/><circle cx="720.2" cy="1297.9" r="5.2" fill="#3a78c8"/><circle cx="724.3" cy="1282.2" r="5.2" fill="#3a78c8"/><circle cx="727.9" cy="1276.2" r="5.2" fill="#3a78c8"/><circle cx="734.4" cy="1273.3" r="5.2" fill="#3a78c8"/><circle cx="743.6" cy="1265.3" r="5.2" fill="#3a78c8"/><circle cx="753.7" cy="1260.5" r="5.2" fill="#3a78c8"/><circle cx="768.4" cy="1251.4" r="5.2" fill="#3a78c8"/><circle cx="781.6" cy="1239.3" r="5.2" fill="#3a78c8"/><circle cx="794.7" cy="1231.1" r="5.2" fill="#3a78c8"/><circle cx="578.5" cy="1195.0" r="3.4" fill="#fff" stroke="#3a78c8" stroke-width="1.4"/><path d="M578.5,1191.6 A3.4,3.4 0 0 1 578.5,1198.4 Z" fill="#3a78c8"/><circle cx="599.4" cy="1255.2" r="3.4" fill="#fff" stroke="#3a78c8" stroke-width="1.4"/><path d="M599.4,1251.8 A3.4,3.4 0 0 1 599.4,1258.6 Z" fill="#3a78c8"/><circle cx="619.9" cy="1280.3" r="3.4" fill="#fff" stroke="#3a78c8" stroke-width="1.4"/><path d="M619.9,1276.9 A3.4,3.4 0 0 1 619.9,1283.7 Z" fill="#3a78c8"/><circle cx="642.3" cy="1315.9" r="3.4" fill="#fff" stroke="#3a78c8" stroke-width="1.4"/><path d="M642.3,1312.5 A3.4,3.4 0 0 1 642.3,1319.3 Z" fill="#3a78c8"/><circle cx="666.4" cy="1339.6" r="3.4" fill="#fff" stroke="#3a78c8" stroke-width="1.4"/><path d="M666.4,1336.2 A3.4,3.4 0 0 1 666.4,1343.0 Z" fill="#3a78c8"/><circle cx="686.4" cy="1354.0" r="3.4" fill="#fff" stroke="#3a78c8" stroke-width="1.4"/><path d="M686.4,1350.6 A3.4,3.4 0 0 1 686.4,1357.4 Z" fill="#3a78c8"/><circle cx="694.2" cy="1367.0" r="3.4" fill="#fff" stroke="#3a78c8" stroke-width="1.4"/><path d="M694.2,1363.6 A3.4,3.4 0 0 1 694.2,1370.4 Z" fill="#3a78c8"/><circle cx="702.6" cy="1377.4" r="3.4" fill="#fff" stroke="#3a78c8" stroke-width="1.4"/><path d="M702.6,1374.0 A3.4,3.4 0 0 1 702.6,1380.8 Z" fill="#3a78c8"/><circle cx="709.8" cy="1376.2" r="3.4" fill="#fff" stroke="#3a78c8" stroke-width="1.4"/><path d="M709.8,1372.8 A3.4,3.4 0 0 1 709.8,1379.6 Z" fill="#3a78c8"/><circle cx="715.8" cy="1369.0" r="3.4" fill="#fff" stroke="#3a78c8" stroke-width="1.4"/><path d="M715.8,1365.6 A3.4,3.4 0 0 1 715.8,1372.4 Z" fill="#3a78c8"/><circle cx="720.7" cy="1369.5" r="3.4" fill="#fff" stroke="#3a78c8" stroke-width="1.4"/><path d="M720.7,1366.1 A3.4,3.4 0 0 1 720.7,1372.9 Z" fill="#3a78c8"/><circle cx="727.4" cy="1359.8" r="3.4" fill="#fff" stroke="#3a78c8" stroke-width="1.4"/><path d="M727.4,1356.4 A3.4,3.4 0 0 1 727.4,1363.2 Z" fill="#3a78c8"/><circle cx="734.4" cy="1370.2" r="3.4" fill="#fff" stroke="#3a78c8" stroke-width="1.4"/><path d="M734.4,1366.8 A3.4,3.4 0 0 1 734.4,1373.6 Z" fill="#3a78c8"/><circle cx="743.6" cy="1373.8" r="3.4" fill="#fff" stroke="#3a78c8" stroke-width="1.4"/><path d="M743.6,1370.4 A3.4,3.4 0 0 1 743.6,1377.2 Z" fill="#3a78c8"/><circle cx="753.7" cy="1366.6" r="3.4" fill="#fff" stroke="#3a78c8" stroke-width="1.4"/><path d="M753.7,1363.2 A3.4,3.4 0 0 1 753.7,1370.0 Z" fill="#3a78c8"/><circle cx="768.4" cy="1365.4" r="3.4" fill="#fff" stroke="#3a78c8" stroke-width="1.4"/><path d="M768.4,1362.0 A3.4,3.4 0 0 1 768.4,1368.8 Z" fill="#3a78c8"/><circle cx="782.1" cy="1370.7" r="3.4" fill="#fff" stroke="#3a78c8" stroke-width="1.4"/><path d="M782.1,1367.3 A3.4,3.4 0 0 1 782.1,1374.1 Z" fill="#3a78c8"/><circle cx="794.7" cy="1367.3" r="3.4" fill="#fff" stroke="#3a78c8" stroke-width="1.4"/><path d="M794.7,1363.9 A3.4,3.4 0 0 1 794.7,1370.7 Z" fill="#3a78c8"/><circle cx="627.9" cy="1325.1" r="3.4" fill="#fff" stroke="#e8202a" stroke-width="1.4"/><path d="M627.9,1321.7 A3.4,3.4 0 0 1 627.9,1328.5 Z" fill="#e8202a"/><circle cx="650.3" cy="1361.7" r="3.4" fill="#fff" stroke="#e8202a" stroke-width="1.4"/><path d="M650.3,1358.3 A3.4,3.4 0 0 1 650.3,1365.1 Z" fill="#e8202a"/><circle cx="659.2" cy="1371.4" r="3.4" fill="#fff" stroke="#e8202a" stroke-width="1.4"/><path d="M659.2,1368.0 A3.4,3.4 0 0 1 659.2,1374.8 Z" fill="#e8202a"/><circle cx="670.0" cy="1389.5" r="3.4" fill="#fff" stroke="#e8202a" stroke-width="1.4"/><path d="M670.0,1386.1 A3.4,3.4 0 0 1 670.0,1392.9 Z" fill="#e8202a"/><circle cx="674.9" cy="1412.4" r="3.4" fill="#fff" stroke="#e8202a" stroke-width="1.4"/><path d="M674.9,1409.0 A3.4,3.4 0 0 1 674.9,1415.8 Z" fill="#e8202a"/><circle cx="677.3" cy="1419.6" r="3.4" fill="#fff" stroke="#e8202a" stroke-width="1.4"/><path d="M677.3,1416.2 A3.4,3.4 0 0 1 677.3,1423.0 Z" fill="#e8202a"/><circle cx="682.1" cy="1417.7" r="3.4" fill="#fff" stroke="#e8202a" stroke-width="1.4"/><path d="M682.1,1414.3 A3.4,3.4 0 0 1 682.1,1421.1 Z" fill="#e8202a"/><circle cx="688.1" cy="1416.7" r="3.4" fill="#fff" stroke="#e8202a" stroke-width="1.4"/><path d="M688.1,1413.3 A3.4,3.4 0 0 1 688.1,1420.1 Z" fill="#e8202a"/><circle cx="694.2" cy="1419.6" r="3.4" fill="#fff" stroke="#e8202a" stroke-width="1.4"/><path d="M694.2,1416.2 A3.4,3.4 0 0 1 694.2,1423.0 Z" fill="#e8202a"/><circle cx="705.0" cy="1419.1" r="3.4" fill="#fff" stroke="#e8202a" stroke-width="1.4"/><path d="M705.0,1415.7 A3.4,3.4 0 0 1 705.0,1422.5 Z" fill="#e8202a"/><circle cx="714.6" cy="1417.2" r="3.4" fill="#fff" stroke="#e8202a" stroke-width="1.4"/><path d="M714.6,1413.8 A3.4,3.4 0 0 1 714.6,1420.6 Z" fill="#e8202a"/><circle cx="729.8" cy="1416.0" r="3.4" fill="#fff" stroke="#e8202a" stroke-width="1.4"/><path d="M729.8,1412.6 A3.4,3.4 0 0 1 729.8,1419.4 Z" fill="#e8202a"/><circle cx="751.5" cy="1415.2" r="3.4" fill="#fff" stroke="#e8202a" stroke-width="1.4"/><path d="M751.5,1411.8 A3.4,3.4 0 0 1 751.5,1418.6 Z" fill="#e8202a"/><circle cx="767.7" cy="1414.8" r="3.4" fill="#fff" stroke="#e8202a" stroke-width="1.4"/><path d="M767.7,1411.4 A3.4,3.4 0 0 1 767.7,1418.2 Z" fill="#e8202a"/><circle cx="780.9" cy="1414.3" r="3.4" fill="#fff" stroke="#e8202a" stroke-width="1.4"/><path d="M780.9,1410.9 A3.4,3.4 0 0 1 780.9,1417.7 Z" fill="#e8202a"/><circle cx="800.2" cy="1411.4" r="3.4" fill="#fff" stroke="#e8202a" stroke-width="1.4"/><path d="M800.2,1408.0 A3.4,3.4 0 0 1 800.2,1414.8 Z" fill="#e8202a"/><circle cx="674.9" cy="1420.8" r="3.4" fill="#fff" stroke="#e8202a" stroke-width="1.4"/><path d="M674.9,1417.4 A3.4,3.4 0 0 1 674.9,1424.2 Z" fill="#e8202a"/><text x="812.3" y="1181.0" font-size="17" fill="#e8202a">8 K</text><text x="812.3" y="1232.8" font-size="17" fill="#3a78c8">78 K</text><line x1="613.4" y1="1345.4" x2="580.4" y2="1345.4" stroke="#e8202a" stroke-width="1.6"/><polygon points="572.4,1345.4 582.4,1340.4 582.4,1350.4" fill="#e8202a"/><line x1="576.0" y1="1403.9" x2="543.1" y2="1403.9" stroke="#3a78c8" stroke-width="1.6"/><polygon points="535.1,1403.9 545.1,1398.9 545.1,1408.9" fill="#3a78c8"/><line x1="815.9" y1="1367.0" x2="850.0" y2="1367.0" stroke="#7a88d8" stroke-width="1.6"/><polygon points="858.0,1367.0 848.0,1362.0 848.0,1372.0" fill="#7a88d8"/><line x1="814.7" y1="1411.4" x2="847.6" y2="1411.4" stroke="#e8202a" stroke-width="1.6"/><polygon points="855.6,1411.4 845.6,1406.4 845.6,1416.4" fill="#e8202a"/><text x="989" y="783" font-size="42.5" class="b" fill="#000">D</text><defs><linearGradient id="gDbg" x1="0" x2="1" y1="0" y2="0"><stop offset="0" stop-color="#4660b4"/><stop offset="1" stop-color="#5878c4"/></linearGradient><linearGradient id="gDleft" x1="0" x2="1"><stop offset="0" stop-color="#e4e4ec"/><stop offset="0.45" stop-color="#dcdce8"/><stop offset="0.7" stop-color="#6a80d0"/><stop offset="1" stop-color="#4a62c0"/></linearGradient><linearGradient id="gDright" x1="0" x2="1"><stop offset="0" stop-color="#5068c0"/><stop offset="0.45" stop-color="#6076c4"/><stop offset="0.62" stop-color="#a8aabc"/><stop offset="1" stop-color="#a8a8ac"/></linearGradient><linearGradient id="gDtop" x1="0" x2="1" y1="0" y2="1"><stop offset="0" stop-color="#b4b8d0"/><stop offset="1" stop-color="#c8c8d8"/></linearGradient><linearGradient id="gDhole" x1="0" x2="1" y1="0" y2="1"><stop offset="0" stop-color="#e0e0e4"/><stop offset="0.4" stop-color="#9a9a9e"/><stop offset="1" stop-color="#8a8a90"/></linearGradient></defs><rect x="1051.5" y="714.1" width="524.6" height="291.8" fill="url(#gDbg)"/><polygon points="1094.5,885.1 1273.4,966.7 1273.4,1005.9 1091.4,1005.9" fill="url(#gDleft)"/><polygon points="1273.4,966.7 1489.9,880.4 1488.3,1005.9 1273.4,1005.9" fill="url(#gDright)"/><polygon points="1094.5,845.9 1273.4,930.6 1273.4,966.7 1094.5,885.1" fill="#aaa8a0"/><polygon points="1273.4,930.6 1493.0,842.8 1493.0,880.4 1273.4,966.7" fill="#ffffff"/><polygon points="1311.0,760.2 1493.0,842.8 1273.4,930.6 1094.5,845.9" fill="url(#gDtop)"/><polygon points="1257.7,810.4 1370.6,863.2 1326.7,879.5 1216.9,827.1" fill="url(#gDhole)"/><polygon points="1257.7,810.4 1370.6,863.2 1365.9,865.0 1253.0,813.0" fill="#7a7a80" opacity="0.6"/><line x1="1151.0" y1="837.1" x2="1196.5" y2="820.8" stroke="#2a1a1a" stroke-width="1.6"/><line x1="1196.5" y1="816.1" x2="1199.6" y2="825.5" stroke="#2a1a1a" stroke-width="1.6"/><line x1="1237.3" y1="800.4" x2="1281.2" y2="783.2" stroke="#2a1a1a" stroke-width="1.6"/><line x1="1236.7" y1="795.7" x2="1239.8" y2="805.1" stroke="#2a1a1a" stroke-width="1.6"/><text transform="translate(1201.2,822.4) rotate(-22)" font-size="21" fill="#2a1a1a">S<tspan font-size="13" dy="4">y</tspan></text><line x1="1279.7" y1="803.5" x2="1317.3" y2="819.2" stroke="#2a1a1a" stroke-width="1.6"/><polygon points="1273.4,801.0 1289.1,802.9 1285.0,810.4" fill="#2a1a1a"/><line x1="1355.0" y1="838.1" x2="1394.2" y2="853.7" stroke="#2a1a1a" stroke-width="1.6"/><polygon points="1400.5,856.3 1384.8,855.3 1387.9,847.5" fill="#2a1a1a"/><text transform="translate(1323.6,822.4) rotate(68)" font-size="21" fill="#2a1a1a">S<tspan font-size="13" dy="4">x</tspan></text><text transform="translate(1417.7,908.7) rotate(-22)" font-size="31" fill="#111">Ag</text><text transform="translate(1411.4,1005.9) rotate(-22)" font-size="31" fill="#222">MgO</text><line x1="1543.2" y1="798.8" x2="1543.2" y2="838.1" stroke="#2a1a1a" stroke-width="1.6"/><line x1="1533.8" y1="838.1" x2="1552.6" y2="838.1" stroke="#2a1a1a" stroke-width="1.6"/><polygon points="1543.2,838.1 1538.5,828.6 1547.9,828.6" fill="#2a1a1a"/><line x1="1543.2" y1="874.1" x2="1543.2" y2="911.8" stroke="#2a1a1a" stroke-width="1.6"/><line x1="1533.8" y1="874.1" x2="1552.6" y2="874.1" stroke="#2a1a1a" stroke-width="1.6"/><polygon points="1543.2,874.1 1538.5,883.6 1547.9,883.6" fill="#2a1a1a"/><text transform="translate(1540.1,850.6) rotate(90)" font-size="13" fill="#2a1a1a">t<tspan font-size="9" dy="3">Ag</tspan></text><rect x="1595" y="767" width="350" height="235" fill="#a9a9a9"/><defs><filter id="semN" x="0" y="0" width="100%" height="100%"><feTurbulence type="fractalNoise" baseFrequency="0.06" numOctaves="2" seed="9"/><feColorMatrix type="matrix" values="0 0 0 0 0.55  0 0 0 0 0.55  0 0 0 0 0.55  0 0 0 0.5 -0.1"/></filter></defs><rect x="1595" y="767" width="350" height="235" filter="url(#semN)" opacity="0.35"/><clipPath id="clipSem"><rect x="1595" y="767" width="350" height="235"/></clipPath><g clip-path="url(#clipSem)"><rect x="1600.2" y="769.3" width="28" height="19" rx="9" fill="#cfcfcf" transform="rotate(30 1614.2 778.8)"/><rect x="1602.2" y="770.5" width="24" height="16.5" rx="8" fill="#58565a" transform="rotate(30 1614.2 778.8)"/><rect x="1648.7" y="769.3" width="28" height="19" rx="9" fill="#cfcfcf" transform="rotate(30 1662.7 778.8)"/><rect x="1650.7" y="770.5" width="24" height="16.5" rx="8" fill="#58565a" transform="rotate(30 1662.7 778.8)"/><rect x="1697.2" y="769.3" width="28" height="19" rx="9" fill="#cfcfcf" transform="rotate(40 1711.2 778.8)"/><rect x="1699.2" y="770.5" width="24" height="16.5" rx="8" fill="#58565a" transform="rotate(40 1711.2 778.8)"/><rect x="1745.7" y="769.3" width="28" height="19" rx="9" fill="#cfcfcf" transform="rotate(45 1759.7 778.8)"/><rect x="1747.7" y="770.5" width="24" height="16.5" rx="8" fill="#58565a" transform="rotate(45 1759.7 778.8)"/><rect x="1794.2" y="769.3" width="28" height="19" rx="9" fill="#cfcfcf" transform="rotate(55 1808.2 778.8)"/><rect x="1796.2" y="770.5" width="24" height="16.5" rx="8" fill="#58565a" transform="rotate(55 1808.2 778.8)"/><rect x="1842.7" y="769.3" width="28" height="19" rx="9" fill="#cfcfcf" transform="rotate(40 1856.7 778.8)"/><rect x="1844.7" y="770.5" width="24" height="16.5" rx="8" fill="#58565a" transform="rotate(40 1856.7 778.8)"/><rect x="1891.2" y="769.3" width="28" height="19" rx="9" fill="#cfcfcf" transform="rotate(90 1905.2 778.8)"/><rect x="1893.2" y="770.5" width="24" height="16.5" rx="8" fill="#58565a" transform="rotate(90 1905.2 778.8)"/><rect x="1600.2" y="817.1" width="28" height="19" rx="9" fill="#cfcfcf" transform="rotate(0 1614.2 826.6)"/><rect x="1602.2" y="818.3" width="24" height="16.5" rx="8" fill="#58565a" transform="rotate(0 1614.2 826.6)"/><rect x="1648.7" y="817.1" width="28" height="19" rx="9" fill="#cfcfcf" transform="rotate(0 1662.7 826.6)"/><rect x="1650.7" y="818.3" width="24" height="16.5" rx="8" fill="#58565a" transform="rotate(0 1662.7 826.6)"/><rect x="1697.2" y="817.1" width="28" height="19" rx="9" fill="#cfcfcf" transform="rotate(35 1711.2 826.6)"/><rect x="1699.2" y="818.3" width="24" height="16.5" rx="8" fill="#58565a" transform="rotate(35 1711.2 826.6)"/><rect x="1745.7" y="817.1" width="28" height="19" rx="9" fill="#cfcfcf" transform="rotate(30 1759.7 826.6)"/><rect x="1747.7" y="818.3" width="24" height="16.5" rx="8" fill="#58565a" transform="rotate(30 1759.7 826.6)"/><rect x="1794.2" y="817.1" width="28" height="19" rx="9" fill="#cfcfcf" transform="rotate(50 1808.2 826.6)"/><rect x="1796.2" y="818.3" width="24" height="16.5" rx="8" fill="#58565a" transform="rotate(50 1808.2 826.6)"/><rect x="1842.7" y="817.1" width="28" height="19" rx="9" fill="#cfcfcf" transform="rotate(40 1856.7 826.6)"/><rect x="1844.7" y="818.3" width="24" height="16.5" rx="8" fill="#58565a" transform="rotate(40 1856.7 826.6)"/><rect x="1891.2" y="817.1" width="28" height="19" rx="9" fill="#cfcfcf" transform="rotate(90 1905.2 826.6)"/><rect x="1893.2" y="818.3" width="24" height="16.5" rx="8" fill="#58565a" transform="rotate(90 1905.2 826.6)"/><rect x="1600.2" y="864.9" width="28" height="19" rx="9" fill="#cfcfcf" transform="rotate(0 1614.2 874.4)"/><rect x="1602.2" y="866.1" width="24" height="16.5" rx="8" fill="#58565a" transform="rotate(0 1614.2 874.4)"/><rect x="1648.7" y="864.9" width="28" height="19" rx="9" fill="#cfcfcf" transform="rotate(0 1662.7 874.4)"/><rect x="1650.7" y="866.1" width="24" height="16.5" rx="8" fill="#58565a" transform="rotate(0 1662.7 874.4)"/><rect x="1697.2" y="864.9" width="28" height="19" rx="9" fill="#cfcfcf" transform="rotate(25 1711.2 874.4)"/><rect x="1699.2" y="866.1" width="24" height="16.5" rx="8" fill="#58565a" transform="rotate(25 1711.2 874.4)"/><rect x="1745.7" y="864.9" width="28" height="19" rx="9" fill="#cfcfcf" transform="rotate(35 1759.7 874.4)"/><rect x="1747.7" y="866.1" width="24" height="16.5" rx="8" fill="#58565a" transform="rotate(35 1759.7 874.4)"/><rect x="1794.2" y="864.9" width="28" height="19" rx="9" fill="#cfcfcf" transform="rotate(40 1808.2 874.4)"/><rect x="1796.2" y="866.1" width="24" height="16.5" rx="8" fill="#58565a" transform="rotate(40 1808.2 874.4)"/><rect x="1842.7" y="864.9" width="28" height="19" rx="9" fill="#cfcfcf" transform="rotate(45 1856.7 874.4)"/><rect x="1844.7" y="866.1" width="24" height="16.5" rx="8" fill="#58565a" transform="rotate(45 1856.7 874.4)"/><rect x="1891.2" y="864.9" width="28" height="19" rx="9" fill="#cfcfcf" transform="rotate(90 1905.2 874.4)"/><rect x="1893.2" y="866.1" width="24" height="16.5" rx="8" fill="#58565a" transform="rotate(90 1905.2 874.4)"/><rect x="1600.2" y="912.7" width="28" height="19" rx="9" fill="#cfcfcf" transform="rotate(-40 1614.2 922.2)"/><rect x="1602.2" y="913.9" width="24" height="16.5" rx="8" fill="#58565a" transform="rotate(-40 1614.2 922.2)"/><rect x="1648.7" y="912.7" width="28" height="19" rx="9" fill="#cfcfcf" transform="rotate(-50 1662.7 922.2)"/><rect x="1650.7" y="913.9" width="24" height="16.5" rx="8" fill="#58565a" transform="rotate(-50 1662.7 922.2)"/><rect x="1697.2" y="912.7" width="28" height="19" rx="9" fill="#cfcfcf" transform="rotate(10 1711.2 922.2)"/><rect x="1699.2" y="913.9" width="24" height="16.5" rx="8" fill="#58565a" transform="rotate(10 1711.2 922.2)"/><rect x="1745.7" y="912.7" width="28" height="19" rx="9" fill="#cfcfcf" transform="rotate(10 1759.7 922.2)"/><rect x="1747.7" y="913.9" width="24" height="16.5" rx="8" fill="#58565a" transform="rotate(10 1759.7 922.2)"/><rect x="1794.2" y="912.7" width="28" height="19" rx="9" fill="#cfcfcf" transform="rotate(45 1808.2 922.2)"/><rect x="1796.2" y="913.9" width="24" height="16.5" rx="8" fill="#58565a" transform="rotate(45 1808.2 922.2)"/><rect x="1842.7" y="912.7" width="28" height="19" rx="9" fill="#cfcfcf" transform="rotate(40 1856.7 922.2)"/><rect x="1844.7" y="913.9" width="24" height="16.5" rx="8" fill="#58565a" transform="rotate(40 1856.7 922.2)"/><rect x="1891.2" y="912.7" width="28" height="19" rx="9" fill="#cfcfcf" transform="rotate(90 1905.2 922.2)"/><rect x="1893.2" y="913.9" width="24" height="16.5" rx="8" fill="#58565a" transform="rotate(90 1905.2 922.2)"/><rect x="1600.2" y="960.5" width="28" height="19" rx="9" fill="#cfcfcf" transform="rotate(-50 1614.2 970.0)"/><rect x="1602.2" y="961.8" width="24" height="16.5" rx="8" fill="#58565a" transform="rotate(-50 1614.2 970.0)"/><rect x="1648.7" y="960.5" width="28" height="19" rx="9" fill="#cfcfcf" transform="rotate(-55 1662.7 970.0)"/><rect x="1650.7" y="961.8" width="24" height="16.5" rx="8" fill="#58565a" transform="rotate(-55 1662.7 970.0)"/><rect x="1697.2" y="960.5" width="28" height="19" rx="9" fill="#cfcfcf" transform="rotate(10 1711.2 970.0)"/><rect x="1699.2" y="961.8" width="24" height="16.5" rx="8" fill="#58565a" transform="rotate(10 1711.2 970.0)"/><rect x="1745.7" y="960.5" width="28" height="19" rx="9" fill="#cfcfcf" transform="rotate(15 1759.7 970.0)"/><rect x="1747.7" y="961.8" width="24" height="16.5" rx="8" fill="#58565a" transform="rotate(15 1759.7 970.0)"/><rect x="1794.2" y="960.5" width="28" height="19" rx="9" fill="#cfcfcf" transform="rotate(30 1808.2 970.0)"/><rect x="1796.2" y="961.8" width="24" height="16.5" rx="8" fill="#58565a" transform="rotate(30 1808.2 970.0)"/><rect x="1842.7" y="960.5" width="28" height="19" rx="9" fill="#cfcfcf" transform="rotate(20 1856.7 970.0)"/><rect x="1844.7" y="961.8" width="24" height="16.5" rx="8" fill="#58565a" transform="rotate(20 1856.7 970.0)"/><rect x="1891.2" y="960.5" width="28" height="19" rx="9" fill="#cfcfcf" transform="rotate(90 1905.2 970.0)"/><rect x="1893.2" y="961.8" width="24" height="16.5" rx="8" fill="#58565a" transform="rotate(90 1905.2 970.0)"/></g><rect x="1793.5" y="969" width="121.5" height="11" fill="#141210"/><rect x="1039.5" y="1048.6" width="932.5" height="482.7" fill="#0f0c0b"/><defs><filter id="purN" x="0" y="0" width="100%" height="100%"><feTurbulence type="fractalNoise" baseFrequency="0.3" numOctaves="2" seed="21"/><feColorMatrix type="matrix" values="0 0 0 0 0.4  0 0 0 0 0.15  0 0 0 0 0.4  0 0 0 1.8 -0.85"/></filter><filter id="grnN" x="0" y="0" width="100%" height="100%"><feTurbulence type="fractalNoise" baseFrequency="0.1 0.16" numOctaves="3" seed="5"/><feColorMatrix type="matrix" values="0 0 0 0 0.05  0 0 0 0 0.3  0 0 0 0 0.08  0 0 0 2.4 -0.95"/></filter><filter id="tealN" x="0" y="0" width="100%" height="100%"><feTurbulence type="fractalNoise" baseFrequency="0.35" numOctaves="2" seed="8"/><feColorMatrix type="matrix" values="0 0 0 0 0.25  0 0 0 0 0.4  0 0 0 0 0.38  0 0 0 1.4 -0.6"/></filter><filter id="txtBlurP" x="-10%" y="-20%" width="120%" height="140%"><feGaussianBlur stdDeviation="1.1"/></filter><filter id="txtBlurG" x="-10%" y="-20%" width="120%" height="140%"><feGaussianBlur stdDeviation="2"/></filter><filter id="txtBlurT" x="-10%" y="-20%" width="120%" height="140%"><feGaussianBlur stdDeviation="2.4"/></filter><filter id="darkN" x="0" y="0" width="100%" height="100%"><feTurbulence type="fractalNoise" baseFrequency="0.45" numOctaves="2" seed="31"/><feColorMatrix type="matrix" values="0 0 0 0 0.08  0 0 0 0 0.04  0 0 0 0 0.08  0 0 0 -2.6 1.45"/></filter></defs><text x="1048" y="1078.5" font-size="25.5" fill="#f4f4f4" textLength="55" lengthAdjust="spacingAndGlyphs">1μm</text><rect x="1137" y="1049.0" width="266" height="57" fill="#1e0e1a"/><rect x="1137" y="1049.0" width="266" height="57" filter="url(#purN)" opacity="0.7"/><text x="1141" y="1097.0" font-size="54" class="b" fill="#d0a8d0" fill-opacity="0.85" stroke="#f8e8f8" stroke-width="3.2" filter="url(#txtBlurP)" textLength="252" lengthAdjust="spacingAndGlyphs">PURD UE</text><rect x="1137" y="1049.0" width="266" height="57" filter="url(#darkN)" opacity="0.55"/><rect x="1423" y="1049.0" width="264" height="56" fill="#3c8c2c"/><rect x="1423" y="1049.0" width="264" height="56" filter="url(#grnN)" opacity="0.85"/><text x="1431" y="1099.0" font-size="58" class="b" fill="#f6f8c4" stroke="#f6f8c4" stroke-width="4" filter="url(#txtBlurG)" textLength="244" lengthAdjust="spacingAndGlyphs" opacity="1">PURDUE</text><rect x="1423" y="1049.0" width="264" height="56" filter="url(#darkN)" opacity="0.35"/><rect x="1707" y="1049.0" width="265" height="56" fill="#141816"/><rect x="1707" y="1049.0" width="265" height="56" filter="url(#tealN)" opacity="0.6"/><text x="1718" y="1098.0" font-size="56" class="b" fill="#4e9282" stroke="#4e9282" stroke-width="2" filter="url(#txtBlurT)" textLength="240" lengthAdjust="spacingAndGlyphs" opacity="0.72">PURDUE</text><text x="1048" y="1144.5" font-size="25.5" fill="#f4f4f4" textLength="55" lengthAdjust="spacingAndGlyphs">2μm</text><rect x="1137" y="1115.0" width="266" height="57" fill="#1e0e1a"/><rect x="1137" y="1115.0" width="266" height="57" filter="url(#purN)" opacity="0.7"/><text x="1141" y="1163.0" font-size="54" class="b" fill="#d0a8d0" fill-opacity="0.85" stroke="#f8e8f8" stroke-width="3.2" filter="url(#txtBlurP)" textLength="252" lengthAdjust="spacingAndGlyphs">PURD UE</text><rect x="1137" y="1115.0" width="266" height="57" filter="url(#darkN)" opacity="0.55"/><rect x="1423" y="1115.0" width="264" height="56" fill="#3c8c2c"/><rect x="1423" y="1115.0" width="264" height="56" filter="url(#grnN)" opacity="0.85"/><text x="1431" y="1165.0" font-size="58" class="b" fill="#f6f8c4" stroke="#f6f8c4" stroke-width="4" filter="url(#txtBlurG)" textLength="244" lengthAdjust="spacingAndGlyphs" opacity="1">PURDUE</text><rect x="1423" y="1115.0" width="264" height="56" filter="url(#darkN)" opacity="0.35"/><rect x="1707" y="1115.0" width="265" height="56" fill="#141816"/><rect x="1707" y="1115.0" width="265" height="56" filter="url(#tealN)" opacity="0.6"/><text x="1718" y="1164.0" font-size="56" class="b" fill="#4e9282" stroke="#4e9282" stroke-width="2" filter="url(#txtBlurT)" textLength="240" lengthAdjust="spacingAndGlyphs" opacity="0.72">PURDUE</text><text x="1048" y="1214.0" font-size="25.5" fill="#f4f4f4" textLength="55" lengthAdjust="spacingAndGlyphs">3μm</text><rect x="1137" y="1184.5" width="266" height="57" fill="#1e0e1a"/><rect x="1137" y="1184.5" width="266" height="57" filter="url(#purN)" opacity="0.7"/><text x="1141" y="1232.5" font-size="54" class="b" fill="#d0a8d0" fill-opacity="0.85" stroke="#f8e8f8" stroke-width="3.2" filter="url(#txtBlurP)" textLength="252" lengthAdjust="spacingAndGlyphs">PURD UE</text><rect x="1137" y="1184.5" width="266" height="57" filter="url(#darkN)" opacity="0.55"/><rect x="1423" y="1184.5" width="264" height="56" fill="#3c8c2c"/><rect x="1423" y="1184.5" width="264" height="56" filter="url(#grnN)" opacity="0.85"/><text x="1431" y="1234.5" font-size="58" class="b" fill="#f6f8c4" stroke="#f6f8c4" stroke-width="4" filter="url(#txtBlurG)" textLength="244" lengthAdjust="spacingAndGlyphs" opacity="1">PURDUE</text><rect x="1423" y="1184.5" width="264" height="56" filter="url(#darkN)" opacity="0.35"/><rect x="1707" y="1184.5" width="265" height="56" fill="#141816"/><rect x="1707" y="1184.5" width="265" height="56" filter="url(#tealN)" opacity="0.6"/><text x="1718" y="1233.5" font-size="56" class="b" fill="#4e9282" stroke="#4e9282" stroke-width="2" filter="url(#txtBlurT)" textLength="240" lengthAdjust="spacingAndGlyphs" opacity="0.72">PURDUE</text><text x="1048" y="1284.5" font-size="25.5" fill="#f4f4f4" textLength="55" lengthAdjust="spacingAndGlyphs">4μm</text><rect x="1137" y="1255.0" width="266" height="57" fill="#1e0e1a"/><rect x="1137" y="1255.0" width="266" height="57" filter="url(#purN)" opacity="0.7"/><text x="1141" y="1303.0" font-size="54" class="b" fill="#d0a8d0" fill-opacity="0.85" stroke="#f8e8f8" stroke-width="3.2" filter="url(#txtBlurP)" textLength="252" lengthAdjust="spacingAndGlyphs">PURD UE</text><rect x="1137" y="1255.0" width="266" height="57" filter="url(#darkN)" opacity="0.55"/><rect x="1423" y="1255.0" width="264" height="56" fill="#3c8c2c"/><rect x="1423" y="1255.0" width="264" height="56" filter="url(#grnN)" opacity="0.85"/><text x="1431" y="1305.0" font-size="58" class="b" fill="#f6f8c4" stroke="#f6f8c4" stroke-width="4" filter="url(#txtBlurG)" textLength="244" lengthAdjust="spacingAndGlyphs" opacity="1">PURDUE</text><rect x="1423" y="1255.0" width="264" height="56" filter="url(#darkN)" opacity="0.35"/><rect x="1707" y="1255.0" width="265" height="56" fill="#141816"/><rect x="1707" y="1255.0" width="265" height="56" filter="url(#tealN)" opacity="0.6"/><text x="1718" y="1304.0" font-size="56" class="b" fill="#4e9282" stroke="#4e9282" stroke-width="2" filter="url(#txtBlurT)" textLength="240" lengthAdjust="spacingAndGlyphs" opacity="0.72">PURDUE</text><text x="1048" y="1355.0" font-size="25.5" fill="#f4f4f4" textLength="55" lengthAdjust="spacingAndGlyphs">5μm</text><rect x="1137" y="1325.5" width="266" height="57" fill="#1e0e1a"/><rect x="1137" y="1325.5" width="266" height="57" filter="url(#purN)" opacity="0.7"/><text x="1141" y="1373.5" font-size="54" class="b" fill="#d0a8d0" fill-opacity="0.85" stroke="#f8e8f8" stroke-width="3.2" filter="url(#txtBlurP)" textLength="252" lengthAdjust="spacingAndGlyphs">PURD UE</text><rect x="1137" y="1325.5" width="266" height="57" filter="url(#darkN)" opacity="0.55"/><rect x="1423" y="1325.5" width="264" height="56" fill="#245a20"/><rect x="1423" y="1325.5" width="264" height="56" filter="url(#grnN)" opacity="0.85"/><text x="1431" y="1375.5" font-size="58" class="b" fill="#cce8a8" stroke="#cce8a8" stroke-width="2.5" filter="url(#txtBlurG)" textLength="244" lengthAdjust="spacingAndGlyphs" opacity="0.8">PURDUE</text><rect x="1423" y="1325.5" width="264" height="56" filter="url(#darkN)" opacity="0.35"/><rect x="1707" y="1325.5" width="265" height="56" fill="#141816"/><rect x="1707" y="1325.5" width="265" height="56" filter="url(#tealN)" opacity="0.6"/><text x="1718" y="1374.5" font-size="56" class="b" fill="#4e9282" stroke="#4e9282" stroke-width="2" filter="url(#txtBlurT)" textLength="240" lengthAdjust="spacingAndGlyphs" opacity="0.6">PURDUE</text><text x="1048" y="1424.5" font-size="25.5" fill="#f4f4f4" textLength="55" lengthAdjust="spacingAndGlyphs">6μm</text><rect x="1137" y="1395.0" width="266" height="57" fill="#1e0e1a"/><rect x="1137" y="1395.0" width="266" height="57" filter="url(#purN)" opacity="0.7"/><text x="1141" y="1443.0" font-size="54" class="b" fill="#d0a8d0" fill-opacity="0.85" stroke="#f8e8f8" stroke-width="3.2" filter="url(#txtBlurP)" textLength="252" lengthAdjust="spacingAndGlyphs">PURD UE</text><rect x="1137" y="1395.0" width="266" height="57" filter="url(#darkN)" opacity="0.55"/><rect x="1423" y="1395.0" width="264" height="56" fill="#245a20"/><rect x="1423" y="1395.0" width="264" height="56" filter="url(#grnN)" opacity="0.85"/><text x="1431" y="1445.0" font-size="58" class="b" fill="#cce8a8" stroke="#cce8a8" stroke-width="2.5" filter="url(#txtBlurG)" textLength="244" lengthAdjust="spacingAndGlyphs" opacity="0.8">PURDUE</text><rect x="1423" y="1395.0" width="264" height="56" filter="url(#darkN)" opacity="0.35"/><rect x="1707" y="1395.0" width="265" height="56" fill="#141816"/><rect x="1707" y="1395.0" width="265" height="56" filter="url(#tealN)" opacity="0.6"/><text x="1718" y="1444.0" font-size="56" class="b" fill="#4e9282" stroke="#4e9282" stroke-width="2" filter="url(#txtBlurT)" textLength="240" lengthAdjust="spacingAndGlyphs" opacity="0.6">PURDUE</text><text x="1048" y="1494.5" font-size="25.5" fill="#f4f4f4" textLength="55" lengthAdjust="spacingAndGlyphs">7μm</text><rect x="1137" y="1465.0" width="266" height="57" fill="#1e0e1a"/><rect x="1137" y="1465.0" width="266" height="57" filter="url(#purN)" opacity="0.7"/><text x="1141" y="1513.0" font-size="54" class="b" fill="#d0a8d0" fill-opacity="0.85" stroke="#f8e8f8" stroke-width="3.2" filter="url(#txtBlurP)" textLength="252" lengthAdjust="spacingAndGlyphs">PURD UE</text><rect x="1137" y="1465.0" width="266" height="57" filter="url(#darkN)" opacity="0.55"/><rect x="1423" y="1465.0" width="264" height="56" fill="#245a20"/><rect x="1423" y="1465.0" width="264" height="56" filter="url(#grnN)" opacity="0.85"/><text x="1431" y="1515.0" font-size="58" class="b" fill="#cce8a8" stroke="#cce8a8" stroke-width="2.5" filter="url(#txtBlurG)" textLength="244" lengthAdjust="spacingAndGlyphs" opacity="0.8">PURDUE</text><rect x="1423" y="1465.0" width="264" height="56" filter="url(#darkN)" opacity="0.35"/><rect x="1707" y="1465.0" width="265" height="56" fill="#141816"/><rect x="1707" y="1465.0" width="265" height="56" filter="url(#tealN)" opacity="0.6"/><text x="1718" y="1514.0" font-size="56" class="b" fill="#4e9282" stroke="#4e9282" stroke-width="2" filter="url(#txtBlurT)" textLength="240" lengthAdjust="spacingAndGlyphs" opacity="0.6">PURDUE</text>
</svg>
</body></html>
